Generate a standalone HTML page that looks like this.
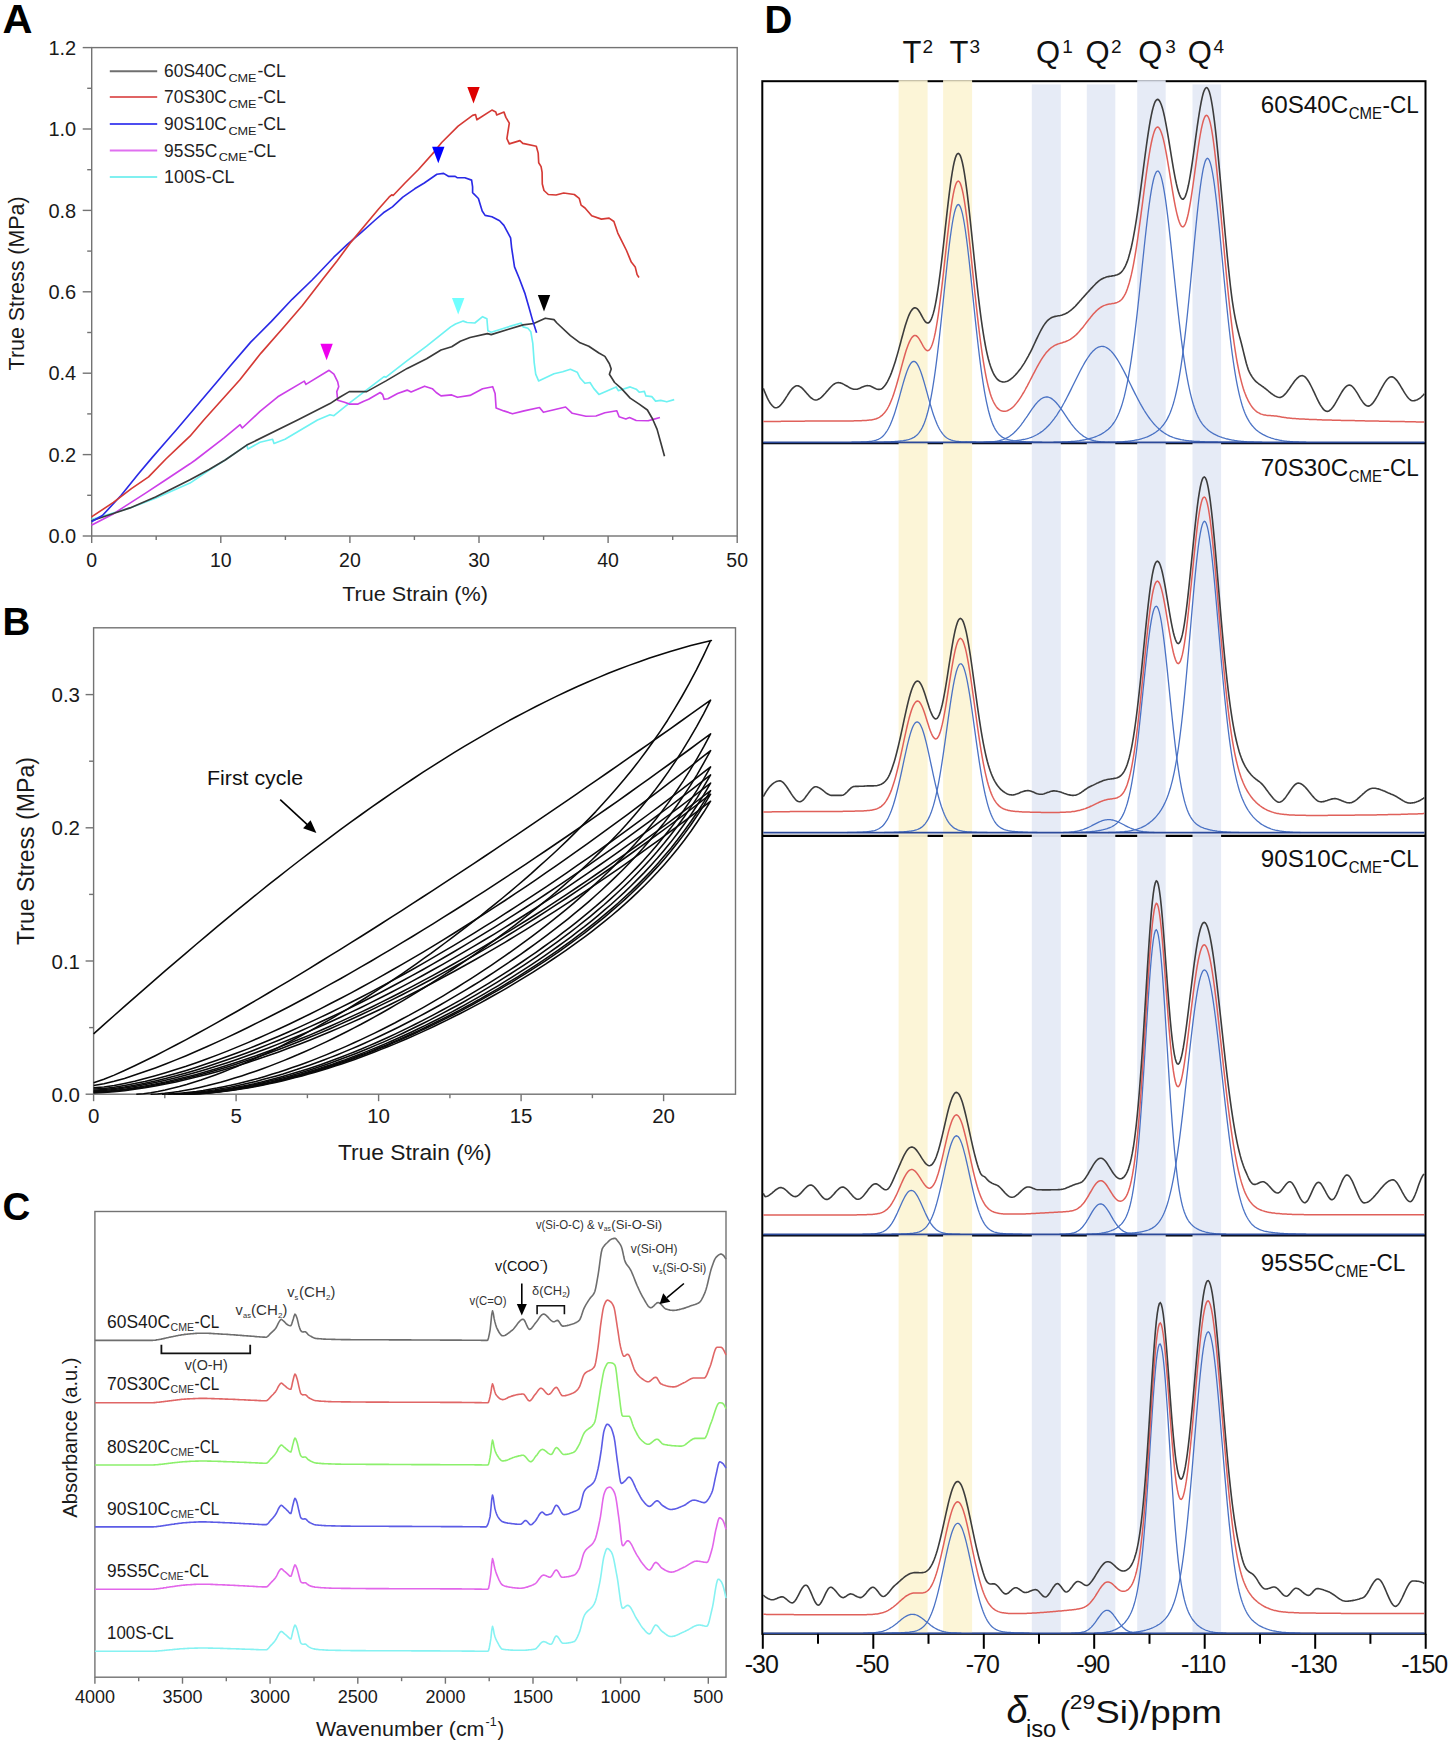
<!DOCTYPE html>
<html><head><meta charset="utf-8"><style>
html,body{margin:0;padding:0;background:#fff;}
svg{display:block;}
text{font-family:"Liberation Sans",sans-serif;}
</style></head><body>
<svg width="1450" height="1745" viewBox="0 0 1450 1745">
<rect width="1450" height="1745" fill="#fff"/>
<text x="2.5" y="33" font-size="41.5" text-anchor="start" fill="#000" font-weight="bold" >A</text>
<rect x="91.7" y="47.6" width="645.5" height="488.4" fill="none" stroke="#737373" stroke-width="1.4"/>
<line x1="82.7" y1="536" x2="91.7" y2="536" stroke="#737373" stroke-width="1.4"/>
<text x="76.2" y="543.2" font-size="20" text-anchor="end" fill="#1a1a1a" font-weight="normal" >0.0</text>
<line x1="87.2" y1="495.3" x2="91.7" y2="495.3" stroke="#737373" stroke-width="1.4"/>
<line x1="82.7" y1="454.6" x2="91.7" y2="454.6" stroke="#737373" stroke-width="1.4"/>
<text x="76.2" y="461.8" font-size="20" text-anchor="end" fill="#1a1a1a" font-weight="normal" >0.2</text>
<line x1="87.2" y1="413.9" x2="91.7" y2="413.9" stroke="#737373" stroke-width="1.4"/>
<line x1="82.7" y1="373.2" x2="91.7" y2="373.2" stroke="#737373" stroke-width="1.4"/>
<text x="76.2" y="380.4" font-size="20" text-anchor="end" fill="#1a1a1a" font-weight="normal" >0.4</text>
<line x1="87.2" y1="332.5" x2="91.7" y2="332.5" stroke="#737373" stroke-width="1.4"/>
<line x1="82.7" y1="291.8" x2="91.7" y2="291.8" stroke="#737373" stroke-width="1.4"/>
<text x="76.2" y="299" font-size="20" text-anchor="end" fill="#1a1a1a" font-weight="normal" >0.6</text>
<line x1="87.2" y1="251.1" x2="91.7" y2="251.1" stroke="#737373" stroke-width="1.4"/>
<line x1="82.7" y1="210.4" x2="91.7" y2="210.4" stroke="#737373" stroke-width="1.4"/>
<text x="76.2" y="217.6" font-size="20" text-anchor="end" fill="#1a1a1a" font-weight="normal" >0.8</text>
<line x1="87.2" y1="169.7" x2="91.7" y2="169.7" stroke="#737373" stroke-width="1.4"/>
<line x1="82.7" y1="129" x2="91.7" y2="129" stroke="#737373" stroke-width="1.4"/>
<text x="76.2" y="136.2" font-size="20" text-anchor="end" fill="#1a1a1a" font-weight="normal" >1.0</text>
<line x1="87.2" y1="88.3" x2="91.7" y2="88.3" stroke="#737373" stroke-width="1.4"/>
<line x1="82.7" y1="47.6" x2="91.7" y2="47.6" stroke="#737373" stroke-width="1.4"/>
<text x="76.2" y="54.8" font-size="20" text-anchor="end" fill="#1a1a1a" font-weight="normal" >1.2</text>
<line x1="91.7" y1="536" x2="91.7" y2="543" stroke="#737373" stroke-width="1.4"/>
<text x="91.7" y="566.6" font-size="19.5" text-anchor="middle" fill="#1a1a1a" font-weight="normal" >0</text>
<line x1="156.2" y1="536" x2="156.2" y2="540" stroke="#737373" stroke-width="1.4"/>
<line x1="220.8" y1="536" x2="220.8" y2="543" stroke="#737373" stroke-width="1.4"/>
<text x="220.8" y="566.6" font-size="19.5" text-anchor="middle" fill="#1a1a1a" font-weight="normal" >10</text>
<line x1="285.4" y1="536" x2="285.4" y2="540" stroke="#737373" stroke-width="1.4"/>
<line x1="349.9" y1="536" x2="349.9" y2="543" stroke="#737373" stroke-width="1.4"/>
<text x="349.9" y="566.6" font-size="19.5" text-anchor="middle" fill="#1a1a1a" font-weight="normal" >20</text>
<line x1="414.4" y1="536" x2="414.4" y2="540" stroke="#737373" stroke-width="1.4"/>
<line x1="479" y1="536" x2="479" y2="543" stroke="#737373" stroke-width="1.4"/>
<text x="479" y="566.6" font-size="19.5" text-anchor="middle" fill="#1a1a1a" font-weight="normal" >30</text>
<line x1="543.6" y1="536" x2="543.6" y2="540" stroke="#737373" stroke-width="1.4"/>
<line x1="608.1" y1="536" x2="608.1" y2="543" stroke="#737373" stroke-width="1.4"/>
<text x="608.1" y="566.6" font-size="19.5" text-anchor="middle" fill="#1a1a1a" font-weight="normal" >40</text>
<line x1="672.7" y1="536" x2="672.7" y2="540" stroke="#737373" stroke-width="1.4"/>
<line x1="737.2" y1="536" x2="737.2" y2="543" stroke="#737373" stroke-width="1.4"/>
<text x="737.2" y="566.6" font-size="19.5" text-anchor="middle" fill="#1a1a1a" font-weight="normal" >50</text>
<text x="342.2" y="600.9" font-size="21" text-anchor="start" fill="#1a1a1a" font-weight="normal" textLength="145.7" lengthAdjust="spacingAndGlyphs" >True Strain (%)</text>
<g transform="translate(24.2,370.4) rotate(-90)"><text x="0" y="0" font-size="21.5" text-anchor="start" fill="#1a1a1a" font-weight="normal" textLength="174" lengthAdjust="spacingAndGlyphs" >True Stress (MPa)</text></g>
<line x1="109.8" y1="71.2" x2="157.2" y2="71.2" stroke="#6f6f6f" stroke-width="2"/>
<text x="164.1" y="77.4" font-size="18" text-anchor="start" fill="#222" font-weight="normal" textLength="62.8" lengthAdjust="spacingAndGlyphs" >60S40C</text>
<text x="228.4" y="82" font-size="11.5" text-anchor="start" fill="#222" font-weight="normal" textLength="28.2" lengthAdjust="spacingAndGlyphs" >CME</text>
<text x="257.4" y="77.4" font-size="18" text-anchor="start" fill="#222" font-weight="normal" textLength="28.5" lengthAdjust="spacingAndGlyphs" >-CL</text>
<line x1="109.8" y1="97.1" x2="157.2" y2="97.1" stroke="#e06464" stroke-width="2"/>
<text x="164.1" y="103.3" font-size="18" text-anchor="start" fill="#222" font-weight="normal" textLength="62.8" lengthAdjust="spacingAndGlyphs" >70S30C</text>
<text x="228.4" y="107.9" font-size="11.5" text-anchor="start" fill="#222" font-weight="normal" textLength="28.2" lengthAdjust="spacingAndGlyphs" >CME</text>
<text x="257.4" y="103.3" font-size="18" text-anchor="start" fill="#222" font-weight="normal" textLength="28.5" lengthAdjust="spacingAndGlyphs" >-CL</text>
<line x1="109.8" y1="124.1" x2="157.2" y2="124.1" stroke="#4d4df0" stroke-width="2"/>
<text x="164.1" y="130.3" font-size="18" text-anchor="start" fill="#222" font-weight="normal" textLength="62.8" lengthAdjust="spacingAndGlyphs" >90S10C</text>
<text x="228.4" y="134.9" font-size="11.5" text-anchor="start" fill="#222" font-weight="normal" textLength="28.2" lengthAdjust="spacingAndGlyphs" >CME</text>
<text x="257.4" y="130.3" font-size="18" text-anchor="start" fill="#222" font-weight="normal" textLength="28.5" lengthAdjust="spacingAndGlyphs" >-CL</text>
<line x1="109.8" y1="150.6" x2="157.2" y2="150.6" stroke="#e070f0" stroke-width="2"/>
<text x="164.1" y="156.8" font-size="18" text-anchor="start" fill="#222" font-weight="normal" textLength="53.1" lengthAdjust="spacingAndGlyphs" >95S5C</text>
<text x="218.7" y="161.4" font-size="11.5" text-anchor="start" fill="#222" font-weight="normal" textLength="28.2" lengthAdjust="spacingAndGlyphs" >CME</text>
<text x="247.7" y="156.8" font-size="18" text-anchor="start" fill="#222" font-weight="normal" textLength="28.5" lengthAdjust="spacingAndGlyphs" >-CL</text>
<line x1="109.8" y1="177.1" x2="157.2" y2="177.1" stroke="#80f0f0" stroke-width="2"/>
<text x="164.1" y="183.3" font-size="18" text-anchor="start" fill="#222" font-weight="normal" textLength="70.4" lengthAdjust="spacingAndGlyphs" >100S-CL</text>
<path d="M91.5,519.5 L130,507.9 L155.5,498.3 L190,483.1 L209.7,469.7 L225.2,460 L246.8,445.1 L247.9,449 L260,442.3 L272.6,439.3 L274,443.4 L285,439.3 L317.5,420 L330,414.7 L333.9,415.7 L349.3,403.1 L365.7,390.6 L384.1,376.6 L386,377.1 L407.2,360.7 L426.6,346.2 L450.7,326.9 L455.5,324 L463.2,321.1 L467.1,322.5 L474.8,323 L482.6,316.7 L486.9,318.7 L487.9,330.7 L491.2,332.2 L511.5,325.9 L521.2,323 L523.1,326.9 L527.9,328.3 L530.8,331.7 L532.8,343.3 L534.2,362.6 L535.7,374.2 L538.6,380.9 L554,373.7 L562.7,371.8 L570.4,369.3 L577.2,372.2 L580.1,378 L584.9,383.3 L590,382.5 L593.7,388.4 L598.9,394.4 L616.1,386.9 L618.3,390.7 L630.2,386.9 L636.2,389.2 L639.2,392.2 L644.4,391.4 L645.9,395.9 L651.8,396.6 L655.6,401.1 L660.8,400.4 L666.8,401.8 L674.2,399.6" fill="none" stroke="#6ef2f2" stroke-width="1.65" stroke-linejoin="round"/>
<path d="M91.4,525.2 L114.1,513.4 L124.5,506.6 L145.2,493.4 L165.9,479.7 L190,463.8 L195.4,460 L224.1,437.9 L240.1,424.7 L242.3,428 L260,411.4 L277.8,396.8 L304.3,381.1 L305.9,384.4 L329.1,370.3 L333.9,374.2 L337.7,381.9 L338.7,386.7 L336.8,391.6 L337.7,400.2 L344.5,402.2 L349.3,404.1 L358,404.1 L363.8,401.2 L368.6,399.3 L380.2,392.5 L382.6,394.5 L384.1,399.3 L387.9,398.8 L397.6,393.5 L407.2,390.1 L411.1,392 L424.6,386.2 L432.3,388.7 L436.2,392.5 L441,395.9 L451.7,394.9 L457.5,397.3 L470,395.4 L482.6,388.7 L492.7,386.7 L495.1,393.5 L496.1,408 L503.8,410.9 L512.5,413.8 L524.1,410.9 L539.5,407.5 L543.4,412.3 L565.6,407 L572.3,413.3 L585.9,416.2 L596,416 L604.9,412.7 L616.8,410.8 L619.1,416.8 L625.8,419 L629.5,417.5 L636.2,420.5 L648.1,420.8 L653.3,419.4 L660,417.5" fill="none" stroke="#cc3fe8" stroke-width="1.65" stroke-linejoin="round"/>
<path d="M91.5,520.7 L112.6,513.8 L130,507.9 L155.5,496.9 L190,479.7 L209.1,469.5 L225.2,460 L246.8,445.1 L297.6,420 L330,403.6 L339.7,397.3 L349.3,391.6 L359,391.6 L366.7,391.6 L386,380.9 L407.2,368.4 L426.6,358.7 L441,350 L451.7,346.7 L460.3,341.3 L470,337.5 L487.4,333.6 L491.2,334.6 L508.6,329.3 L523.1,324.9 L533.7,323.5 L545.3,318.2 L554,319.6 L556.9,323 L570.4,335.6 L580.1,342.8 L588.8,346.2 L598.9,353 L604.9,356.4 L609.4,363.8 L611.2,369.1 L609.4,374.3 L614.6,382.5 L621.3,388.4 L630.2,398.1 L639.2,404.1 L647.4,410 L652.6,419 L657.1,429.4 L660.8,442.8 L664.5,456.2" fill="none" stroke="#3a3a3a" stroke-width="1.65" stroke-linejoin="round"/>
<path d="M91.5,521.7 L102.4,515.5 L121,495.5 L138.3,474.1 L152.1,457.6 L165.9,441.7 L176.2,430 L218.6,380 L230,366.2 L250.7,342.1 L271.4,321.4 L292.1,299.3 L312.1,280 L320,271.7 L333.8,257.2 L347.6,244.1 L361.4,232.4 L375.2,220 L383.4,212.8 L392.4,206.9 L402.8,197.2 L414.7,188.8 L424.3,183 L436.9,174.3 L443.6,173.4 L448.4,176.3 L455.2,176.3 L457.1,177.7 L464.9,177.7 L471.6,180.1 L472.6,186.9 L472.6,192.7 L478.4,198.5 L482.2,211 L485.1,215.4 L491.9,216.8 L499.6,220.7 L503.9,225.4 L510.6,237.9 L511.6,247.6 L514.5,266.9 L519.3,278.5 L525.1,293.9 L529,307.4 L532.8,321.1 L536.6,332.7" fill="none" stroke="#2a2ae6" stroke-width="1.65" stroke-linejoin="round"/>
<path d="M91.5,516.9 L113.4,502.4 L131.4,488.6 L148.6,476.9 L165.9,459 L179.7,445.9 L190,436.2 L203.8,420 L239.7,380 L261,353.1 L285.2,325.5 L302.4,305.5 L322.1,280 L337.2,260.7 L351,242.1 L364.8,225.5 L378.6,209 L389,197.2 L391.7,194.8 L393.1,195.5 L399.3,189 L405,183 L418.5,169.5 L434,152.1 L441.7,142.5 L458.1,126.1 L472.6,115.4 L475.5,114.5 L476.9,119.8 L491.9,110.1 L495.8,112.1 L496.7,115 L504,112.1 L505.9,117.4 L509.3,123.2 L506.9,138.6 L509.3,143.9 L519.9,140.6 L522.8,143.4 L536.3,146.3 L538.2,153.1 L538.7,162.8 L541.1,166.6 L542.1,172.4 L542.3,184 L544,190.5 L548.3,194.5 L556,195 L563.7,193 L574.3,194.5 L579.2,198.3 L581.1,205.1 L585,208 L591.7,215.7 L601.4,219.1 L609.1,218.1 L613.9,221.5 L617.8,233.1 L621.7,240.8 L626.5,250.5 L631.3,262.1 L635.2,266.9 L637.1,274.6 L639,277.5" fill="none" stroke="#d53a35" stroke-width="1.65" stroke-linejoin="round"/>
<path d="M467.3,86.9 L479.7,86.9 L473.5,103.4 Z" fill="#dd0000"/>
<path d="M432.1,146.7 L444.5,146.7 L438.3,163.2 Z" fill="#0000ff"/>
<path d="M320.4,343.8 L332.8,343.8 L326.6,360.3 Z" fill="#ee00ee"/>
<path d="M452,297.9 L464.4,297.9 L458.2,314.4 Z" fill="#70ffff"/>
<path d="M537.8,294.9 L550.2,294.9 L544,311.4 Z" fill="#000"/>
<text x="2.5" y="635.3" font-size="38.5" text-anchor="start" fill="#000" font-weight="bold" >B</text>
<rect x="93.6" y="627.8" width="641.9" height="466.4" fill="none" stroke="#737373" stroke-width="1.4"/>
<line x1="85.6" y1="1094.2" x2="93.6" y2="1094.2" stroke="#737373" stroke-width="1.4"/>
<text x="80" y="1101.7" font-size="20.5" text-anchor="end" fill="#1a1a1a" font-weight="normal" >0.0</text>
<line x1="89.1" y1="1027.6" x2="93.6" y2="1027.6" stroke="#737373" stroke-width="1.4"/>
<line x1="85.6" y1="961" x2="93.6" y2="961" stroke="#737373" stroke-width="1.4"/>
<text x="80" y="968.5" font-size="20.5" text-anchor="end" fill="#1a1a1a" font-weight="normal" >0.1</text>
<line x1="89.1" y1="894.4" x2="93.6" y2="894.4" stroke="#737373" stroke-width="1.4"/>
<line x1="85.6" y1="827.8" x2="93.6" y2="827.8" stroke="#737373" stroke-width="1.4"/>
<text x="80" y="835.3" font-size="20.5" text-anchor="end" fill="#1a1a1a" font-weight="normal" >0.2</text>
<line x1="89.1" y1="761.2" x2="93.6" y2="761.2" stroke="#737373" stroke-width="1.4"/>
<line x1="85.6" y1="694.6" x2="93.6" y2="694.6" stroke="#737373" stroke-width="1.4"/>
<text x="80" y="702.1" font-size="20.5" text-anchor="end" fill="#1a1a1a" font-weight="normal" >0.3</text>
<line x1="93.6" y1="1094.2" x2="93.6" y2="1101.2" stroke="#737373" stroke-width="1.4"/>
<text x="93.6" y="1123" font-size="20.5" text-anchor="middle" fill="#1a1a1a" font-weight="normal" >0</text>
<line x1="164.8" y1="1094.2" x2="164.8" y2="1098.2" stroke="#737373" stroke-width="1.4"/>
<line x1="236.1" y1="1094.2" x2="236.1" y2="1101.2" stroke="#737373" stroke-width="1.4"/>
<text x="236.1" y="1123" font-size="20.5" text-anchor="middle" fill="#1a1a1a" font-weight="normal" >5</text>
<line x1="307.4" y1="1094.2" x2="307.4" y2="1098.2" stroke="#737373" stroke-width="1.4"/>
<line x1="378.6" y1="1094.2" x2="378.6" y2="1101.2" stroke="#737373" stroke-width="1.4"/>
<text x="378.6" y="1123" font-size="20.5" text-anchor="middle" fill="#1a1a1a" font-weight="normal" >10</text>
<line x1="449.9" y1="1094.2" x2="449.9" y2="1098.2" stroke="#737373" stroke-width="1.4"/>
<line x1="521.1" y1="1094.2" x2="521.1" y2="1101.2" stroke="#737373" stroke-width="1.4"/>
<text x="521.1" y="1123" font-size="20.5" text-anchor="middle" fill="#1a1a1a" font-weight="normal" >15</text>
<line x1="592.4" y1="1094.2" x2="592.4" y2="1098.2" stroke="#737373" stroke-width="1.4"/>
<line x1="663.6" y1="1094.2" x2="663.6" y2="1101.2" stroke="#737373" stroke-width="1.4"/>
<text x="663.6" y="1123" font-size="20.5" text-anchor="middle" fill="#1a1a1a" font-weight="normal" >20</text>
<text x="337.9" y="1160" font-size="22.5" text-anchor="start" fill="#1a1a1a" font-weight="normal" textLength="153.8" lengthAdjust="spacingAndGlyphs" >True Strain (%)</text>
<g transform="translate(34,945) rotate(-90)"><text x="0" y="0" font-size="23" text-anchor="start" fill="#1a1a1a" font-weight="normal" textLength="188" lengthAdjust="spacingAndGlyphs" >True Stress (MPa)</text></g>
<text x="207" y="785.4" font-size="20" text-anchor="start" fill="#111" font-weight="normal" textLength="96" lengthAdjust="spacingAndGlyphs" >First cycle</text>
<line x1="280.2" y1="799.7" x2="310" y2="827.2" stroke="#000" stroke-width="1.6"/>
<path d="M316.4,833 L303.1,828.2 L310.6,820.2 Z" fill="#000"/>
<path d="M93.6,1033.9 L103.9,1024.7 L114.2,1015.5 L124.5,1006.4 L134.8,997.3 L145.1,988.3 L155.4,979.3 L165.7,970.4 L176,961.6 L186.3,952.8 L196.6,944 L206.9,935.3 L217.2,926.7 L227.5,918.2 L237.8,909.7 L248,901.3 L258.3,893 L268.6,884.7 L278.9,876.6 L289.2,868.5 L299.5,860.5 L309.8,852.6 L320.1,844.8 L330.4,837.1 L340.7,829.4 L351,821.9 L361.3,814.5 L371.6,807.2 L381.9,800 L392.2,792.9 L402.5,785.9 L412.8,779 L423.1,772.2 L433.4,765.6 L443.7,759.1 L454,752.7 L464.3,746.4 L474.6,740.3 L484.9,734.3 L495.2,728.4 L505.5,722.6 L515.8,717 L526.1,711.6 L536.4,706.3 L546.7,701.1 L556.9,696.1 L567.2,691.2 L577.5,686.5 L587.8,682 L598.1,677.6 L608.4,673.3 L618.7,669.3 L629,665.4 L639.3,661.7 L649.6,658.1 L659.9,654.7 L670.2,651.5 L680.5,648.5 L690.8,645.6 L701.1,643 L711.4,640.5 L710.6,640.5 L703.4,655.8 L696.3,670.2 L689.1,683.7 L681.9,696.5 L674.7,708.7 L667.6,720.2 L660.4,731.1 L653.2,741.5 L646,751.5 L638.8,761.1 L631.7,770.2 L624.5,779.1 L617.3,787.6 L610.1,795.8 L602.9,803.8 L595.8,811.6 L588.6,819.1 L581.4,826.4 L574.2,833.6 L567.1,840.6 L559.9,847.5 L552.7,854.2 L545.5,860.8 L538.3,867.2 L531.2,873.6 L524,879.8 L516.8,886 L509.6,892.1 L502.5,898 L495.3,903.9 L488.1,909.7 L480.9,915.5 L473.7,921.1 L466.6,926.7 L459.4,932.2 L452.2,937.7 L445,943 L437.8,948.3 L430.7,953.6 L423.5,958.7 L416.3,963.8 L409.1,968.8 L402,973.8 L394.8,978.7 L387.6,983.5 L380.4,988.2 L373.2,992.9 L366.1,997.5 L358.9,1002 L351.7,1006.5 L344.5,1010.9 L337.3,1015.2 L330.2,1019.4 L323,1023.5 L315.8,1027.6 L308.6,1031.6 L301.5,1035.5 L294.3,1039.3 L287.1,1043 L279.9,1046.7 L272.7,1050.2 L265.6,1053.7 L258.4,1057 L251.2,1060.3 L244,1063.4 L236.8,1066.5 L229.7,1069.4 L222.5,1072.2 L215.3,1074.9 L208.1,1077.5 L201,1080 L193.8,1082.3 L186.6,1084.5 L179.4,1086.5 L172.2,1088.3 L165.1,1090 L157.9,1091.5 L150.7,1092.7 L143.5,1093.7 L136.3,1094.2" fill="none" stroke="#0a0a0a" stroke-width="1.55" stroke-linejoin="round"/>
<path d="M93.6,1082.7 L103.9,1079.3 L114.2,1075.1 L124.5,1070.5 L134.7,1065.8 L145,1060.8 L155.3,1055.7 L165.6,1050.4 L175.9,1045 L186.2,1039.6 L196.4,1034 L206.7,1028.4 L217,1022.6 L227.3,1016.8 L237.6,1011 L247.9,1005 L258.1,999.1 L268.4,993 L278.7,986.9 L289,980.8 L299.3,974.6 L309.6,968.3 L319.8,962 L330.1,955.7 L340.4,949.3 L350.7,942.9 L361,936.5 L371.3,930 L381.5,923.5 L391.8,916.9 L402.1,910.3 L412.4,903.7 L422.7,897 L433,890.3 L443.2,883.6 L453.5,876.9 L463.8,870.1 L474.1,863.3 L484.4,856.5 L494.7,849.6 L505,842.7 L515.2,835.8 L525.5,828.8 L535.8,821.9 L546.1,814.9 L556.4,807.9 L566.7,800.8 L576.9,793.8 L587.2,786.7 L597.5,779.6 L607.8,772.5 L618.1,765.3 L628.4,758.2 L638.6,751 L648.9,743.8 L659.2,736.5 L669.5,729.3 L679.8,722 L690.1,714.7 L700.3,707.4 L710.6,700.1 L710.6,700.1 L703.6,713.8 L696.6,726.6 L689.6,738.7 L682.6,750.2 L675.6,761.1 L668.6,771.4 L661.6,781.2 L654.6,790.6 L647.6,799.5 L640.6,808.1 L633.6,816.3 L626.6,824.3 L619.6,831.9 L612.6,839.3 L605.6,846.5 L598.6,853.4 L591.6,860.2 L584.6,866.8 L577.6,873.2 L570.6,879.5 L563.6,885.6 L556.6,891.6 L549.6,897.5 L542.6,903.2 L535.6,908.9 L528.6,914.4 L521.6,919.9 L514.6,925.3 L507.6,930.5 L500.6,935.7 L493.6,940.9 L486.6,945.9 L479.6,950.9 L472.6,955.8 L465.6,960.6 L458.6,965.3 L451.6,970 L444.6,974.6 L437.6,979.2 L430.6,983.6 L423.6,988 L416.6,992.4 L409.6,996.6 L402.6,1000.8 L395.6,1004.9 L388.6,1009 L381.6,1013 L374.6,1016.9 L367.6,1020.7 L360.6,1024.5 L353.6,1028.1 L346.6,1031.7 L339.6,1035.3 L332.6,1038.7 L325.6,1042.1 L318.6,1045.4 L311.6,1048.6 L304.6,1051.7 L297.6,1054.8 L290.6,1057.7 L283.6,1060.6 L276.6,1063.4 L269.6,1066.1 L262.6,1068.7 L255.6,1071.2 L248.6,1073.6 L241.6,1075.9 L234.6,1078.1 L227.6,1080.2 L220.6,1082.2 L213.6,1084 L206.6,1085.8 L199.6,1087.4 L192.6,1088.9 L185.6,1090.2 L178.6,1091.4 L171.6,1092.4 L164.6,1093.3 L157.6,1093.9 L150.6,1094.2" fill="none" stroke="#0a0a0a" stroke-width="1.55" stroke-linejoin="round"/>
<path d="M93.6,1085.5 L103.9,1083.8 L114.2,1081.3 L124.5,1078.4 L134.7,1075.1 L145,1071.6 L155.3,1067.9 L165.6,1064 L175.9,1059.9 L186.2,1055.7 L196.4,1051.3 L206.7,1046.8 L217,1042.1 L227.3,1037.4 L237.6,1032.5 L247.9,1027.5 L258.1,1022.4 L268.4,1017.3 L278.7,1012 L289,1006.7 L299.3,1001.2 L309.6,995.7 L319.8,990.1 L330.1,984.4 L340.4,978.7 L350.7,972.8 L361,966.9 L371.3,961 L381.5,954.9 L391.8,948.8 L402.1,942.7 L412.4,936.5 L422.7,930.2 L433,923.8 L443.2,917.4 L453.5,911 L463.8,904.5 L474.1,897.9 L484.4,891.3 L494.7,884.6 L505,877.9 L515.2,871.1 L525.5,864.3 L535.8,857.4 L546.1,850.5 L556.4,843.5 L566.7,836.5 L576.9,829.5 L587.2,822.4 L597.5,815.2 L607.8,808 L618.1,800.8 L628.4,793.5 L638.6,786.2 L648.9,778.8 L659.2,771.4 L669.5,764 L679.8,756.5 L690.1,749 L700.3,741.4 L710.6,733.8 L710.6,733.8 L703.8,746.7 L696.9,758.8 L690.1,770.2 L683.2,781.1 L676.3,791.3 L669.5,801.1 L662.6,810.4 L655.8,819.2 L648.9,827.7 L642,835.9 L635.2,843.7 L628.3,851.2 L621.5,858.4 L614.6,865.4 L607.8,872.2 L600.9,878.8 L594,885.1 L587.2,891.4 L580.3,897.4 L573.5,903.3 L566.6,909.1 L559.8,914.7 L552.9,920.2 L546,925.6 L539.2,930.9 L532.3,936.1 L525.5,941.2 L518.6,946.2 L511.7,951.1 L504.9,955.9 L498,960.7 L491.2,965.3 L484.3,969.9 L477.5,974.4 L470.6,978.8 L463.7,983.2 L456.9,987.5 L450,991.7 L443.2,995.8 L436.3,999.9 L429.5,1003.8 L422.6,1007.8 L415.7,1011.6 L408.9,1015.4 L402,1019 L395.2,1022.7 L388.3,1026.2 L381.4,1029.7 L374.6,1033.1 L367.7,1036.4 L360.9,1039.6 L354,1042.8 L347.2,1045.9 L340.3,1048.9 L333.4,1051.8 L326.6,1054.6 L319.7,1057.4 L312.9,1060.1 L306,1062.7 L299.2,1065.2 L292.3,1067.6 L285.4,1069.9 L278.6,1072.2 L271.7,1074.3 L264.9,1076.4 L258,1078.4 L251.2,1080.2 L244.3,1082 L237.4,1083.7 L230.6,1085.3 L223.7,1086.7 L216.9,1088.1 L210,1089.3 L203.1,1090.5 L196.3,1091.5 L189.4,1092.3 L182.6,1093 L175.7,1093.6 L168.9,1094 L162,1094.2" fill="none" stroke="#0a0a0a" stroke-width="1.55" stroke-linejoin="round"/>
<path d="M93.6,1087.8 L103.9,1086.9 L114.2,1085.4 L124.5,1083.4 L134.7,1081.2 L145,1078.6 L155.3,1075.8 L165.6,1072.8 L175.9,1069.6 L186.2,1066.3 L196.4,1062.7 L206.7,1059 L217,1055.1 L227.3,1051.1 L237.6,1046.9 L247.9,1042.6 L258.1,1038.2 L268.4,1033.6 L278.7,1029 L289,1024.2 L299.3,1019.2 L309.6,1014.2 L319.8,1009.1 L330.1,1003.8 L340.4,998.5 L350.7,993.1 L361,987.5 L371.3,981.9 L381.5,976.1 L391.8,970.3 L402.1,964.4 L412.4,958.4 L422.7,952.3 L433,946.1 L443.2,939.8 L453.5,933.5 L463.8,927 L474.1,920.5 L484.4,913.9 L494.7,907.2 L505,900.5 L515.2,893.7 L525.5,886.8 L535.8,879.8 L546.1,872.7 L556.4,865.6 L566.7,858.4 L576.9,851.1 L587.2,843.8 L597.5,836.4 L607.8,828.9 L618.1,821.4 L628.4,813.8 L638.6,806.1 L648.9,798.4 L659.2,790.6 L669.5,782.7 L679.8,774.8 L690.1,766.8 L700.3,758.7 L710.6,750.6 L710.6,750.6 L703.8,762.9 L697.1,774.6 L690.3,785.6 L683.5,795.9 L676.7,805.8 L669.9,815.2 L663.1,824.1 L656.3,832.6 L649.5,840.7 L642.8,848.5 L636,856 L629.2,863.2 L622.4,870.2 L615.6,876.9 L608.8,883.4 L602,889.7 L595.3,895.8 L588.5,901.8 L581.7,907.6 L574.9,913.2 L568.1,918.8 L561.3,924.2 L554.5,929.4 L547.7,934.6 L541,939.7 L534.2,944.6 L527.4,949.5 L520.6,954.3 L513.8,959 L507,963.6 L500.2,968.1 L493.5,972.6 L486.7,977 L479.9,981.3 L473.1,985.5 L466.3,989.6 L459.5,993.7 L452.7,997.7 L445.9,1001.6 L439.2,1005.5 L432.4,1009.3 L425.6,1013 L418.8,1016.6 L412,1020.2 L405.2,1023.7 L398.4,1027.2 L391.7,1030.5 L384.9,1033.8 L378.1,1037 L371.3,1040.1 L364.5,1043.2 L357.7,1046.2 L350.9,1049.1 L344.2,1051.9 L337.4,1054.7 L330.6,1057.4 L323.8,1060 L317,1062.5 L310.2,1064.9 L303.4,1067.3 L296.6,1069.6 L289.9,1071.7 L283.1,1073.9 L276.3,1075.9 L269.5,1077.8 L262.7,1079.6 L255.9,1081.4 L249.1,1083 L242.4,1084.6 L235.6,1086 L228.8,1087.4 L222,1088.6 L215.2,1089.8 L208.4,1090.8 L201.6,1091.7 L194.8,1092.5 L188.1,1093.2 L181.3,1093.7 L174.5,1094 L167.7,1094.2" fill="none" stroke="#0a0a0a" stroke-width="1.55" stroke-linejoin="round"/>
<path d="M93.6,1089.1 L103.9,1088.4 L114.2,1087.2 L124.5,1085.5 L134.7,1083.6 L145,1081.4 L155.3,1078.9 L165.6,1076.3 L175.9,1073.4 L186.2,1070.4 L196.4,1067.2 L206.7,1063.8 L217,1060.3 L227.3,1056.6 L237.6,1052.8 L247.9,1048.9 L258.1,1044.8 L268.4,1040.5 L278.7,1036.2 L289,1031.7 L299.3,1027.1 L309.6,1022.4 L319.8,1017.6 L330.1,1012.7 L340.4,1007.6 L350.7,1002.5 L361,997.2 L371.3,991.9 L381.5,986.4 L391.8,980.9 L402.1,975.2 L412.4,969.5 L422.7,963.6 L433,957.7 L443.2,951.7 L453.5,945.6 L463.8,939.4 L474.1,933.1 L484.4,926.7 L494.7,920.3 L505,913.7 L515.2,907.1 L525.5,900.4 L535.8,893.6 L546.1,886.8 L556.4,879.8 L566.7,872.8 L576.9,865.7 L587.2,858.6 L597.5,851.3 L607.8,844 L618.1,836.6 L628.4,829.1 L638.6,821.6 L648.9,814 L659.2,806.3 L669.5,798.6 L679.8,790.8 L690.1,782.9 L700.3,774.9 L710.6,766.9 L710.6,766.9 L703.9,778.7 L697.2,789.8 L690.5,800.3 L683.8,810.2 L677,819.6 L670.3,828.6 L663.6,837.1 L656.9,845.2 L650.2,853 L643.5,860.5 L636.8,867.6 L630,874.5 L623.3,881.2 L616.6,887.6 L609.9,893.8 L603.2,899.8 L596.5,905.7 L589.7,911.4 L583,916.9 L576.3,922.3 L569.6,927.6 L562.9,932.7 L556.2,937.8 L549.5,942.7 L542.7,947.5 L536,952.3 L529.3,956.9 L522.6,961.5 L515.9,966 L509.2,970.4 L502.5,974.7 L495.7,978.9 L489,983.1 L482.3,987.2 L475.6,991.2 L468.9,995.2 L462.2,999.1 L455.4,1002.9 L448.7,1006.6 L442,1010.3 L435.3,1013.9 L428.6,1017.4 L421.9,1020.9 L415.2,1024.3 L408.4,1027.6 L401.7,1030.9 L395,1034.1 L388.3,1037.2 L381.6,1040.2 L374.9,1043.2 L368.1,1046.1 L361.4,1049 L354.7,1051.7 L348,1054.4 L341.3,1057 L334.6,1059.5 L327.9,1062 L321.1,1064.4 L314.4,1066.7 L307.7,1068.9 L301,1071.1 L294.3,1073.1 L287.6,1075.1 L280.8,1077 L274.1,1078.8 L267.4,1080.6 L260.7,1082.2 L254,1083.8 L247.3,1085.2 L240.6,1086.6 L233.8,1087.8 L227.1,1089 L220.4,1090.1 L213.7,1091.1 L207,1091.9 L200.3,1092.6 L193.5,1093.3 L186.8,1093.7 L180.1,1094.1 L173.4,1094.2" fill="none" stroke="#0a0a0a" stroke-width="1.55" stroke-linejoin="round"/>
<path d="M93.6,1090.2 L103.9,1089.6 L114.2,1088.5 L124.5,1087 L134.7,1085.2 L145,1083.2 L155.3,1080.9 L165.6,1078.4 L175.9,1075.8 L186.2,1072.9 L196.4,1069.9 L206.7,1066.7 L217,1063.3 L227.3,1059.8 L237.6,1056.2 L247.9,1052.4 L258.1,1048.5 L268.4,1044.4 L278.7,1040.2 L289,1035.9 L299.3,1031.5 L309.6,1026.9 L319.8,1022.3 L330.1,1017.5 L340.4,1012.6 L350.7,1007.6 L361,1002.5 L371.3,997.3 L381.5,992 L391.8,986.5 L402.1,981 L412.4,975.4 L422.7,969.7 L433,963.9 L443.2,958 L453.5,952 L463.8,945.9 L474.1,939.7 L484.4,933.4 L494.7,927.1 L505,920.6 L515.2,914.1 L525.5,907.5 L535.8,900.8 L546.1,894 L556.4,887.2 L566.7,880.2 L576.9,873.2 L587.2,866.1 L597.5,858.9 L607.8,851.7 L618.1,844.3 L628.4,836.9 L638.6,829.4 L648.9,821.8 L659.2,814.2 L669.5,806.5 L679.8,798.7 L690.1,790.8 L700.3,782.9 L710.6,774.9 L710.6,774.9 L703.9,786.4 L697.3,797.3 L690.6,807.6 L683.9,817.3 L677.2,826.5 L670.5,835.3 L663.9,843.6 L657.2,851.6 L650.5,859.2 L643.8,866.5 L637.1,873.5 L630.5,880.2 L623.8,886.7 L617.1,893 L610.4,899.1 L603.8,905 L597.1,910.7 L590.4,916.3 L583.7,921.7 L577,927 L570.4,932.1 L563.7,937.2 L557,942.1 L550.3,946.9 L543.6,951.7 L537,956.3 L530.3,960.8 L523.6,965.3 L516.9,969.7 L510.2,974 L503.6,978.2 L496.9,982.3 L490.2,986.4 L483.5,990.4 L476.8,994.3 L470.2,998.2 L463.5,1002 L456.8,1005.7 L450.1,1009.3 L443.4,1012.9 L436.8,1016.4 L430.1,1019.9 L423.4,1023.2 L416.7,1026.5 L410,1029.8 L403.4,1033 L396.7,1036.1 L390,1039.1 L383.3,1042.1 L376.6,1044.9 L370,1047.8 L363.3,1050.5 L356.6,1053.2 L349.9,1055.8 L343.2,1058.3 L336.6,1060.8 L329.9,1063.2 L323.2,1065.5 L316.5,1067.7 L309.8,1069.9 L303.2,1072 L296.5,1074 L289.8,1075.9 L283.1,1077.7 L276.4,1079.5 L269.8,1081.1 L263.1,1082.7 L256.4,1084.2 L249.7,1085.6 L243,1086.9 L236.4,1088.1 L229.7,1089.3 L223,1090.3 L216.3,1091.2 L209.6,1092 L203,1092.7 L196.3,1093.3 L189.6,1093.8 L182.9,1094.1 L176.2,1094.2" fill="none" stroke="#0a0a0a" stroke-width="1.55" stroke-linejoin="round"/>
<path d="M93.6,1091 L103.9,1090.5 L114.2,1089.5 L124.5,1088.1 L134.7,1086.5 L145,1084.6 L155.3,1082.5 L165.6,1080.2 L175.9,1077.7 L186.2,1075 L196.4,1072.2 L206.7,1069.2 L217,1066 L227.3,1062.7 L237.6,1059.2 L247.9,1055.6 L258.1,1051.8 L268.4,1048 L278.7,1043.9 L289,1039.8 L299.3,1035.5 L309.6,1031.1 L319.8,1026.6 L330.1,1022 L340.4,1017.3 L350.7,1012.4 L361,1007.5 L371.3,1002.4 L381.5,997.2 L391.8,992 L402.1,986.6 L412.4,981.1 L422.7,975.5 L433,969.8 L443.2,964.1 L453.5,958.2 L463.8,952.2 L474.1,946.2 L484.4,940 L494.7,933.8 L505,927.4 L515.2,921 L525.5,914.5 L535.8,907.9 L546.1,901.2 L556.4,894.4 L566.7,887.6 L576.9,880.6 L587.2,873.6 L597.5,866.5 L607.8,859.3 L618.1,852.1 L628.4,844.7 L638.6,837.3 L648.9,829.8 L659.2,822.2 L669.5,814.5 L679.8,806.8 L690.1,799 L700.3,791.1 L710.6,783.1 L710.6,783.1 L704,794.4 L697.3,805 L690.7,815 L684,824.5 L677.4,833.5 L670.8,842.1 L664.1,850.2 L657.5,858 L650.8,865.5 L644.2,872.6 L637.5,879.4 L630.9,886 L624.3,892.4 L617.6,898.5 L611,904.5 L604.3,910.2 L597.7,915.8 L591,921.3 L584.4,926.6 L577.7,931.7 L571.1,936.8 L564.5,941.7 L557.8,946.5 L551.2,951.2 L544.5,955.8 L537.9,960.4 L531.2,964.8 L524.6,969.1 L517.9,973.4 L511.3,977.6 L504.7,981.7 L498,985.8 L491.4,989.7 L484.7,993.6 L478.1,997.4 L471.4,1001.2 L464.8,1004.9 L458.2,1008.5 L451.5,1012.1 L444.9,1015.5 L438.2,1019 L431.6,1022.3 L424.9,1025.6 L418.3,1028.8 L411.6,1032 L405,1035 L398.4,1038 L391.7,1041 L385.1,1043.9 L378.4,1046.7 L371.8,1049.4 L365.1,1052.1 L358.5,1054.7 L351.8,1057.2 L345.2,1059.7 L338.6,1062 L331.9,1064.4 L325.3,1066.6 L318.6,1068.7 L312,1070.8 L305.3,1072.8 L298.7,1074.8 L292,1076.6 L285.4,1078.4 L278.8,1080.1 L272.1,1081.7 L265.5,1083.2 L258.8,1084.6 L252.2,1086 L245.5,1087.3 L238.9,1088.4 L232.3,1089.5 L225.6,1090.5 L219,1091.4 L212.3,1092.1 L205.7,1092.8 L199,1093.4 L192.4,1093.8 L185.7,1094.1 L179.1,1094.2" fill="none" stroke="#0a0a0a" stroke-width="1.55" stroke-linejoin="round"/>
<path d="M93.6,1091.8 L103.9,1091.4 L114.2,1090.5 L124.5,1089.2 L134.7,1087.7 L145,1086 L155.3,1084.1 L165.6,1081.9 L175.9,1079.6 L186.2,1077.1 L196.4,1074.4 L206.7,1071.5 L217,1068.5 L227.3,1065.3 L237.6,1062 L247.9,1058.6 L258.1,1055 L268.4,1051.3 L278.7,1047.4 L289,1043.4 L299.3,1039.3 L309.6,1035.1 L319.8,1030.7 L330.1,1026.2 L340.4,1021.6 L350.7,1016.9 L361,1012.1 L371.3,1007.2 L381.5,1002.1 L391.8,997 L402.1,991.8 L412.4,986.4 L422.7,980.9 L433,975.4 L443.2,969.7 L453.5,964 L463.8,958.1 L474.1,952.2 L484.4,946.1 L494.7,940 L505,933.7 L515.2,927.4 L525.5,921 L535.8,914.5 L546.1,907.9 L556.4,901.2 L566.7,894.4 L576.9,887.5 L587.2,880.6 L597.5,873.5 L607.8,866.4 L618.1,859.2 L628.4,851.9 L638.6,844.5 L648.9,837.1 L659.2,829.5 L669.5,821.9 L679.8,814.2 L690.1,806.4 L700.3,798.5 L710.6,790.6 L710.6,790.6 L704,801.6 L697.4,812 L690.7,821.8 L684.1,831 L677.5,839.8 L670.9,848.2 L664.2,856.1 L657.6,863.7 L651,871 L644.4,877.9 L637.7,884.6 L631.1,891.1 L624.5,897.3 L617.9,903.3 L611.2,909.1 L604.6,914.7 L598,920.1 L591.4,925.4 L584.7,930.6 L578.1,935.7 L571.5,940.6 L564.8,945.4 L558.2,950.1 L551.6,954.7 L545,959.2 L538.3,963.6 L531.7,967.9 L525.1,972.2 L518.5,976.3 L511.8,980.4 L505.2,984.4 L498.6,988.4 L492,992.2 L485.3,996 L478.7,999.8 L472.1,1003.4 L465.5,1007 L458.8,1010.6 L452.2,1014 L445.6,1017.4 L438.9,1020.8 L432.3,1024 L425.7,1027.2 L419.1,1030.4 L412.4,1033.5 L405.8,1036.5 L399.2,1039.4 L392.6,1042.3 L385.9,1045.1 L379.3,1047.8 L372.7,1050.5 L366.1,1053.1 L359.4,1055.6 L352.8,1058.1 L346.2,1060.5 L339.6,1062.8 L332.9,1065.1 L326.3,1067.3 L319.7,1069.4 L313,1071.4 L306.4,1073.3 L299.8,1075.2 L293.2,1077 L286.5,1078.8 L279.9,1080.4 L273.3,1082 L266.7,1083.5 L260,1084.9 L253.4,1086.2 L246.8,1087.4 L240.2,1088.6 L233.5,1089.6 L226.9,1090.6 L220.3,1091.4 L213.7,1092.2 L207,1092.8 L200.4,1093.4 L193.8,1093.8 L187.2,1094.1 L180.5,1094.2" fill="none" stroke="#0a0a0a" stroke-width="1.55" stroke-linejoin="round"/>
<path d="M93.6,1092.3 L103.9,1091.9 L114.2,1091.1 L124.5,1089.9 L134.7,1088.5 L145,1086.9 L155.3,1085 L165.6,1083 L175.9,1080.7 L186.2,1078.3 L196.4,1075.7 L206.7,1072.9 L217,1070 L227.3,1066.9 L237.6,1063.7 L247.9,1060.3 L258.1,1056.8 L268.4,1053.2 L278.7,1049.4 L289,1045.5 L299.3,1041.5 L309.6,1037.3 L319.8,1033.1 L330.1,1028.7 L340.4,1024.1 L350.7,1019.5 L361,1014.8 L371.3,1009.9 L381.5,1004.9 L391.8,999.9 L402.1,994.7 L412.4,989.4 L422.7,984 L433,978.5 L443.2,972.9 L453.5,967.2 L463.8,961.3 L474.1,955.4 L484.4,949.4 L494.7,943.3 L505,937.1 L515.2,930.8 L525.5,924.4 L535.8,918 L546.1,911.4 L556.4,904.7 L566.7,898 L576.9,891.1 L587.2,884.2 L597.5,877.2 L607.8,870 L618.1,862.8 L628.4,855.5 L638.6,848.2 L648.9,840.7 L659.2,833.2 L669.5,825.5 L679.8,817.8 L690.1,810 L700.3,802.2 L710.6,794.2 L710.6,794.2 L704,805.1 L697.4,815.3 L690.8,825 L684.2,834.1 L677.6,842.8 L671,851.1 L664.4,858.9 L657.8,866.4 L651.1,873.6 L644.5,880.5 L637.9,887.1 L631.3,893.5 L624.7,899.6 L618.1,905.5 L611.5,911.2 L604.9,916.8 L598.3,922.2 L591.7,927.4 L585.1,932.6 L578.5,937.5 L571.8,942.4 L565.2,947.1 L558.6,951.8 L552,956.3 L545.4,960.8 L538.8,965.1 L532.2,969.4 L525.6,973.6 L519,977.7 L512.4,981.8 L505.8,985.7 L499.2,989.6 L492.5,993.4 L485.9,997.2 L479.3,1000.9 L472.7,1004.5 L466.1,1008.1 L459.5,1011.6 L452.9,1015 L446.3,1018.3 L439.7,1021.6 L433.1,1024.9 L426.5,1028 L419.9,1031.1 L413.2,1034.2 L406.6,1037.1 L400,1040.1 L393.4,1042.9 L386.8,1045.7 L380.2,1048.4 L373.6,1051 L367,1053.6 L360.4,1056.1 L353.8,1058.5 L347.2,1060.9 L340.6,1063.2 L333.9,1065.4 L327.3,1067.6 L320.7,1069.7 L314.1,1071.7 L307.5,1073.6 L300.9,1075.5 L294.3,1077.2 L287.7,1078.9 L281.1,1080.6 L274.5,1082.1 L267.9,1083.6 L261.3,1085 L254.6,1086.3 L248,1087.5 L241.4,1088.6 L234.8,1089.7 L228.2,1090.6 L221.6,1091.5 L215,1092.2 L208.4,1092.9 L201.8,1093.4 L195.2,1093.8 L188.6,1094.1 L181.9,1094.2" fill="none" stroke="#0a0a0a" stroke-width="1.55" stroke-linejoin="round"/>
<path d="M93.6,1092.9 L103.9,1092.5 L114.2,1091.7 L124.5,1090.7 L134.7,1089.3 L145,1087.8 L155.3,1086 L165.6,1084.1 L175.9,1081.9 L186.2,1079.6 L196.4,1077.1 L206.7,1074.5 L217,1071.7 L227.3,1068.8 L237.6,1065.7 L247.9,1062.4 L258.1,1059 L268.4,1055.5 L278.7,1051.9 L289,1048.1 L299.3,1044.2 L309.6,1040.2 L319.8,1036 L330.1,1031.8 L340.4,1027.4 L350.7,1022.9 L361,1018.2 L371.3,1013.5 L381.5,1008.7 L391.8,1003.7 L402.1,998.6 L412.4,993.5 L422.7,988.2 L433,982.8 L443.2,977.3 L453.5,971.7 L463.8,966 L474.1,960.2 L484.4,954.3 L494.7,948.3 L505,942.3 L515.2,936.1 L525.5,929.8 L535.8,923.4 L546.1,916.9 L556.4,910.4 L566.7,903.7 L576.9,897 L587.2,890.1 L597.5,883.2 L607.8,876.2 L618.1,869.1 L628.4,861.9 L638.6,854.6 L648.9,847.2 L659.2,839.8 L669.5,832.2 L679.8,824.6 L690.1,816.9 L700.3,809.1 L710.6,801.2 L710.6,801.2 L704,811.8 L697.4,821.8 L690.9,831.3 L684.3,840.2 L677.7,848.7 L671.1,856.8 L664.5,864.4 L657.9,871.8 L651.3,878.8 L644.7,885.5 L638.1,891.9 L631.5,898.1 L624.9,904.1 L618.4,909.9 L611.8,915.5 L605.2,920.9 L598.6,926.2 L592,931.3 L585.4,936.3 L578.8,941.2 L572.2,945.9 L565.6,950.6 L559,955.1 L552.4,959.5 L545.9,963.9 L539.3,968.1 L532.7,972.3 L526.1,976.4 L519.5,980.4 L512.9,984.4 L506.3,988.3 L499.7,992.1 L493.1,995.8 L486.5,999.5 L480,1003.1 L473.4,1006.6 L466.8,1010.1 L460.2,1013.5 L453.6,1016.8 L447,1020.1 L440.4,1023.3 L433.8,1026.5 L427.2,1029.6 L420.6,1032.6 L414,1035.6 L407.5,1038.5 L400.9,1041.3 L394.3,1044.1 L387.7,1046.8 L381.1,1049.4 L374.5,1052 L367.9,1054.5 L361.3,1057 L354.7,1059.4 L348.1,1061.7 L341.6,1063.9 L335,1066.1 L328.4,1068.2 L321.8,1070.2 L315.2,1072.2 L308.6,1074.1 L302,1075.9 L295.4,1077.6 L288.8,1079.3 L282.2,1080.9 L275.6,1082.4 L269.1,1083.8 L262.5,1085.2 L255.9,1086.5 L249.3,1087.7 L242.7,1088.8 L236.1,1089.8 L229.5,1090.7 L222.9,1091.5 L216.3,1092.3 L209.7,1092.9 L203.1,1093.4 L196.6,1093.8 L190,1094.1 L183.4,1094.2" fill="none" stroke="#0a0a0a" stroke-width="1.55" stroke-linejoin="round"/>
<text x="2.5" y="1219.8" font-size="38.5" text-anchor="start" fill="#000" font-weight="bold" >C</text>
<rect x="94.9" y="1211.5" width="631.1" height="465.7" fill="none" stroke="#737373" stroke-width="1.4"/>
<line x1="94.9" y1="1677.2" x2="94.9" y2="1683.7" stroke="#737373" stroke-width="1.4"/>
<text x="94.9" y="1703" font-size="18" text-anchor="middle" fill="#1a1a1a" font-weight="normal" >4000</text>
<line x1="138.7" y1="1677.2" x2="138.7" y2="1681.2" stroke="#737373" stroke-width="1.4"/>
<line x1="182.5" y1="1677.2" x2="182.5" y2="1683.7" stroke="#737373" stroke-width="1.4"/>
<text x="182.5" y="1703" font-size="18" text-anchor="middle" fill="#1a1a1a" font-weight="normal" >3500</text>
<line x1="226.3" y1="1677.2" x2="226.3" y2="1681.2" stroke="#737373" stroke-width="1.4"/>
<line x1="270.1" y1="1677.2" x2="270.1" y2="1683.7" stroke="#737373" stroke-width="1.4"/>
<text x="270.1" y="1703" font-size="18" text-anchor="middle" fill="#1a1a1a" font-weight="normal" >3000</text>
<line x1="314" y1="1677.2" x2="314" y2="1681.2" stroke="#737373" stroke-width="1.4"/>
<line x1="357.8" y1="1677.2" x2="357.8" y2="1683.7" stroke="#737373" stroke-width="1.4"/>
<text x="357.8" y="1703" font-size="18" text-anchor="middle" fill="#1a1a1a" font-weight="normal" >2500</text>
<line x1="401.6" y1="1677.2" x2="401.6" y2="1681.2" stroke="#737373" stroke-width="1.4"/>
<line x1="445.4" y1="1677.2" x2="445.4" y2="1683.7" stroke="#737373" stroke-width="1.4"/>
<text x="445.4" y="1703" font-size="18" text-anchor="middle" fill="#1a1a1a" font-weight="normal" >2000</text>
<line x1="489.2" y1="1677.2" x2="489.2" y2="1681.2" stroke="#737373" stroke-width="1.4"/>
<line x1="533" y1="1677.2" x2="533" y2="1683.7" stroke="#737373" stroke-width="1.4"/>
<text x="533" y="1703" font-size="18" text-anchor="middle" fill="#1a1a1a" font-weight="normal" >1500</text>
<line x1="576.8" y1="1677.2" x2="576.8" y2="1681.2" stroke="#737373" stroke-width="1.4"/>
<line x1="620.6" y1="1677.2" x2="620.6" y2="1683.7" stroke="#737373" stroke-width="1.4"/>
<text x="620.6" y="1703" font-size="18" text-anchor="middle" fill="#1a1a1a" font-weight="normal" >1000</text>
<line x1="664.5" y1="1677.2" x2="664.5" y2="1681.2" stroke="#737373" stroke-width="1.4"/>
<line x1="708.3" y1="1677.2" x2="708.3" y2="1683.7" stroke="#737373" stroke-width="1.4"/>
<text x="708.3" y="1703" font-size="18" text-anchor="middle" fill="#1a1a1a" font-weight="normal" >500</text>
<text x="316" y="1735.9" font-size="20" text-anchor="start" fill="#1a1a1a" font-weight="normal" textLength="168.5" lengthAdjust="spacingAndGlyphs" >Wavenumber (cm</text>
<text x="485.5" y="1726" font-size="12.5" text-anchor="start" fill="#1a1a1a" font-weight="normal" >-1</text>
<text x="497.5" y="1735.9" font-size="20" text-anchor="start" fill="#1a1a1a" font-weight="normal" >)</text>
<g transform="translate(76.5,1517.7) rotate(-90)"><text x="0" y="0" font-size="20.5" text-anchor="start" fill="#1a1a1a" font-weight="normal" textLength="160.2" lengthAdjust="spacingAndGlyphs" >Absorbance (a.u.)</text></g>
<path d="M94.9,1340.4 L95.7,1340.4 L96.5,1340.4 L97.3,1340.4 L98.1,1340.4 L98.9,1340.4 L99.7,1340.4 L100.5,1340.4 L101.3,1340.4 L102.1,1340.4 L102.9,1340.4 L103.7,1340.4 L104.5,1340.4 L105.3,1340.4 L106.1,1340.4 L106.9,1340.4 L107.7,1340.4 L108.5,1340.4 L109.3,1340.4 L110.1,1340.4 L110.9,1340.4 L111.7,1340.4 L112.5,1340.4 L113.3,1340.4 L114.1,1340.4 L114.9,1340.4 L115.7,1340.4 L116.5,1340.4 L117.3,1340.4 L118.1,1340.4 L118.9,1340.4 L119.7,1340.4 L120.5,1340.4 L121.3,1340.4 L122.1,1340.4 L122.9,1340.4 L123.7,1340.4 L124.5,1340.4 L125.3,1340.4 L126.1,1340.4 L126.9,1340.4 L127.7,1340.4 L128.5,1340.4 L129.3,1340.4 L130.1,1340.4 L130.9,1340.4 L131.7,1340.4 L132.5,1340.4 L133.3,1340.4 L134.1,1340.4 L134.9,1340.4 L135.7,1340.4 L136.5,1340.4 L137.3,1340.4 L138.1,1340.4 L138.9,1340.4 L139.7,1340.4 L140.5,1340.4 L141.3,1340.4 L142.1,1340.4 L142.9,1340.4 L143.7,1340.4 L144.5,1340.4 L145.3,1340.4 L146.1,1340.4 L146.9,1340.4 L147.7,1340.4 L148.5,1340.4 L149.3,1340.4 L150.1,1340.4 L150.9,1340.4 L151.7,1340.4 L152.5,1340.4 L153.3,1340.3 L154.1,1340.3 L154.9,1340.2 L155.7,1340.1 L156.5,1339.9 L157.3,1339.8 L158.1,1339.7 L158.9,1339.5 L159.7,1339.4 L160.5,1339.2 L161.3,1339.1 L162.1,1338.9 L162.9,1338.8 L163.7,1338.6 L164.5,1338.4 L165.3,1338.2 L166.1,1338 L166.9,1337.8 L167.7,1337.7 L168.5,1337.5 L169.3,1337.3 L170.1,1337.1 L170.9,1337 L171.7,1336.8 L172.5,1336.7 L173.3,1336.5 L174.1,1336.3 L174.9,1336.2 L175.7,1336 L176.5,1335.8 L177.3,1335.7 L178.1,1335.5 L178.9,1335.3 L179.7,1335.2 L180.5,1335.1 L181.3,1334.9 L182.1,1334.8 L182.9,1334.7 L183.7,1334.6 L184.5,1334.4 L185.3,1334.4 L186.1,1334.3 L186.9,1334.2 L187.7,1334.1 L188.5,1334 L189.3,1334 L190.1,1333.9 L190.9,1333.8 L191.7,1333.7 L192.5,1333.7 L193.3,1333.6 L194.1,1333.5 L194.9,1333.5 L195.7,1333.4 L196.5,1333.4 L197.3,1333.3 L198.1,1333.3 L198.9,1333.3 L199.7,1333.2 L200.5,1333.2 L201.3,1333.2 L202.1,1333.2 L202.9,1333.2 L203.7,1333.2 L204.5,1333.2 L205.3,1333.2 L206.1,1333.3 L206.9,1333.3 L207.7,1333.3 L208.5,1333.3 L209.3,1333.4 L210.1,1333.4 L210.9,1333.4 L211.7,1333.5 L212.5,1333.5 L213.3,1333.6 L214.1,1333.6 L214.9,1333.7 L215.7,1333.7 L216.5,1333.8 L217.3,1333.8 L218.1,1333.9 L218.9,1333.9 L219.7,1334 L220.5,1334 L221.3,1334.1 L222.1,1334.1 L222.9,1334.2 L223.7,1334.2 L224.5,1334.3 L225.3,1334.3 L226.1,1334.3 L226.9,1334.4 L227.7,1334.4 L228.5,1334.5 L229.3,1334.5 L230.1,1334.6 L230.9,1334.7 L231.7,1334.7 L232.5,1334.8 L233.3,1334.8 L234.1,1334.9 L234.9,1334.9 L235.7,1335 L236.5,1335.1 L237.3,1335.1 L238.1,1335.2 L238.9,1335.2 L239.7,1335.3 L240.5,1335.4 L241.3,1335.4 L242.1,1335.5 L242.9,1335.6 L243.7,1335.6 L244.5,1335.7 L245.3,1335.7 L246.1,1335.8 L246.9,1335.9 L247.7,1335.9 L248.5,1336 L249.3,1336 L250.1,1336.1 L250.9,1336.1 L251.7,1336.2 L252.5,1336.3 L253.3,1336.3 L254.1,1336.4 L254.9,1336.5 L255.7,1336.6 L256.5,1336.6 L257.3,1336.7 L258.1,1336.8 L258.9,1336.8 L259.7,1336.9 L260.5,1337 L261.3,1337 L262.1,1337 L262.9,1337.1 L263.7,1337.1 L264.5,1337.1 L265.3,1337.2 L266.1,1337.2 L266.9,1336.9 L267.7,1336.4 L268.5,1335.7 L269.3,1334.8 L270.1,1333.9 L270.9,1333.1 L271.7,1332.4 L272.5,1331.6 L273.3,1330.9 L274.1,1330.1 L274.9,1329.2 L275.7,1328.2 L276.5,1327 L277.3,1325.3 L278.1,1323.6 L278.9,1322.1 L279.7,1320.9 L280.5,1319.8 L281.3,1319.4 L282.1,1319.8 L282.9,1320.5 L283.7,1321.2 L284.5,1321.9 L285.3,1322.7 L286.1,1323.6 L286.9,1324.3 L287.7,1324.8 L288.5,1325.2 L289.3,1325.5 L290.1,1325.7 L290.9,1325.7 L291.7,1324.1 L292.5,1321.5 L293.3,1319 L294.1,1316 L294.9,1314.2 L295.7,1314.9 L296.5,1316.8 L297.3,1319.1 L298.1,1322.4 L298.9,1325.7 L299.7,1328.1 L300.5,1330.2 L301.3,1331.2 L302.1,1331.7 L302.9,1332 L303.7,1331.9 L304.5,1331.8 L305.3,1331.8 L306.1,1332.2 L306.9,1333.1 L307.7,1334.1 L308.5,1334.8 L309.3,1335.4 L310.1,1335.9 L310.9,1336.3 L311.7,1336.7 L312.5,1337.2 L313.3,1337.6 L314.1,1337.9 L314.9,1338.2 L315.7,1338.4 L316.5,1338.5 L317.3,1338.6 L318.1,1338.6 L318.9,1338.7 L319.7,1338.8 L320.5,1338.8 L321.3,1338.9 L322.1,1339 L322.9,1339 L323.7,1339.1 L324.5,1339.1 L325.3,1339.1 L326.1,1339.2 L326.9,1339.2 L327.7,1339.2 L328.5,1339.3 L329.3,1339.3 L330.1,1339.3 L330.9,1339.3 L331.7,1339.4 L332.5,1339.4 L333.3,1339.4 L334.1,1339.4 L334.9,1339.4 L335.7,1339.5 L336.5,1339.5 L337.3,1339.5 L338.1,1339.5 L338.9,1339.5 L339.7,1339.5 L340.5,1339.5 L341.3,1339.6 L342.1,1339.6 L342.9,1339.6 L343.7,1339.6 L344.5,1339.6 L345.3,1339.6 L346.1,1339.6 L346.9,1339.6 L347.7,1339.6 L348.5,1339.6 L349.3,1339.6 L350.1,1339.6 L350.9,1339.7 L351.7,1339.7 L352.5,1339.7 L353.3,1339.7 L354.1,1339.7 L354.9,1339.7 L355.7,1339.7 L356.5,1339.7 L357.3,1339.7 L358.1,1339.7 L358.9,1339.7 L359.7,1339.7 L360.5,1339.7 L361.3,1339.7 L362.1,1339.7 L362.9,1339.7 L363.7,1339.7 L364.5,1339.7 L365.3,1339.7 L366.1,1339.8 L366.9,1339.8 L367.7,1339.8 L368.5,1339.8 L369.3,1339.8 L370.1,1339.8 L370.9,1339.8 L371.7,1339.8 L372.5,1339.8 L373.3,1339.8 L374.1,1339.8 L374.9,1339.8 L375.7,1339.8 L376.5,1339.8 L377.3,1339.8 L378.1,1339.8 L378.9,1339.8 L379.7,1339.8 L380.5,1339.8 L381.3,1339.8 L382.1,1339.8 L382.9,1339.8 L383.7,1339.8 L384.5,1339.8 L385.3,1339.8 L386.1,1339.8 L386.9,1339.8 L387.7,1339.8 L388.5,1339.8 L389.3,1339.9 L390.1,1339.9 L390.9,1339.9 L391.7,1339.9 L392.5,1339.9 L393.3,1339.9 L394.1,1339.9 L394.9,1339.9 L395.7,1339.9 L396.5,1339.9 L397.3,1339.9 L398.1,1339.9 L398.9,1339.9 L399.7,1339.9 L400.5,1339.9 L401.3,1339.9 L402.1,1339.9 L402.9,1339.9 L403.7,1339.9 L404.5,1339.9 L405.3,1339.9 L406.1,1339.9 L406.9,1339.9 L407.7,1339.9 L408.5,1339.9 L409.3,1339.9 L410.1,1339.9 L410.9,1339.9 L411.7,1340 L412.5,1340 L413.3,1340 L414.1,1340 L414.9,1340 L415.7,1340 L416.5,1340 L417.3,1340 L418.1,1340 L418.9,1340 L419.7,1340 L420.5,1340 L421.3,1340 L422.1,1340 L422.9,1340 L423.7,1340 L424.5,1340 L425.3,1340 L426.1,1340 L426.9,1340 L427.7,1340 L428.5,1340 L429.3,1340 L430.1,1340 L430.9,1340 L431.7,1340 L432.5,1340 L433.3,1340 L434.1,1340 L434.9,1340 L435.7,1340 L436.5,1340 L437.3,1340 L438.1,1340 L438.9,1340 L439.7,1340 L440.5,1340.1 L441.3,1340.1 L442.1,1340.1 L442.9,1340.1 L443.7,1340.1 L444.5,1340.1 L445.3,1340.1 L446.1,1340.1 L446.9,1340.1 L447.7,1340.1 L448.5,1340.1 L449.3,1340.1 L450.1,1340.1 L450.9,1340.1 L451.7,1340.1 L452.5,1340.1 L453.3,1340.1 L454.1,1340.1 L454.9,1340.1 L455.7,1340.1 L456.5,1340.1 L457.3,1340.1 L458.1,1340.1 L458.9,1340.1 L459.7,1340.1 L460.5,1340.1 L461.3,1340.1 L462.1,1340.2 L462.9,1340.2 L463.7,1340.2 L464.5,1340.2 L465.3,1340.2 L466.1,1340.2 L466.9,1340.2 L467.7,1340.2 L468.5,1340.2 L469.3,1340.2 L470.1,1340.2 L470.9,1340.2 L471.7,1340.2 L472.5,1340.2 L473.3,1340.2 L474.1,1340.2 L474.9,1340.3 L475.7,1340.3 L476.5,1340.3 L477.3,1340.3 L478.1,1340.3 L478.9,1340.3 L479.7,1340.3 L480.5,1340.3 L481.3,1340.4 L482.1,1340.4 L482.9,1340.4 L483.7,1340.4 L484.5,1340.4 L485.3,1340.4 L486.1,1340.4 L486.9,1340.4 L487.7,1340.2 L488.5,1337.9 L489.3,1334.1 L490.1,1329.8 L490.9,1322.7 L491.7,1314.6 L492.5,1310.8 L493.3,1313.4 L494.1,1318.4 L494.9,1321.9 L495.7,1324.8 L496.5,1327.3 L497.3,1329 L498.1,1330.5 L498.9,1332 L499.7,1333.3 L500.5,1334.4 L501.3,1335.2 L502.1,1335.7 L502.9,1335.8 L503.7,1335.7 L504.5,1335.5 L505.3,1335.2 L506.1,1334.7 L506.9,1334.3 L507.7,1333.7 L508.5,1333.1 L509.3,1332.5 L510.1,1331.9 L510.9,1331.2 L511.7,1330.6 L512.5,1330 L513.3,1329.2 L514.1,1328.3 L514.9,1327.3 L515.7,1326.3 L516.5,1325.2 L517.3,1324.1 L518.1,1323.1 L518.9,1322.1 L519.7,1321.2 L520.5,1320.4 L521.3,1319.8 L522.1,1319.4 L522.9,1319.2 L523.7,1319.5 L524.5,1320.5 L525.3,1322 L526.1,1323.8 L526.9,1325.7 L527.7,1327.4 L528.5,1328.7 L529.3,1329.4 L530.1,1329.3 L530.9,1328.8 L531.7,1328.1 L532.5,1327.1 L533.3,1326 L534.1,1324.9 L534.9,1323.8 L535.7,1322.7 L536.5,1321.8 L537.3,1320.8 L538.1,1319.6 L538.9,1318.4 L539.7,1317.3 L540.5,1316.2 L541.3,1315.3 L542.1,1314.6 L542.9,1314.2 L543.7,1314.1 L544.5,1314.3 L545.3,1314.7 L546.1,1315.3 L546.9,1316.1 L547.7,1316.9 L548.5,1317.8 L549.3,1318.7 L550.1,1319.5 L550.9,1320.3 L551.7,1320.9 L552.5,1321.4 L553.3,1321.7 L554.1,1321.7 L554.9,1321.4 L555.7,1321 L556.5,1320.6 L557.3,1320.4 L558.1,1320.6 L558.9,1321.5 L559.7,1322.7 L560.5,1324 L561.3,1325.2 L562.1,1325.9 L562.9,1326.1 L563.7,1326.1 L564.5,1326 L565.3,1325.9 L566.1,1325.7 L566.9,1325.6 L567.7,1325.4 L568.5,1325.2 L569.3,1325 L570.1,1324.7 L570.9,1324.5 L571.7,1324.3 L572.5,1324 L573.3,1323.8 L574.1,1323.5 L574.9,1323.1 L575.7,1322.8 L576.5,1322.3 L577.3,1321.9 L578.1,1321.3 L578.9,1320.7 L579.7,1319.8 L580.5,1318.2 L581.3,1316.1 L582.1,1313.7 L582.9,1311.3 L583.7,1309.1 L584.5,1307.3 L585.3,1305.8 L586.1,1304.4 L586.9,1303.1 L587.7,1301.8 L588.5,1300.6 L589.3,1299.4 L590.1,1298.3 L590.9,1297.2 L591.7,1296.4 L592.5,1295.5 L593.3,1294.5 L594.1,1293.2 L594.9,1291.3 L595.7,1288.1 L596.5,1284 L597.3,1279.4 L598.1,1274.8 L598.9,1269.6 L599.7,1263.5 L600.5,1257.5 L601.3,1252.5 L602.1,1249.2 L602.9,1247.6 L603.7,1246.4 L604.5,1245.4 L605.3,1244.5 L606.1,1243.7 L606.9,1243 L607.7,1242.2 L608.5,1241.4 L609.3,1240.6 L610.1,1239.9 L610.9,1239.4 L611.7,1239.1 L612.5,1238.8 L613.3,1238.6 L614.1,1238.4 L614.9,1238.3 L615.7,1238.6 L616.5,1239.4 L617.3,1240.5 L618.1,1241.5 L618.9,1242.5 L619.7,1243.6 L620.5,1244.9 L621.3,1246.5 L622.1,1249 L622.9,1252.5 L623.7,1256.3 L624.5,1259.7 L625.3,1262 L626.1,1263.5 L626.9,1264.8 L627.7,1265.8 L628.5,1266.8 L629.3,1267.8 L630.1,1269.1 L630.9,1270.5 L631.7,1272.2 L632.5,1274.1 L633.3,1276 L634.1,1278 L634.9,1280.1 L635.7,1282.1 L636.5,1284.1 L637.3,1286 L638.1,1287.7 L638.9,1289.5 L639.7,1291.2 L640.5,1292.8 L641.3,1294.4 L642.1,1296 L642.9,1297.3 L643.7,1298.7 L644.5,1300.1 L645.3,1301.5 L646.1,1302.9 L646.9,1304.2 L647.7,1305.4 L648.5,1306.4 L649.3,1307.1 L650.1,1307.6 L650.9,1307.7 L651.7,1307.5 L652.5,1307 L653.3,1306.3 L654.1,1305.6 L654.9,1304.7 L655.7,1304 L656.5,1303.3 L657.3,1302.8 L658.1,1302.6 L658.9,1302.7 L659.7,1303.1 L660.5,1303.8 L661.3,1304.6 L662.1,1305.5 L662.9,1306.4 L663.7,1307.3 L664.5,1308.1 L665.3,1308.7 L666.1,1309.1 L666.9,1309.3 L667.7,1309.5 L668.5,1309.8 L669.3,1309.9 L670.1,1310.1 L670.9,1310.2 L671.7,1310.3 L672.5,1310.4 L673.3,1310.4 L674.1,1310.4 L674.9,1310.3 L675.7,1310.2 L676.5,1310.1 L677.3,1309.9 L678.1,1309.7 L678.9,1309.6 L679.7,1309.4 L680.5,1309.2 L681.3,1309 L682.1,1308.8 L682.9,1308.6 L683.7,1308.4 L684.5,1308.1 L685.3,1307.9 L686.1,1307.6 L686.9,1307.3 L687.7,1307 L688.5,1306.7 L689.3,1306.4 L690.1,1306.1 L690.9,1305.8 L691.7,1305.5 L692.5,1305.2 L693.3,1305 L694.1,1304.7 L694.9,1304.5 L695.7,1304.2 L696.5,1303.9 L697.3,1303.6 L698.1,1303.2 L698.9,1302.8 L699.7,1302.2 L700.5,1301.3 L701.3,1300.1 L702.1,1298.7 L702.9,1297.1 L703.7,1295.4 L704.5,1293.6 L705.3,1291.6 L706.1,1289.2 L706.9,1286.4 L707.7,1283.2 L708.5,1279.8 L709.3,1276.4 L710.1,1273.1 L710.9,1270.1 L711.7,1267.5 L712.5,1265.2 L713.3,1263 L714.1,1260.9 L714.9,1259.1 L715.7,1257.8 L716.5,1256.9 L717.3,1256.1 L718.1,1255.4 L718.9,1254.8 L719.7,1254.4 L720.5,1254.1 L721.3,1254.1 L722.1,1254.4 L722.9,1255 L723.7,1255.7 L724.5,1256.8 L726,1259.2" fill="none" stroke="#6e6e6e" stroke-width="1.6" stroke-linejoin="round"/>
<path d="M94.9,1402.7 L95.7,1402.7 L96.5,1402.7 L97.3,1402.7 L98.1,1402.7 L98.9,1402.7 L99.7,1402.7 L100.5,1402.7 L101.3,1402.7 L102.1,1402.7 L102.9,1402.7 L103.7,1402.7 L104.5,1402.7 L105.3,1402.7 L106.1,1402.7 L106.9,1402.7 L107.7,1402.7 L108.5,1402.7 L109.3,1402.7 L110.1,1402.7 L110.9,1402.7 L111.7,1402.7 L112.5,1402.7 L113.3,1402.7 L114.1,1402.7 L114.9,1402.7 L115.7,1402.7 L116.5,1402.7 L117.3,1402.7 L118.1,1402.7 L118.9,1402.7 L119.7,1402.7 L120.5,1402.7 L121.3,1402.7 L122.1,1402.7 L122.9,1402.7 L123.7,1402.7 L124.5,1402.7 L125.3,1402.7 L126.1,1402.7 L126.9,1402.7 L127.7,1402.7 L128.5,1402.7 L129.3,1402.7 L130.1,1402.7 L130.9,1402.7 L131.7,1402.7 L132.5,1402.7 L133.3,1402.7 L134.1,1402.7 L134.9,1402.7 L135.7,1402.7 L136.5,1402.7 L137.3,1402.7 L138.1,1402.7 L138.9,1402.7 L139.7,1402.7 L140.5,1402.7 L141.3,1402.7 L142.1,1402.7 L142.9,1402.7 L143.7,1402.7 L144.5,1402.7 L145.3,1402.7 L146.1,1402.7 L146.9,1402.7 L147.7,1402.7 L148.5,1402.7 L149.3,1402.7 L150.1,1402.7 L150.9,1402.7 L151.7,1402.7 L152.5,1402.7 L153.3,1402.7 L154.1,1402.6 L154.9,1402.6 L155.7,1402.5 L156.5,1402.4 L157.3,1402.3 L158.1,1402.3 L158.9,1402.2 L159.7,1402.1 L160.5,1402 L161.3,1401.9 L162.1,1401.8 L162.9,1401.7 L163.7,1401.6 L164.5,1401.5 L165.3,1401.4 L166.1,1401.3 L166.9,1401.2 L167.7,1401.1 L168.5,1401 L169.3,1400.9 L170.1,1400.8 L170.9,1400.7 L171.7,1400.6 L172.5,1400.5 L173.3,1400.4 L174.1,1400.3 L174.9,1400.2 L175.7,1400.1 L176.5,1400 L177.3,1399.9 L178.1,1399.8 L178.9,1399.7 L179.7,1399.6 L180.5,1399.5 L181.3,1399.4 L182.1,1399.3 L182.9,1399.3 L183.7,1399.2 L184.5,1399.1 L185.3,1399.1 L186.1,1399 L186.9,1399 L187.7,1398.9 L188.5,1398.9 L189.3,1398.9 L190.1,1398.8 L190.9,1398.8 L191.7,1398.7 L192.5,1398.7 L193.3,1398.6 L194.1,1398.6 L194.9,1398.6 L195.7,1398.5 L196.5,1398.5 L197.3,1398.5 L198.1,1398.5 L198.9,1398.4 L199.7,1398.4 L200.5,1398.4 L201.3,1398.4 L202.1,1398.4 L202.9,1398.4 L203.7,1398.4 L204.5,1398.4 L205.3,1398.4 L206.1,1398.4 L206.9,1398.4 L207.7,1398.5 L208.5,1398.5 L209.3,1398.5 L210.1,1398.5 L210.9,1398.5 L211.7,1398.6 L212.5,1398.6 L213.3,1398.6 L214.1,1398.6 L214.9,1398.7 L215.7,1398.7 L216.5,1398.7 L217.3,1398.8 L218.1,1398.8 L218.9,1398.8 L219.7,1398.9 L220.5,1398.9 L221.3,1398.9 L222.1,1398.9 L222.9,1399 L223.7,1399 L224.5,1399 L225.3,1399.1 L226.1,1399.1 L226.9,1399.1 L227.7,1399.1 L228.5,1399.2 L229.3,1399.2 L230.1,1399.2 L230.9,1399.3 L231.7,1399.3 L232.5,1399.3 L233.3,1399.4 L234.1,1399.4 L234.9,1399.4 L235.7,1399.5 L236.5,1399.5 L237.3,1399.5 L238.1,1399.6 L238.9,1399.6 L239.7,1399.7 L240.5,1399.7 L241.3,1399.7 L242.1,1399.8 L242.9,1399.8 L243.7,1399.8 L244.5,1399.9 L245.3,1399.9 L246.1,1400 L246.9,1400 L247.7,1400 L248.5,1400.1 L249.3,1400.1 L250.1,1400.1 L250.9,1400.2 L251.7,1400.2 L252.5,1400.2 L253.3,1400.3 L254.1,1400.3 L254.9,1400.4 L255.7,1400.4 L256.5,1400.4 L257.3,1400.5 L258.1,1400.5 L258.9,1400.6 L259.7,1400.6 L260.5,1400.6 L261.3,1400.7 L262.1,1400.7 L262.9,1400.7 L263.7,1400.7 L264.5,1400.8 L265.3,1400.8 L266.1,1400.8 L266.9,1400.5 L267.7,1400 L268.5,1399.2 L269.3,1398.4 L270.1,1397.5 L270.9,1396.6 L271.7,1395.8 L272.5,1395 L273.3,1394.2 L274.1,1393.3 L274.9,1392.4 L275.7,1391.4 L276.5,1390.1 L277.3,1388.6 L278.1,1387 L278.9,1385.6 L279.7,1384.5 L280.5,1383.5 L281.3,1383.1 L282.1,1383.4 L282.9,1384.1 L283.7,1384.8 L284.5,1385.5 L285.3,1386.2 L286.1,1386.9 L286.9,1387.6 L287.7,1388.1 L288.5,1388.6 L289.3,1389 L290.1,1389.3 L290.9,1389.3 L291.7,1386.6 L292.5,1382.5 L293.3,1379.3 L294.1,1376 L294.9,1374.1 L295.7,1374.9 L296.5,1376.9 L297.3,1379.4 L298.1,1382.9 L298.9,1386.6 L299.7,1389.9 L300.5,1392.9 L301.3,1394.1 L302.1,1394.6 L302.9,1394.9 L303.7,1394.8 L304.5,1394.7 L305.3,1394.7 L306.1,1395.1 L306.9,1395.9 L307.7,1396.8 L308.5,1397.5 L309.3,1398 L310.1,1398.5 L310.9,1398.9 L311.7,1399.3 L312.5,1399.6 L313.3,1400 L314.1,1400.3 L314.9,1400.5 L315.7,1400.7 L316.5,1400.8 L317.3,1400.8 L318.1,1400.9 L318.9,1401 L319.7,1401.1 L320.5,1401.1 L321.3,1401.2 L322.1,1401.3 L322.9,1401.3 L323.7,1401.3 L324.5,1401.4 L325.3,1401.4 L326.1,1401.5 L326.9,1401.5 L327.7,1401.5 L328.5,1401.6 L329.3,1401.6 L330.1,1401.6 L330.9,1401.6 L331.7,1401.7 L332.5,1401.7 L333.3,1401.7 L334.1,1401.7 L334.9,1401.7 L335.7,1401.8 L336.5,1401.8 L337.3,1401.8 L338.1,1401.8 L338.9,1401.8 L339.7,1401.8 L340.5,1401.8 L341.3,1401.9 L342.1,1401.9 L342.9,1401.9 L343.7,1401.9 L344.5,1401.9 L345.3,1401.9 L346.1,1401.9 L346.9,1401.9 L347.7,1401.9 L348.5,1401.9 L349.3,1401.9 L350.1,1401.9 L350.9,1402 L351.7,1402 L352.5,1402 L353.3,1402 L354.1,1402 L354.9,1402 L355.7,1402 L356.5,1402 L357.3,1402 L358.1,1402 L358.9,1402 L359.7,1402 L360.5,1402 L361.3,1402 L362.1,1402 L362.9,1402 L363.7,1402 L364.5,1402 L365.3,1402 L366.1,1402.1 L366.9,1402.1 L367.7,1402.1 L368.5,1402.1 L369.3,1402.1 L370.1,1402.1 L370.9,1402.1 L371.7,1402.1 L372.5,1402.1 L373.3,1402.1 L374.1,1402.1 L374.9,1402.1 L375.7,1402.1 L376.5,1402.1 L377.3,1402.1 L378.1,1402.1 L378.9,1402.1 L379.7,1402.1 L380.5,1402.1 L381.3,1402.1 L382.1,1402.1 L382.9,1402.1 L383.7,1402.1 L384.5,1402.1 L385.3,1402.1 L386.1,1402.1 L386.9,1402.1 L387.7,1402.1 L388.5,1402.1 L389.3,1402.2 L390.1,1402.2 L390.9,1402.2 L391.7,1402.2 L392.5,1402.2 L393.3,1402.2 L394.1,1402.2 L394.9,1402.2 L395.7,1402.2 L396.5,1402.2 L397.3,1402.2 L398.1,1402.2 L398.9,1402.2 L399.7,1402.2 L400.5,1402.2 L401.3,1402.2 L402.1,1402.2 L402.9,1402.2 L403.7,1402.2 L404.5,1402.2 L405.3,1402.2 L406.1,1402.2 L406.9,1402.2 L407.7,1402.2 L408.5,1402.2 L409.3,1402.2 L410.1,1402.2 L410.9,1402.2 L411.7,1402.3 L412.5,1402.3 L413.3,1402.3 L414.1,1402.3 L414.9,1402.3 L415.7,1402.3 L416.5,1402.3 L417.3,1402.3 L418.1,1402.3 L418.9,1402.3 L419.7,1402.3 L420.5,1402.3 L421.3,1402.3 L422.1,1402.3 L422.9,1402.3 L423.7,1402.3 L424.5,1402.3 L425.3,1402.3 L426.1,1402.3 L426.9,1402.3 L427.7,1402.3 L428.5,1402.3 L429.3,1402.3 L430.1,1402.3 L430.9,1402.3 L431.7,1402.3 L432.5,1402.3 L433.3,1402.3 L434.1,1402.3 L434.9,1402.3 L435.7,1402.3 L436.5,1402.3 L437.3,1402.3 L438.1,1402.3 L438.9,1402.3 L439.7,1402.3 L440.5,1402.4 L441.3,1402.4 L442.1,1402.4 L442.9,1402.4 L443.7,1402.4 L444.5,1402.4 L445.3,1402.4 L446.1,1402.4 L446.9,1402.4 L447.7,1402.4 L448.5,1402.4 L449.3,1402.4 L450.1,1402.4 L450.9,1402.4 L451.7,1402.4 L452.5,1402.4 L453.3,1402.4 L454.1,1402.4 L454.9,1402.4 L455.7,1402.4 L456.5,1402.4 L457.3,1402.4 L458.1,1402.4 L458.9,1402.4 L459.7,1402.4 L460.5,1402.4 L461.3,1402.4 L462.1,1402.5 L462.9,1402.5 L463.7,1402.5 L464.5,1402.5 L465.3,1402.5 L466.1,1402.5 L466.9,1402.5 L467.7,1402.5 L468.5,1402.5 L469.3,1402.5 L470.1,1402.5 L470.9,1402.5 L471.7,1402.5 L472.5,1402.5 L473.3,1402.5 L474.1,1402.5 L474.9,1402.6 L475.7,1402.6 L476.5,1402.6 L477.3,1402.6 L478.1,1402.6 L478.9,1402.6 L479.7,1402.6 L480.5,1402.6 L481.3,1402.6 L482.1,1402.7 L482.9,1402.7 L483.7,1402.7 L484.5,1402.7 L485.3,1402.7 L486.1,1402.7 L486.9,1402.7 L487.7,1402.7 L488.5,1402.2 L489.3,1399.8 L490.1,1396.4 L490.9,1392.5 L491.7,1386.9 L492.5,1383.8 L493.3,1385.7 L494.1,1389.2 L494.9,1391.9 L495.7,1394.2 L496.5,1395.3 L497.3,1396.3 L498.1,1397.1 L498.9,1397.9 L499.7,1398.5 L500.5,1399 L501.3,1399.3 L502.1,1399.6 L502.9,1399.6 L503.7,1399.5 L504.5,1399.3 L505.3,1399 L506.1,1398.6 L506.9,1398.2 L507.7,1397.7 L508.5,1397.3 L509.3,1397 L510.1,1396.7 L510.9,1396.4 L511.7,1396.1 L512.5,1395.9 L513.3,1395.6 L514.1,1395.4 L514.9,1395.2 L515.7,1395 L516.5,1394.8 L517.3,1394.6 L518.1,1394.5 L518.9,1394.4 L519.7,1394.3 L520.5,1394.2 L521.3,1394.1 L522.1,1394 L522.9,1394 L523.7,1394.2 L524.5,1394.9 L525.3,1396 L526.1,1397.2 L526.9,1398.5 L527.7,1399.6 L528.5,1400.5 L529.3,1400.9 L530.1,1400.8 L530.9,1400.2 L531.7,1399.3 L532.5,1398.2 L533.3,1397 L534.1,1395.8 L534.9,1394.8 L535.7,1393.9 L536.5,1392.8 L537.3,1391.6 L538.1,1390.5 L538.9,1389.5 L539.7,1388.7 L540.5,1388.3 L541.3,1388.2 L542.1,1388.6 L542.9,1389.2 L543.7,1390 L544.5,1391 L545.3,1392 L546.1,1392.9 L546.9,1393.7 L547.7,1394.3 L548.5,1394.5 L549.3,1394.3 L550.1,1393.8 L550.9,1393 L551.7,1392 L552.5,1390.9 L553.3,1389.8 L554.1,1388.8 L554.9,1388 L555.7,1387.5 L556.5,1387.4 L557.3,1388 L558.1,1389.1 L558.9,1390.5 L559.7,1392.1 L560.5,1393.6 L561.3,1394.9 L562.1,1395.6 L562.9,1395.8 L563.7,1395.8 L564.5,1395.7 L565.3,1395.6 L566.1,1395.4 L566.9,1395.2 L567.7,1395 L568.5,1394.8 L569.3,1394.5 L570.1,1394.2 L570.9,1393.9 L571.7,1393.6 L572.5,1393.2 L573.3,1392.9 L574.1,1392.5 L574.9,1392 L575.7,1391.4 L576.5,1390.7 L577.3,1389.9 L578.1,1388.9 L578.9,1387.8 L579.7,1386.4 L580.5,1384.3 L581.3,1381.9 L582.1,1379.4 L582.9,1377 L583.7,1375.1 L584.5,1373.9 L585.3,1373 L586.1,1372.4 L586.9,1371.8 L587.7,1371.4 L588.5,1371 L589.3,1370.7 L590.1,1370.3 L590.9,1369.9 L591.7,1369.4 L592.5,1368.8 L593.3,1368 L594.1,1367.1 L594.9,1365.6 L595.7,1362.4 L596.5,1357.8 L597.3,1352.5 L598.1,1347 L598.9,1340.5 L599.7,1333.1 L600.5,1326.1 L601.3,1320.4 L602.1,1315 L602.9,1310.2 L603.7,1306.6 L604.5,1304.4 L605.3,1302.5 L606.1,1301.1 L606.9,1300.2 L607.7,1300.1 L608.5,1300.4 L609.3,1300.8 L610.1,1301.4 L610.9,1302 L611.7,1302.9 L612.5,1304.1 L613.3,1305.6 L614.1,1307.7 L614.9,1311.4 L615.7,1316.3 L616.5,1321.7 L617.3,1327 L618.1,1332 L618.9,1337.5 L619.7,1342.7 L620.5,1346.7 L621.3,1349.9 L622.1,1352.8 L622.9,1355.1 L623.7,1356.2 L624.5,1356.2 L625.3,1355.7 L626.1,1355 L626.9,1354.4 L627.7,1354.2 L628.5,1354.6 L629.3,1355.8 L630.1,1357.5 L630.9,1359.6 L631.7,1362 L632.5,1364.4 L633.3,1366.8 L634.1,1369 L634.9,1370.8 L635.7,1372 L636.5,1373.1 L637.3,1374.2 L638.1,1375.1 L638.9,1376 L639.7,1376.8 L640.5,1377.5 L641.3,1378.2 L642.1,1378.8 L642.9,1379.3 L643.7,1379.9 L644.5,1380.4 L645.3,1380.9 L646.1,1381.3 L646.9,1381.6 L647.7,1381.8 L648.5,1381.8 L649.3,1381.5 L650.1,1381 L650.9,1380.4 L651.7,1379.7 L652.5,1379 L653.3,1378.3 L654.1,1377.8 L654.9,1377.4 L655.7,1377.2 L656.5,1377.5 L657.3,1378.4 L658.1,1379.8 L658.9,1381.2 L659.7,1382.6 L660.5,1383.5 L661.3,1384 L662.1,1384.3 L662.9,1384.7 L663.7,1385 L664.5,1385.2 L665.3,1385.5 L666.1,1385.8 L666.9,1386 L667.7,1386.2 L668.5,1386.4 L669.3,1386.5 L670.1,1386.6 L670.9,1386.7 L671.7,1386.8 L672.5,1386.9 L673.3,1386.9 L674.1,1386.9 L674.9,1386.8 L675.7,1386.6 L676.5,1386.4 L677.3,1386.1 L678.1,1385.7 L678.9,1385.3 L679.7,1384.9 L680.5,1384.5 L681.3,1384 L682.1,1383.6 L682.9,1383.2 L683.7,1382.8 L684.5,1382.5 L685.3,1382.1 L686.1,1381.6 L686.9,1381.1 L687.7,1380.6 L688.5,1380.1 L689.3,1379.6 L690.1,1379.2 L690.9,1378.8 L691.7,1378.5 L692.5,1378.2 L693.3,1378 L694.1,1378 L694.9,1378 L695.7,1378 L696.5,1378 L697.3,1378 L698.1,1378 L698.9,1378 L699.7,1378 L700.5,1378 L701.3,1378 L702.1,1378 L702.9,1378 L703.7,1378 L704.5,1378 L705.3,1377.4 L706.1,1376.2 L706.9,1374.6 L707.7,1372.6 L708.5,1370.5 L709.3,1368.4 L710.1,1366.5 L710.9,1364.2 L711.7,1361.6 L712.5,1358.7 L713.3,1355.7 L714.1,1352.9 L714.9,1350.5 L715.7,1348.6 L716.5,1347.5 L717.3,1347.3 L718.1,1347.3 L718.9,1347.3 L719.7,1347.3 L720.5,1347.3 L721.3,1347.4 L722.1,1347.9 L722.9,1348.8 L723.7,1350.1 L724.5,1351.6 L726,1355" fill="none" stroke="#e06666" stroke-width="1.6" stroke-linejoin="round"/>
<path d="M94.9,1465 L95.7,1465 L96.5,1465 L97.3,1465 L98.1,1465 L98.9,1465 L99.7,1465 L100.5,1465 L101.3,1465 L102.1,1465 L102.9,1465 L103.7,1465 L104.5,1465 L105.3,1465 L106.1,1465 L106.9,1465 L107.7,1465 L108.5,1465 L109.3,1465 L110.1,1465 L110.9,1465 L111.7,1465 L112.5,1465 L113.3,1465 L114.1,1465 L114.9,1465 L115.7,1465 L116.5,1465 L117.3,1465 L118.1,1465 L118.9,1465 L119.7,1465 L120.5,1465 L121.3,1465 L122.1,1465 L122.9,1465 L123.7,1465 L124.5,1465 L125.3,1465 L126.1,1465 L126.9,1465 L127.7,1465 L128.5,1465 L129.3,1465 L130.1,1465 L130.9,1465 L131.7,1465 L132.5,1465 L133.3,1465 L134.1,1465 L134.9,1465 L135.7,1465 L136.5,1465 L137.3,1465 L138.1,1465 L138.9,1465 L139.7,1465 L140.5,1465 L141.3,1465 L142.1,1465 L142.9,1465 L143.7,1465 L144.5,1465 L145.3,1465 L146.1,1465 L146.9,1465 L147.7,1465 L148.5,1465 L149.3,1465 L150.1,1465 L150.9,1465 L151.7,1465 L152.5,1465 L153.3,1465 L154.1,1464.9 L154.9,1464.9 L155.7,1464.8 L156.5,1464.7 L157.3,1464.7 L158.1,1464.6 L158.9,1464.5 L159.7,1464.4 L160.5,1464.4 L161.3,1464.3 L162.1,1464.2 L162.9,1464.1 L163.7,1464 L164.5,1463.9 L165.3,1463.8 L166.1,1463.7 L166.9,1463.6 L167.7,1463.5 L168.5,1463.4 L169.3,1463.3 L170.1,1463.2 L170.9,1463.1 L171.7,1463 L172.5,1462.9 L173.3,1462.8 L174.1,1462.7 L174.9,1462.6 L175.7,1462.5 L176.5,1462.5 L177.3,1462.4 L178.1,1462.3 L178.9,1462.2 L179.7,1462.1 L180.5,1462 L181.3,1462 L182.1,1461.9 L182.9,1461.8 L183.7,1461.8 L184.5,1461.7 L185.3,1461.6 L186.1,1461.6 L186.9,1461.6 L187.7,1461.5 L188.5,1461.5 L189.3,1461.4 L190.1,1461.4 L190.9,1461.3 L191.7,1461.3 L192.5,1461.3 L193.3,1461.2 L194.1,1461.2 L194.9,1461.2 L195.7,1461.1 L196.5,1461.1 L197.3,1461.1 L198.1,1461.1 L198.9,1461 L199.7,1461 L200.5,1461 L201.3,1461 L202.1,1461 L202.9,1461 L203.7,1461 L204.5,1461 L205.3,1461 L206.1,1461 L206.9,1461 L207.7,1461.1 L208.5,1461.1 L209.3,1461.1 L210.1,1461.1 L210.9,1461.1 L211.7,1461.2 L212.5,1461.2 L213.3,1461.2 L214.1,1461.2 L214.9,1461.3 L215.7,1461.3 L216.5,1461.3 L217.3,1461.3 L218.1,1461.4 L218.9,1461.4 L219.7,1461.4 L220.5,1461.4 L221.3,1461.5 L222.1,1461.5 L222.9,1461.5 L223.7,1461.6 L224.5,1461.6 L225.3,1461.6 L226.1,1461.6 L226.9,1461.7 L227.7,1461.7 L228.5,1461.7 L229.3,1461.7 L230.1,1461.8 L230.9,1461.8 L231.7,1461.8 L232.5,1461.9 L233.3,1461.9 L234.1,1461.9 L234.9,1462 L235.7,1462 L236.5,1462 L237.3,1462.1 L238.1,1462.1 L238.9,1462.1 L239.7,1462.2 L240.5,1462.2 L241.3,1462.2 L242.1,1462.3 L242.9,1462.3 L243.7,1462.3 L244.5,1462.4 L245.3,1462.4 L246.1,1462.4 L246.9,1462.5 L247.7,1462.5 L248.5,1462.5 L249.3,1462.6 L250.1,1462.6 L250.9,1462.6 L251.7,1462.7 L252.5,1462.7 L253.3,1462.7 L254.1,1462.8 L254.9,1462.8 L255.7,1462.9 L256.5,1462.9 L257.3,1462.9 L258.1,1463 L258.9,1463 L259.7,1463.1 L260.5,1463.1 L261.3,1463.1 L262.1,1463.1 L262.9,1463.2 L263.7,1463.2 L264.5,1463.2 L265.3,1463.2 L266.1,1463.2 L266.9,1463 L267.7,1462.4 L268.5,1461.6 L269.3,1460.7 L270.1,1459.8 L270.9,1458.9 L271.7,1458.1 L272.5,1457.3 L273.3,1456.4 L274.1,1455.5 L274.9,1454.5 L275.7,1453.4 L276.5,1452.2 L277.3,1450.6 L278.1,1448.9 L278.9,1447.5 L279.7,1446.4 L280.5,1445.4 L281.3,1445 L282.1,1445.3 L282.9,1446 L283.7,1446.8 L284.5,1447.4 L285.3,1448.1 L286.1,1448.8 L286.9,1449.5 L287.7,1450.1 L288.5,1450.8 L289.3,1451.4 L290.1,1451.9 L290.9,1451.9 L291.7,1449.5 L292.5,1445.9 L293.3,1442.9 L294.1,1439.8 L294.9,1438 L295.7,1438.7 L296.5,1440.7 L297.3,1443 L298.1,1446.4 L298.9,1449.8 L299.7,1452.7 L300.5,1455.3 L301.3,1456.4 L302.1,1456.9 L302.9,1457.2 L303.7,1457.1 L304.5,1457 L305.3,1457 L306.1,1457.4 L306.9,1458.2 L307.7,1459.1 L308.5,1459.8 L309.3,1460.3 L310.1,1460.8 L310.9,1461.2 L311.7,1461.6 L312.5,1461.9 L313.3,1462.3 L314.1,1462.6 L314.9,1462.8 L315.7,1463 L316.5,1463.1 L317.3,1463.1 L318.1,1463.2 L318.9,1463.3 L319.7,1463.4 L320.5,1463.4 L321.3,1463.5 L322.1,1463.6 L322.9,1463.6 L323.7,1463.6 L324.5,1463.7 L325.3,1463.7 L326.1,1463.8 L326.9,1463.8 L327.7,1463.8 L328.5,1463.9 L329.3,1463.9 L330.1,1463.9 L330.9,1463.9 L331.7,1464 L332.5,1464 L333.3,1464 L334.1,1464 L334.9,1464 L335.7,1464.1 L336.5,1464.1 L337.3,1464.1 L338.1,1464.1 L338.9,1464.1 L339.7,1464.1 L340.5,1464.1 L341.3,1464.2 L342.1,1464.2 L342.9,1464.2 L343.7,1464.2 L344.5,1464.2 L345.3,1464.2 L346.1,1464.2 L346.9,1464.2 L347.7,1464.2 L348.5,1464.2 L349.3,1464.2 L350.1,1464.2 L350.9,1464.3 L351.7,1464.3 L352.5,1464.3 L353.3,1464.3 L354.1,1464.3 L354.9,1464.3 L355.7,1464.3 L356.5,1464.3 L357.3,1464.3 L358.1,1464.3 L358.9,1464.3 L359.7,1464.3 L360.5,1464.3 L361.3,1464.3 L362.1,1464.3 L362.9,1464.3 L363.7,1464.3 L364.5,1464.3 L365.3,1464.3 L366.1,1464.4 L366.9,1464.4 L367.7,1464.4 L368.5,1464.4 L369.3,1464.4 L370.1,1464.4 L370.9,1464.4 L371.7,1464.4 L372.5,1464.4 L373.3,1464.4 L374.1,1464.4 L374.9,1464.4 L375.7,1464.4 L376.5,1464.4 L377.3,1464.4 L378.1,1464.4 L378.9,1464.4 L379.7,1464.4 L380.5,1464.4 L381.3,1464.4 L382.1,1464.4 L382.9,1464.4 L383.7,1464.4 L384.5,1464.4 L385.3,1464.4 L386.1,1464.4 L386.9,1464.4 L387.7,1464.4 L388.5,1464.4 L389.3,1464.5 L390.1,1464.5 L390.9,1464.5 L391.7,1464.5 L392.5,1464.5 L393.3,1464.5 L394.1,1464.5 L394.9,1464.5 L395.7,1464.5 L396.5,1464.5 L397.3,1464.5 L398.1,1464.5 L398.9,1464.5 L399.7,1464.5 L400.5,1464.5 L401.3,1464.5 L402.1,1464.5 L402.9,1464.5 L403.7,1464.5 L404.5,1464.5 L405.3,1464.5 L406.1,1464.5 L406.9,1464.5 L407.7,1464.5 L408.5,1464.5 L409.3,1464.5 L410.1,1464.5 L410.9,1464.5 L411.7,1464.6 L412.5,1464.6 L413.3,1464.6 L414.1,1464.6 L414.9,1464.6 L415.7,1464.6 L416.5,1464.6 L417.3,1464.6 L418.1,1464.6 L418.9,1464.6 L419.7,1464.6 L420.5,1464.6 L421.3,1464.6 L422.1,1464.6 L422.9,1464.6 L423.7,1464.6 L424.5,1464.6 L425.3,1464.6 L426.1,1464.6 L426.9,1464.6 L427.7,1464.6 L428.5,1464.6 L429.3,1464.6 L430.1,1464.6 L430.9,1464.6 L431.7,1464.6 L432.5,1464.6 L433.3,1464.6 L434.1,1464.6 L434.9,1464.6 L435.7,1464.6 L436.5,1464.6 L437.3,1464.6 L438.1,1464.6 L438.9,1464.6 L439.7,1464.6 L440.5,1464.7 L441.3,1464.7 L442.1,1464.7 L442.9,1464.7 L443.7,1464.7 L444.5,1464.7 L445.3,1464.7 L446.1,1464.7 L446.9,1464.7 L447.7,1464.7 L448.5,1464.7 L449.3,1464.7 L450.1,1464.7 L450.9,1464.7 L451.7,1464.7 L452.5,1464.7 L453.3,1464.7 L454.1,1464.7 L454.9,1464.7 L455.7,1464.7 L456.5,1464.7 L457.3,1464.7 L458.1,1464.7 L458.9,1464.7 L459.7,1464.7 L460.5,1464.7 L461.3,1464.7 L462.1,1464.8 L462.9,1464.8 L463.7,1464.8 L464.5,1464.8 L465.3,1464.8 L466.1,1464.8 L466.9,1464.8 L467.7,1464.8 L468.5,1464.8 L469.3,1464.8 L470.1,1464.8 L470.9,1464.8 L471.7,1464.8 L472.5,1464.8 L473.3,1464.8 L474.1,1464.8 L474.9,1464.9 L475.7,1464.9 L476.5,1464.9 L477.3,1464.9 L478.1,1464.9 L478.9,1464.9 L479.7,1464.9 L480.5,1464.9 L481.3,1464.9 L482.1,1465 L482.9,1465 L483.7,1465 L484.5,1465 L485.3,1465 L486.1,1465 L486.9,1465 L487.7,1465 L488.5,1464.4 L489.3,1461.4 L490.1,1457.2 L490.9,1452.1 L491.7,1444.3 L492.5,1440 L493.3,1442.6 L494.1,1447.3 L494.9,1450.2 L495.7,1452.4 L496.5,1454.1 L497.3,1455.5 L498.1,1456.7 L498.9,1457.9 L499.7,1458.9 L500.5,1459.8 L501.3,1460.5 L502.1,1460.9 L502.9,1461 L503.7,1460.9 L504.5,1460.8 L505.3,1460.6 L506.1,1460.4 L506.9,1460.2 L507.7,1459.9 L508.5,1459.5 L509.3,1459.2 L510.1,1458.8 L510.9,1458.5 L511.7,1458.2 L512.5,1457.8 L513.3,1457.5 L514.1,1457.3 L514.9,1457 L515.7,1456.8 L516.5,1456.6 L517.3,1456.4 L518.1,1456.1 L518.9,1455.9 L519.7,1455.7 L520.5,1455.6 L521.3,1455.4 L522.1,1455.3 L522.9,1455.3 L523.7,1455.4 L524.5,1455.9 L525.3,1456.6 L526.1,1457.5 L526.9,1458.5 L527.7,1459.5 L528.5,1460.4 L529.3,1461.1 L530.1,1461.6 L530.9,1461.7 L531.7,1461.4 L532.5,1460.7 L533.3,1459.7 L534.1,1458.6 L534.9,1457.4 L535.7,1456.3 L536.5,1455.4 L537.3,1454.4 L538.1,1453.2 L538.9,1452.1 L539.7,1451.1 L540.5,1450.3 L541.3,1449.7 L542.1,1449.4 L542.9,1449.5 L543.7,1449.8 L544.5,1450.2 L545.3,1450.8 L546.1,1451.4 L546.9,1452.1 L547.7,1452.8 L548.5,1453.4 L549.3,1453.9 L550.1,1454.3 L550.9,1454.5 L551.7,1454.3 L552.5,1453.4 L553.3,1452 L554.1,1450.3 L554.9,1448.9 L555.7,1447.9 L556.5,1447.6 L557.3,1447.9 L558.1,1448.6 L558.9,1449.5 L559.7,1450.5 L560.5,1451.6 L561.3,1452.6 L562.1,1453.5 L562.9,1454.2 L563.7,1454.5 L564.5,1454.5 L565.3,1454.4 L566.1,1454.4 L566.9,1454.3 L567.7,1454.1 L568.5,1454 L569.3,1453.8 L570.1,1453.5 L570.9,1453.3 L571.7,1453 L572.5,1452.7 L573.3,1452.4 L574.1,1452 L574.9,1451.4 L575.7,1450.5 L576.5,1449.4 L577.3,1448 L578.1,1446.6 L578.9,1445.2 L579.7,1443.6 L580.5,1441.7 L581.3,1439.6 L582.1,1437.5 L582.9,1435.5 L583.7,1433.8 L584.5,1432.5 L585.3,1431.5 L586.1,1430.7 L586.9,1430 L587.7,1429.4 L588.5,1428.8 L589.3,1428.3 L590.1,1427.8 L590.9,1427.1 L591.7,1426.4 L592.5,1425.6 L593.3,1424.6 L594.1,1423.3 L594.9,1421.6 L595.7,1418.4 L596.5,1414 L597.3,1409.1 L598.1,1404.4 L598.9,1399.5 L599.7,1394.3 L600.5,1389.2 L601.3,1384.6 L602.1,1379.9 L602.9,1375.4 L603.7,1371.6 L604.5,1369 L605.3,1367.1 L606.1,1365.5 L606.9,1364.1 L607.7,1363.1 L608.5,1362.7 L609.3,1362.7 L610.1,1362.8 L610.9,1362.8 L611.7,1363 L612.5,1363.1 L613.3,1363.5 L614.1,1364.2 L614.9,1365.1 L615.7,1367.6 L616.5,1373.1 L617.3,1380.1 L618.1,1387 L618.9,1392.9 L619.7,1399.5 L620.5,1406.2 L621.3,1411.9 L622.1,1415.5 L622.9,1416.2 L623.7,1416.2 L624.5,1416.2 L625.3,1416.2 L626.1,1416.2 L626.9,1416.2 L627.7,1416.2 L628.5,1416.2 L629.3,1416.3 L630.1,1417.3 L630.9,1419.1 L631.7,1421.5 L632.5,1424 L633.3,1426.3 L634.1,1428.2 L634.9,1429.8 L635.7,1431.4 L636.5,1433 L637.3,1434.5 L638.1,1435.9 L638.9,1437.2 L639.7,1438.3 L640.5,1439.2 L641.3,1440 L642.1,1440.8 L642.9,1441.5 L643.7,1442.2 L644.5,1442.8 L645.3,1443.4 L646.1,1443.8 L646.9,1444.1 L647.7,1444.3 L648.5,1444.3 L649.3,1444.1 L650.1,1443.7 L650.9,1443.1 L651.7,1442.5 L652.5,1441.8 L653.3,1441.2 L654.1,1440.5 L654.9,1440 L655.7,1439.5 L656.5,1439.3 L657.3,1439.2 L658.1,1439.5 L658.9,1440.1 L659.7,1441 L660.5,1441.9 L661.3,1442.8 L662.1,1443.6 L662.9,1444.1 L663.7,1444.4 L664.5,1444.5 L665.3,1444.7 L666.1,1444.8 L666.9,1444.9 L667.7,1445.1 L668.5,1445.2 L669.3,1445.3 L670.1,1445.4 L670.9,1445.5 L671.7,1445.6 L672.5,1445.7 L673.3,1445.7 L674.1,1445.8 L674.9,1445.9 L675.7,1445.9 L676.5,1446 L677.3,1446 L678.1,1446 L678.9,1446.1 L679.7,1446.1 L680.5,1446.1 L681.3,1446.1 L682.1,1446 L682.9,1445.8 L683.7,1445.5 L684.5,1445.1 L685.3,1444.6 L686.1,1444 L686.9,1443.4 L687.7,1442.7 L688.5,1442.1 L689.3,1441.4 L690.1,1440.8 L690.9,1440.2 L691.7,1439.7 L692.5,1439.2 L693.3,1438.8 L694.1,1438.6 L694.9,1438.4 L695.7,1438.4 L696.5,1438.4 L697.3,1438.4 L698.1,1438.4 L698.9,1438.4 L699.7,1438.4 L700.5,1438.4 L701.3,1438.4 L702.1,1438.4 L702.9,1438.4 L703.7,1438.4 L704.5,1438.4 L705.3,1437.8 L706.1,1436.5 L706.9,1434.7 L707.7,1432.5 L708.5,1430.1 L709.3,1427.7 L710.1,1425.3 L710.9,1423.2 L711.7,1421.2 L712.5,1419 L713.3,1416.5 L714.1,1414 L714.9,1411.6 L715.7,1409.2 L716.5,1407 L717.3,1405.2 L718.1,1403.8 L718.9,1403 L719.7,1402.7 L720.5,1402.7 L721.3,1402.9 L722.1,1403 L722.9,1403.5 L723.7,1404.4 L724.5,1405.6 L726,1408.6" fill="none" stroke="#8cf06c" stroke-width="1.6" stroke-linejoin="round"/>
<path d="M94.9,1526.9 L95.7,1526.9 L96.5,1526.9 L97.3,1526.9 L98.1,1526.9 L98.9,1526.9 L99.7,1526.9 L100.5,1526.9 L101.3,1526.9 L102.1,1526.9 L102.9,1526.9 L103.7,1526.9 L104.5,1526.9 L105.3,1526.9 L106.1,1526.9 L106.9,1526.9 L107.7,1526.9 L108.5,1526.9 L109.3,1526.9 L110.1,1526.9 L110.9,1526.9 L111.7,1526.9 L112.5,1526.9 L113.3,1526.9 L114.1,1526.9 L114.9,1526.9 L115.7,1526.9 L116.5,1526.9 L117.3,1526.9 L118.1,1526.9 L118.9,1526.9 L119.7,1526.9 L120.5,1526.9 L121.3,1526.9 L122.1,1526.9 L122.9,1526.9 L123.7,1526.9 L124.5,1526.9 L125.3,1526.9 L126.1,1526.9 L126.9,1526.9 L127.7,1526.9 L128.5,1526.9 L129.3,1526.9 L130.1,1526.9 L130.9,1526.9 L131.7,1526.9 L132.5,1526.9 L133.3,1526.9 L134.1,1526.9 L134.9,1526.9 L135.7,1526.9 L136.5,1526.9 L137.3,1526.9 L138.1,1526.9 L138.9,1526.9 L139.7,1526.9 L140.5,1526.9 L141.3,1526.9 L142.1,1526.9 L142.9,1526.9 L143.7,1526.9 L144.5,1526.9 L145.3,1526.9 L146.1,1526.9 L146.9,1526.9 L147.7,1526.9 L148.5,1526.9 L149.3,1526.9 L150.1,1526.9 L150.9,1526.9 L151.7,1526.9 L152.5,1526.9 L153.3,1526.9 L154.1,1526.8 L154.9,1526.7 L155.7,1526.7 L156.5,1526.6 L157.3,1526.5 L158.1,1526.4 L158.9,1526.3 L159.7,1526.2 L160.5,1526.1 L161.3,1526 L162.1,1525.9 L162.9,1525.8 L163.7,1525.6 L164.5,1525.5 L165.3,1525.4 L166.1,1525.3 L166.9,1525.1 L167.7,1525 L168.5,1524.9 L169.3,1524.7 L170.1,1524.6 L170.9,1524.5 L171.7,1524.4 L172.5,1524.3 L173.3,1524.2 L174.1,1524.1 L174.9,1523.9 L175.7,1523.8 L176.5,1523.7 L177.3,1523.6 L178.1,1523.5 L178.9,1523.4 L179.7,1523.3 L180.5,1523.2 L181.3,1523.1 L182.1,1523 L182.9,1522.9 L183.7,1522.8 L184.5,1522.8 L185.3,1522.7 L186.1,1522.6 L186.9,1522.6 L187.7,1522.5 L188.5,1522.5 L189.3,1522.4 L190.1,1522.4 L190.9,1522.3 L191.7,1522.3 L192.5,1522.2 L193.3,1522.2 L194.1,1522.1 L194.9,1522.1 L195.7,1522.1 L196.5,1522 L197.3,1522 L198.1,1522 L198.9,1521.9 L199.7,1521.9 L200.5,1521.9 L201.3,1521.9 L202.1,1521.9 L202.9,1521.9 L203.7,1521.9 L204.5,1521.9 L205.3,1521.9 L206.1,1521.9 L206.9,1522 L207.7,1522 L208.5,1522 L209.3,1522 L210.1,1522 L210.9,1522.1 L211.7,1522.1 L212.5,1522.1 L213.3,1522.2 L214.1,1522.2 L214.9,1522.2 L215.7,1522.3 L216.5,1522.3 L217.3,1522.3 L218.1,1522.4 L218.9,1522.4 L219.7,1522.4 L220.5,1522.5 L221.3,1522.5 L222.1,1522.5 L222.9,1522.6 L223.7,1522.6 L224.5,1522.6 L225.3,1522.7 L226.1,1522.7 L226.9,1522.7 L227.7,1522.8 L228.5,1522.8 L229.3,1522.8 L230.1,1522.9 L230.9,1522.9 L231.7,1522.9 L232.5,1523 L233.3,1523 L234.1,1523.1 L234.9,1523.1 L235.7,1523.2 L236.5,1523.2 L237.3,1523.2 L238.1,1523.3 L238.9,1523.3 L239.7,1523.4 L240.5,1523.4 L241.3,1523.5 L242.1,1523.5 L242.9,1523.5 L243.7,1523.6 L244.5,1523.6 L245.3,1523.7 L246.1,1523.7 L246.9,1523.7 L247.7,1523.8 L248.5,1523.8 L249.3,1523.9 L250.1,1523.9 L250.9,1523.9 L251.7,1524 L252.5,1524 L253.3,1524.1 L254.1,1524.1 L254.9,1524.2 L255.7,1524.2 L256.5,1524.3 L257.3,1524.3 L258.1,1524.4 L258.9,1524.4 L259.7,1524.5 L260.5,1524.5 L261.3,1524.5 L262.1,1524.6 L262.9,1524.6 L263.7,1524.6 L264.5,1524.6 L265.3,1524.6 L266.1,1524.6 L266.9,1524.4 L267.7,1523.8 L268.5,1523 L269.3,1522 L270.1,1521 L270.9,1520.1 L271.7,1519.2 L272.5,1518.4 L273.3,1517.5 L274.1,1516.5 L274.9,1515.5 L275.7,1514.3 L276.5,1513 L277.3,1511.3 L278.1,1509.5 L278.9,1508 L279.7,1506.7 L280.5,1505.6 L281.3,1505.2 L282.1,1505.6 L282.9,1506.3 L283.7,1507.1 L284.5,1507.8 L285.3,1508.5 L286.1,1509.3 L286.9,1510.1 L287.7,1510.8 L288.5,1511.8 L289.3,1512.7 L290.1,1513.4 L290.9,1513.5 L291.7,1510.8 L292.5,1506.7 L293.3,1503.5 L294.1,1500.2 L294.9,1498.3 L295.7,1499.1 L296.5,1501.1 L297.3,1503.6 L298.1,1507.1 L298.9,1510.8 L299.7,1514.1 L300.5,1517.1 L301.3,1518.3 L302.1,1518.8 L302.9,1519.1 L303.7,1519 L304.5,1518.9 L305.3,1518.9 L306.1,1519.3 L306.9,1520.1 L307.7,1521 L308.5,1521.7 L309.3,1522.2 L310.1,1522.7 L310.9,1523.1 L311.7,1523.5 L312.5,1523.8 L313.3,1524.2 L314.1,1524.5 L314.9,1524.7 L315.7,1524.9 L316.5,1525 L317.3,1525 L318.1,1525.1 L318.9,1525.2 L319.7,1525.3 L320.5,1525.3 L321.3,1525.4 L322.1,1525.5 L322.9,1525.5 L323.7,1525.5 L324.5,1525.6 L325.3,1525.6 L326.1,1525.7 L326.9,1525.7 L327.7,1525.7 L328.5,1525.8 L329.3,1525.8 L330.1,1525.8 L330.9,1525.8 L331.7,1525.9 L332.5,1525.9 L333.3,1525.9 L334.1,1525.9 L334.9,1525.9 L335.7,1526 L336.5,1526 L337.3,1526 L338.1,1526 L338.9,1526 L339.7,1526 L340.5,1526 L341.3,1526.1 L342.1,1526.1 L342.9,1526.1 L343.7,1526.1 L344.5,1526.1 L345.3,1526.1 L346.1,1526.1 L346.9,1526.1 L347.7,1526.1 L348.5,1526.1 L349.3,1526.1 L350.1,1526.1 L350.9,1526.2 L351.7,1526.2 L352.5,1526.2 L353.3,1526.2 L354.1,1526.2 L354.9,1526.2 L355.7,1526.2 L356.5,1526.2 L357.3,1526.2 L358.1,1526.2 L358.9,1526.2 L359.7,1526.2 L360.5,1526.2 L361.3,1526.2 L362.1,1526.2 L362.9,1526.2 L363.7,1526.2 L364.5,1526.2 L365.3,1526.2 L366.1,1526.3 L366.9,1526.3 L367.7,1526.3 L368.5,1526.3 L369.3,1526.3 L370.1,1526.3 L370.9,1526.3 L371.7,1526.3 L372.5,1526.3 L373.3,1526.3 L374.1,1526.3 L374.9,1526.3 L375.7,1526.3 L376.5,1526.3 L377.3,1526.3 L378.1,1526.3 L378.9,1526.3 L379.7,1526.3 L380.5,1526.3 L381.3,1526.3 L382.1,1526.3 L382.9,1526.3 L383.7,1526.3 L384.5,1526.3 L385.3,1526.3 L386.1,1526.3 L386.9,1526.3 L387.7,1526.3 L388.5,1526.3 L389.3,1526.4 L390.1,1526.4 L390.9,1526.4 L391.7,1526.4 L392.5,1526.4 L393.3,1526.4 L394.1,1526.4 L394.9,1526.4 L395.7,1526.4 L396.5,1526.4 L397.3,1526.4 L398.1,1526.4 L398.9,1526.4 L399.7,1526.4 L400.5,1526.4 L401.3,1526.4 L402.1,1526.4 L402.9,1526.4 L403.7,1526.4 L404.5,1526.4 L405.3,1526.4 L406.1,1526.4 L406.9,1526.4 L407.7,1526.4 L408.5,1526.4 L409.3,1526.4 L410.1,1526.4 L410.9,1526.4 L411.7,1526.4 L412.5,1526.5 L413.3,1526.5 L414.1,1526.5 L414.9,1526.5 L415.7,1526.5 L416.5,1526.5 L417.3,1526.5 L418.1,1526.5 L418.9,1526.5 L419.7,1526.5 L420.5,1526.5 L421.3,1526.5 L422.1,1526.5 L422.9,1526.5 L423.7,1526.5 L424.5,1526.5 L425.3,1526.5 L426.1,1526.5 L426.9,1526.5 L427.7,1526.5 L428.5,1526.5 L429.3,1526.5 L430.1,1526.5 L430.9,1526.5 L431.7,1526.5 L432.5,1526.5 L433.3,1526.5 L434.1,1526.5 L434.9,1526.5 L435.7,1526.5 L436.5,1526.5 L437.3,1526.5 L438.1,1526.5 L438.9,1526.5 L439.7,1526.5 L440.5,1526.5 L441.3,1526.6 L442.1,1526.6 L442.9,1526.6 L443.7,1526.6 L444.5,1526.6 L445.3,1526.6 L446.1,1526.6 L446.9,1526.6 L447.7,1526.6 L448.5,1526.6 L449.3,1526.6 L450.1,1526.6 L450.9,1526.6 L451.7,1526.6 L452.5,1526.6 L453.3,1526.6 L454.1,1526.6 L454.9,1526.6 L455.7,1526.6 L456.5,1526.6 L457.3,1526.6 L458.1,1526.6 L458.9,1526.6 L459.7,1526.6 L460.5,1526.6 L461.3,1526.6 L462.1,1526.6 L462.9,1526.7 L463.7,1526.7 L464.5,1526.7 L465.3,1526.7 L466.1,1526.7 L466.9,1526.7 L467.7,1526.7 L468.5,1526.7 L469.3,1526.7 L470.1,1526.7 L470.9,1526.7 L471.7,1526.7 L472.5,1526.7 L473.3,1526.7 L474.1,1526.7 L474.9,1526.8 L475.7,1526.8 L476.5,1526.8 L477.3,1526.8 L478.1,1526.8 L478.9,1526.8 L479.7,1526.8 L480.5,1526.9 L481.3,1526.9 L482.1,1526.9 L482.9,1526.9 L483.7,1526.9 L484.5,1526.9 L485.3,1526.9 L486.1,1526.9 L486.9,1526.2 L487.7,1524.7 L488.5,1522.4 L489.3,1519.6 L490.1,1516.4 L490.9,1508.9 L491.7,1499.6 L492.5,1495 L493.3,1497.8 L494.1,1503.5 L494.9,1508.6 L495.7,1511.4 L496.5,1513.7 L497.3,1515.6 L498.1,1517.1 L498.9,1518.2 L499.7,1519.3 L500.5,1520.2 L501.3,1520.9 L502.1,1521.5 L502.9,1521.9 L503.7,1522.1 L504.5,1522.4 L505.3,1522.6 L506.1,1522.8 L506.9,1522.9 L507.7,1523.1 L508.5,1523.2 L509.3,1523.3 L510.1,1523.4 L510.9,1523.5 L511.7,1523.6 L512.5,1523.7 L513.3,1523.8 L514.1,1523.9 L514.9,1524 L515.7,1524.1 L516.5,1524.1 L517.3,1524.2 L518.1,1524.2 L518.9,1524.3 L519.7,1524.3 L520.5,1524.3 L521.3,1524 L522.1,1523.4 L522.9,1522.6 L523.7,1521.7 L524.5,1521 L525.3,1520.5 L526.1,1520.6 L526.9,1521.2 L527.7,1522 L528.5,1523 L529.3,1523.9 L530.1,1524.6 L530.9,1524.8 L531.7,1524.5 L532.5,1523.9 L533.3,1523.1 L534.1,1522.3 L534.9,1521.5 L535.7,1520.5 L536.5,1519.3 L537.3,1517.9 L538.1,1516.6 L538.9,1515.2 L539.7,1514 L540.5,1513.1 L541.3,1512.4 L542.1,1512.1 L542.9,1512.4 L543.7,1513.1 L544.5,1513.9 L545.3,1514.6 L546.1,1514.9 L546.9,1514.9 L547.7,1514.7 L548.5,1514.6 L549.3,1514.3 L550.1,1514 L550.9,1513.7 L551.7,1513.2 L552.5,1511.9 L553.3,1510.2 L554.1,1508.3 L554.9,1506.6 L555.7,1505.5 L556.5,1505.2 L557.3,1505.6 L558.1,1506.5 L558.9,1507.7 L559.7,1509.2 L560.5,1510.6 L561.3,1512.1 L562.1,1513.3 L562.9,1514.2 L563.7,1514.6 L564.5,1514.6 L565.3,1514.5 L566.1,1514.4 L566.9,1514.2 L567.7,1514 L568.5,1513.7 L569.3,1513.5 L570.1,1513.1 L570.9,1512.8 L571.7,1512.5 L572.5,1512.2 L573.3,1511.8 L574.1,1511.5 L574.9,1511.2 L575.7,1510.9 L576.5,1510.5 L577.3,1510.1 L578.1,1509.6 L578.9,1509 L579.7,1507.7 L580.5,1505.2 L581.3,1502.1 L582.1,1498.6 L582.9,1495.3 L583.7,1492.5 L584.5,1490.9 L585.3,1489.7 L586.1,1488.8 L586.9,1488 L587.7,1487.3 L588.5,1486.8 L589.3,1486.2 L590.1,1485.7 L590.9,1485.1 L591.7,1484.4 L592.5,1483.6 L593.3,1482.7 L594.1,1481.6 L594.9,1480.1 L595.7,1477.9 L596.5,1475.1 L597.3,1471.9 L598.1,1468.5 L598.9,1464.5 L599.7,1460 L600.5,1455 L601.3,1449.9 L602.1,1443.6 L602.9,1437.1 L603.7,1432.1 L604.5,1429.3 L605.3,1427 L606.1,1425.3 L606.9,1424.2 L607.7,1424.2 L608.5,1424.6 L609.3,1425.4 L610.1,1426.4 L610.9,1427.5 L611.7,1429.2 L612.5,1431.5 L613.3,1434.2 L614.1,1437.3 L614.9,1441.9 L615.7,1448 L616.5,1454.5 L617.3,1460.6 L618.1,1466 L618.9,1472.1 L619.7,1477.7 L620.5,1481.9 L621.3,1483.5 L622.1,1483.3 L622.9,1482.8 L623.7,1482.1 L624.5,1481.3 L625.3,1480.6 L626.1,1479.7 L626.9,1478.7 L627.7,1477.8 L628.5,1477.2 L629.3,1477.1 L630.1,1477.5 L630.9,1478.4 L631.7,1479.5 L632.5,1480.9 L633.3,1482.5 L634.1,1484.3 L634.9,1486.1 L635.7,1488 L636.5,1489.7 L637.3,1491.3 L638.1,1492.7 L638.9,1494.2 L639.7,1495.6 L640.5,1497.1 L641.3,1498.5 L642.1,1499.7 L642.9,1500.8 L643.7,1501.7 L644.5,1502.7 L645.3,1503.6 L646.1,1504.5 L646.9,1505.2 L647.7,1505.8 L648.5,1506.2 L649.3,1506.4 L650.1,1506.3 L650.9,1505.8 L651.7,1505.2 L652.5,1504.4 L653.3,1503.5 L654.1,1502.7 L654.9,1501.9 L655.7,1501.3 L656.5,1500.9 L657.3,1500.8 L658.1,1501.1 L658.9,1501.7 L659.7,1502.5 L660.5,1503.4 L661.3,1504.4 L662.1,1505.2 L662.9,1505.8 L663.7,1506.3 L664.5,1506.8 L665.3,1507.3 L666.1,1507.8 L666.9,1508.2 L667.7,1508.6 L668.5,1509 L669.3,1509.2 L670.1,1509.4 L670.9,1509.5 L671.7,1509.5 L672.5,1509.4 L673.3,1509.3 L674.1,1509.1 L674.9,1509 L675.7,1508.7 L676.5,1508.5 L677.3,1508.2 L678.1,1507.9 L678.9,1507.6 L679.7,1507.2 L680.5,1506.9 L681.3,1506.6 L682.1,1506.3 L682.9,1505.9 L683.7,1505.6 L684.5,1505.2 L685.3,1504.7 L686.1,1504.2 L686.9,1503.6 L687.7,1503 L688.5,1502.5 L689.3,1501.9 L690.1,1501.4 L690.9,1501 L691.7,1500.6 L692.5,1500.3 L693.3,1500.2 L694.1,1500.1 L694.9,1500.2 L695.7,1500.3 L696.5,1500.5 L697.3,1500.7 L698.1,1501 L698.9,1501.3 L699.7,1501.5 L700.5,1501.8 L701.3,1502.1 L702.1,1502.3 L702.9,1502.5 L703.7,1502.6 L704.5,1502.6 L705.3,1502.4 L706.1,1501.9 L706.9,1501.1 L707.7,1500.1 L708.5,1498.9 L709.3,1497.6 L710.1,1496.1 L710.9,1494.5 L711.7,1492.8 L712.5,1490.7 L713.3,1487.6 L714.1,1483.8 L714.9,1479.8 L715.7,1476.1 L716.5,1472.8 L717.3,1468.9 L718.1,1465.3 L718.9,1462.7 L719.7,1461.8 L720.5,1462 L721.3,1462.4 L722.1,1463 L722.9,1463.6 L723.7,1464.6 L724.5,1465.7 L726,1468.2" fill="none" stroke="#5c5ce6" stroke-width="1.6" stroke-linejoin="round"/>
<path d="M94.9,1589.2 L95.7,1589.2 L96.5,1589.2 L97.3,1589.2 L98.1,1589.2 L98.9,1589.2 L99.7,1589.2 L100.5,1589.2 L101.3,1589.2 L102.1,1589.2 L102.9,1589.2 L103.7,1589.2 L104.5,1589.2 L105.3,1589.2 L106.1,1589.2 L106.9,1589.2 L107.7,1589.2 L108.5,1589.2 L109.3,1589.2 L110.1,1589.2 L110.9,1589.2 L111.7,1589.2 L112.5,1589.2 L113.3,1589.2 L114.1,1589.2 L114.9,1589.2 L115.7,1589.2 L116.5,1589.2 L117.3,1589.2 L118.1,1589.2 L118.9,1589.2 L119.7,1589.2 L120.5,1589.2 L121.3,1589.2 L122.1,1589.2 L122.9,1589.2 L123.7,1589.2 L124.5,1589.2 L125.3,1589.2 L126.1,1589.2 L126.9,1589.2 L127.7,1589.2 L128.5,1589.2 L129.3,1589.2 L130.1,1589.2 L130.9,1589.2 L131.7,1589.2 L132.5,1589.2 L133.3,1589.2 L134.1,1589.2 L134.9,1589.2 L135.7,1589.2 L136.5,1589.2 L137.3,1589.2 L138.1,1589.2 L138.9,1589.2 L139.7,1589.2 L140.5,1589.2 L141.3,1589.2 L142.1,1589.2 L142.9,1589.2 L143.7,1589.2 L144.5,1589.2 L145.3,1589.2 L146.1,1589.2 L146.9,1589.2 L147.7,1589.2 L148.5,1589.2 L149.3,1589.2 L150.1,1589.2 L150.9,1589.2 L151.7,1589.2 L152.5,1589.2 L153.3,1589.2 L154.1,1589.1 L154.9,1589 L155.7,1589 L156.5,1588.9 L157.3,1588.8 L158.1,1588.7 L158.9,1588.6 L159.7,1588.5 L160.5,1588.4 L161.3,1588.3 L162.1,1588.2 L162.9,1588.1 L163.7,1587.9 L164.5,1587.8 L165.3,1587.7 L166.1,1587.6 L166.9,1587.4 L167.7,1587.3 L168.5,1587.2 L169.3,1587 L170.1,1586.9 L170.9,1586.8 L171.7,1586.7 L172.5,1586.6 L173.3,1586.5 L174.1,1586.4 L174.9,1586.2 L175.7,1586.1 L176.5,1586 L177.3,1585.9 L178.1,1585.8 L178.9,1585.7 L179.7,1585.6 L180.5,1585.5 L181.3,1585.4 L182.1,1585.3 L182.9,1585.2 L183.7,1585.1 L184.5,1585.1 L185.3,1585 L186.1,1584.9 L186.9,1584.9 L187.7,1584.8 L188.5,1584.8 L189.3,1584.7 L190.1,1584.7 L190.9,1584.6 L191.7,1584.6 L192.5,1584.5 L193.3,1584.5 L194.1,1584.4 L194.9,1584.4 L195.7,1584.4 L196.5,1584.3 L197.3,1584.3 L198.1,1584.3 L198.9,1584.2 L199.7,1584.2 L200.5,1584.2 L201.3,1584.2 L202.1,1584.2 L202.9,1584.2 L203.7,1584.2 L204.5,1584.2 L205.3,1584.2 L206.1,1584.2 L206.9,1584.3 L207.7,1584.3 L208.5,1584.3 L209.3,1584.3 L210.1,1584.3 L210.9,1584.4 L211.7,1584.4 L212.5,1584.4 L213.3,1584.5 L214.1,1584.5 L214.9,1584.5 L215.7,1584.6 L216.5,1584.6 L217.3,1584.6 L218.1,1584.7 L218.9,1584.7 L219.7,1584.7 L220.5,1584.8 L221.3,1584.8 L222.1,1584.8 L222.9,1584.9 L223.7,1584.9 L224.5,1584.9 L225.3,1585 L226.1,1585 L226.9,1585 L227.7,1585.1 L228.5,1585.1 L229.3,1585.1 L230.1,1585.2 L230.9,1585.2 L231.7,1585.2 L232.5,1585.3 L233.3,1585.3 L234.1,1585.4 L234.9,1585.4 L235.7,1585.5 L236.5,1585.5 L237.3,1585.5 L238.1,1585.6 L238.9,1585.6 L239.7,1585.7 L240.5,1585.7 L241.3,1585.8 L242.1,1585.8 L242.9,1585.8 L243.7,1585.9 L244.5,1585.9 L245.3,1586 L246.1,1586 L246.9,1586 L247.7,1586.1 L248.5,1586.1 L249.3,1586.2 L250.1,1586.2 L250.9,1586.2 L251.7,1586.3 L252.5,1586.3 L253.3,1586.4 L254.1,1586.4 L254.9,1586.5 L255.7,1586.5 L256.5,1586.6 L257.3,1586.6 L258.1,1586.7 L258.9,1586.7 L259.7,1586.8 L260.5,1586.8 L261.3,1586.8 L262.1,1586.9 L262.9,1586.9 L263.7,1586.9 L264.5,1586.9 L265.3,1586.9 L266.1,1586.9 L266.9,1586.7 L267.7,1586.2 L268.5,1585.4 L269.3,1584.5 L270.1,1583.6 L270.9,1582.7 L271.7,1581.9 L272.5,1581.1 L273.3,1580.3 L274.1,1579.4 L274.9,1578.4 L275.7,1577.4 L276.5,1576.1 L277.3,1574.5 L278.1,1572.8 L278.9,1571.4 L279.7,1570.2 L280.5,1569.2 L281.3,1568.8 L282.1,1569.1 L282.9,1569.8 L283.7,1570.6 L284.5,1571.3 L285.3,1571.9 L286.1,1572.7 L286.9,1573.4 L287.7,1574.1 L288.5,1574.9 L289.3,1575.7 L290.1,1576.2 L290.9,1576.3 L291.7,1574.6 L292.5,1571.8 L293.3,1569.3 L294.1,1566.6 L294.9,1564.9 L295.7,1565.5 L296.5,1567.3 L297.3,1569.4 L298.1,1572.4 L298.9,1575.5 L299.7,1578.5 L300.5,1581.3 L301.3,1582.4 L302.1,1582.8 L302.9,1582.9 L303.7,1582.9 L304.5,1582.8 L305.3,1582.8 L306.1,1583.1 L306.9,1583.8 L307.7,1584.5 L308.5,1585 L309.3,1585.5 L310.1,1585.9 L310.9,1586.1 L311.7,1586.4 L312.5,1586.6 L313.3,1586.8 L314.1,1586.9 L314.9,1587.1 L315.7,1587.2 L316.5,1587.3 L317.3,1587.3 L318.1,1587.4 L318.9,1587.5 L319.7,1587.5 L320.5,1587.6 L321.3,1587.7 L322.1,1587.7 L322.9,1587.8 L323.7,1587.8 L324.5,1587.9 L325.3,1587.9 L326.1,1588 L326.9,1588 L327.7,1588 L328.5,1588 L329.3,1588.1 L330.1,1588.1 L330.9,1588.1 L331.7,1588.2 L332.5,1588.2 L333.3,1588.2 L334.1,1588.2 L334.9,1588.2 L335.7,1588.3 L336.5,1588.3 L337.3,1588.3 L338.1,1588.3 L338.9,1588.3 L339.7,1588.3 L340.5,1588.3 L341.3,1588.4 L342.1,1588.4 L342.9,1588.4 L343.7,1588.4 L344.5,1588.4 L345.3,1588.4 L346.1,1588.4 L346.9,1588.4 L347.7,1588.4 L348.5,1588.4 L349.3,1588.4 L350.1,1588.4 L350.9,1588.5 L351.7,1588.5 L352.5,1588.5 L353.3,1588.5 L354.1,1588.5 L354.9,1588.5 L355.7,1588.5 L356.5,1588.5 L357.3,1588.5 L358.1,1588.5 L358.9,1588.5 L359.7,1588.5 L360.5,1588.5 L361.3,1588.5 L362.1,1588.5 L362.9,1588.5 L363.7,1588.5 L364.5,1588.5 L365.3,1588.5 L366.1,1588.6 L366.9,1588.6 L367.7,1588.6 L368.5,1588.6 L369.3,1588.6 L370.1,1588.6 L370.9,1588.6 L371.7,1588.6 L372.5,1588.6 L373.3,1588.6 L374.1,1588.6 L374.9,1588.6 L375.7,1588.6 L376.5,1588.6 L377.3,1588.6 L378.1,1588.6 L378.9,1588.6 L379.7,1588.6 L380.5,1588.6 L381.3,1588.6 L382.1,1588.6 L382.9,1588.6 L383.7,1588.6 L384.5,1588.6 L385.3,1588.6 L386.1,1588.6 L386.9,1588.6 L387.7,1588.6 L388.5,1588.6 L389.3,1588.7 L390.1,1588.7 L390.9,1588.7 L391.7,1588.7 L392.5,1588.7 L393.3,1588.7 L394.1,1588.7 L394.9,1588.7 L395.7,1588.7 L396.5,1588.7 L397.3,1588.7 L398.1,1588.7 L398.9,1588.7 L399.7,1588.7 L400.5,1588.7 L401.3,1588.7 L402.1,1588.7 L402.9,1588.7 L403.7,1588.7 L404.5,1588.7 L405.3,1588.7 L406.1,1588.7 L406.9,1588.7 L407.7,1588.7 L408.5,1588.7 L409.3,1588.7 L410.1,1588.7 L410.9,1588.7 L411.7,1588.8 L412.5,1588.8 L413.3,1588.8 L414.1,1588.8 L414.9,1588.8 L415.7,1588.8 L416.5,1588.8 L417.3,1588.8 L418.1,1588.8 L418.9,1588.8 L419.7,1588.8 L420.5,1588.8 L421.3,1588.8 L422.1,1588.8 L422.9,1588.8 L423.7,1588.8 L424.5,1588.8 L425.3,1588.8 L426.1,1588.8 L426.9,1588.8 L427.7,1588.8 L428.5,1588.8 L429.3,1588.8 L430.1,1588.8 L430.9,1588.8 L431.7,1588.8 L432.5,1588.8 L433.3,1588.8 L434.1,1588.8 L434.9,1588.8 L435.7,1588.8 L436.5,1588.8 L437.3,1588.8 L438.1,1588.8 L438.9,1588.8 L439.7,1588.8 L440.5,1588.9 L441.3,1588.9 L442.1,1588.9 L442.9,1588.9 L443.7,1588.9 L444.5,1588.9 L445.3,1588.9 L446.1,1588.9 L446.9,1588.9 L447.7,1588.9 L448.5,1588.9 L449.3,1588.9 L450.1,1588.9 L450.9,1588.9 L451.7,1588.9 L452.5,1588.9 L453.3,1588.9 L454.1,1588.9 L454.9,1588.9 L455.7,1588.9 L456.5,1588.9 L457.3,1588.9 L458.1,1588.9 L458.9,1588.9 L459.7,1588.9 L460.5,1588.9 L461.3,1588.9 L462.1,1589 L462.9,1589 L463.7,1589 L464.5,1589 L465.3,1589 L466.1,1589 L466.9,1589 L467.7,1589 L468.5,1589 L469.3,1589 L470.1,1589 L470.9,1589 L471.7,1589 L472.5,1589 L473.3,1589 L474.1,1589 L474.9,1589.1 L475.7,1589.1 L476.5,1589.1 L477.3,1589.1 L478.1,1589.1 L478.9,1589.1 L479.7,1589.1 L480.5,1589.1 L481.3,1589.1 L482.1,1589.2 L482.9,1589.2 L483.7,1589.2 L484.5,1589.2 L485.3,1589.2 L486.1,1589.2 L486.9,1589.2 L487.7,1589.2 L488.5,1588.5 L489.3,1584.9 L490.1,1579.8 L490.9,1573.6 L491.7,1563.8 L492.5,1558.5 L493.3,1560.9 L494.1,1565.3 L494.9,1568.7 L495.7,1571.5 L496.5,1573.9 L497.3,1575.9 L498.1,1577.8 L498.9,1579.6 L499.7,1581.2 L500.5,1582.7 L501.3,1583.9 L502.1,1584.8 L502.9,1585.3 L503.7,1585.6 L504.5,1586 L505.3,1586.2 L506.1,1586.4 L506.9,1586.6 L507.7,1586.8 L508.5,1587 L509.3,1587.1 L510.1,1587.2 L510.9,1587.3 L511.7,1587.5 L512.5,1587.6 L513.3,1587.7 L514.1,1587.8 L514.9,1587.9 L515.7,1588 L516.5,1588 L517.3,1588.1 L518.1,1588.1 L518.9,1588.2 L519.7,1588.2 L520.5,1588.2 L521.3,1588.2 L522.1,1588.1 L522.9,1588 L523.7,1587.9 L524.5,1587.7 L525.3,1587.5 L526.1,1587.3 L526.9,1587.1 L527.7,1586.9 L528.5,1586.6 L529.3,1586.3 L530.1,1586 L530.9,1585.7 L531.7,1585.4 L532.5,1585 L533.3,1584.7 L534.1,1584.3 L534.9,1583.9 L535.7,1583.3 L536.5,1582.5 L537.3,1581.5 L538.1,1580.4 L538.9,1579.3 L539.7,1578.2 L540.5,1577.2 L541.3,1576.3 L542.1,1575.6 L542.9,1575.2 L543.7,1575.1 L544.5,1575.2 L545.3,1575.5 L546.1,1575.8 L546.9,1576.2 L547.7,1576.6 L548.5,1576.9 L549.3,1577.1 L550.1,1577.2 L550.9,1576.8 L551.7,1575.9 L552.5,1574.7 L553.3,1573.3 L554.1,1572 L554.9,1570.9 L555.7,1570.2 L556.5,1570 L557.3,1570.6 L558.1,1571.7 L558.9,1573.1 L559.7,1574.6 L560.5,1576 L561.3,1576.9 L562.1,1577.2 L562.9,1577.2 L563.7,1577.2 L564.5,1577.1 L565.3,1577 L566.1,1577 L566.9,1576.8 L567.7,1576.7 L568.5,1576.6 L569.3,1576.4 L570.1,1576.2 L570.9,1576.1 L571.7,1575.8 L572.5,1575.6 L573.3,1575.4 L574.1,1575.1 L574.9,1574.7 L575.7,1574 L576.5,1573.1 L577.3,1572 L578.1,1570.7 L578.9,1569.4 L579.7,1567.6 L580.5,1565.1 L581.3,1562.1 L582.1,1558.9 L582.9,1556 L583.7,1553.5 L584.5,1551.9 L585.3,1550.6 L586.1,1549.6 L586.9,1548.7 L587.7,1548 L588.5,1547.3 L589.3,1546.6 L590.1,1546 L590.9,1545.3 L591.7,1544.6 L592.5,1543.7 L593.3,1542.7 L594.1,1541.4 L594.9,1539.9 L595.7,1537.7 L596.5,1535 L597.3,1531.8 L598.1,1528.3 L598.9,1524.5 L599.7,1520.7 L600.5,1516.4 L601.3,1511 L602.1,1505 L602.9,1499.5 L603.7,1495.3 L604.5,1492.8 L605.3,1490.8 L606.1,1489.2 L606.9,1488.3 L607.7,1487.8 L608.5,1487.4 L609.3,1487.2 L610.1,1487.1 L610.9,1487.5 L611.7,1488.3 L612.5,1489.2 L613.3,1490.3 L614.1,1491.9 L614.9,1493.9 L615.7,1496.9 L616.5,1501.4 L617.3,1506.9 L618.1,1512.8 L618.9,1518.5 L619.7,1524.9 L620.5,1532.7 L621.3,1539.9 L622.1,1544.8 L622.9,1545.7 L623.7,1545.2 L624.5,1544.2 L625.3,1543 L626.1,1541.9 L626.9,1541 L627.7,1540.7 L628.5,1540.9 L629.3,1541.5 L630.1,1542.4 L630.9,1543.6 L631.7,1544.9 L632.5,1546.5 L633.3,1548.1 L634.1,1549.8 L634.9,1551.4 L635.7,1553 L636.5,1554.4 L637.3,1555.7 L638.1,1556.9 L638.9,1558.2 L639.7,1559.5 L640.5,1560.8 L641.3,1562 L642.1,1563.1 L642.9,1564.1 L643.7,1565 L644.5,1566 L645.3,1567 L646.1,1567.9 L646.9,1568.7 L647.7,1569.4 L648.5,1569.8 L649.3,1570 L650.1,1569.7 L650.9,1568.9 L651.7,1567.8 L652.5,1566.4 L653.3,1565 L654.1,1563.7 L654.9,1562.8 L655.7,1562.4 L656.5,1562.6 L657.3,1563.1 L658.1,1563.9 L658.9,1564.8 L659.7,1565.8 L660.5,1566.8 L661.3,1567.7 L662.1,1568.3 L662.9,1568.7 L663.7,1569.2 L664.5,1569.7 L665.3,1570.2 L666.1,1570.6 L666.9,1571 L667.7,1571.4 L668.5,1571.6 L669.3,1571.9 L670.1,1572 L670.9,1572.1 L671.7,1572.1 L672.5,1572 L673.3,1571.9 L674.1,1571.7 L674.9,1571.4 L675.7,1571.1 L676.5,1570.8 L677.3,1570.5 L678.1,1570.1 L678.9,1569.7 L679.7,1569.3 L680.5,1568.9 L681.3,1568.5 L682.1,1568.1 L682.9,1567.7 L683.7,1567.3 L684.5,1567 L685.3,1566.6 L686.1,1566.1 L686.9,1565.6 L687.7,1565.1 L688.5,1564.6 L689.3,1564.1 L690.1,1563.6 L690.9,1563.1 L691.7,1562.7 L692.5,1562.2 L693.3,1561.9 L694.1,1561.6 L694.9,1561.3 L695.7,1561.2 L696.5,1561.1 L697.3,1561.1 L698.1,1561.2 L698.9,1561.3 L699.7,1561.4 L700.5,1561.5 L701.3,1561.7 L702.1,1561.8 L702.9,1562 L703.7,1562.1 L704.5,1562.2 L705.3,1562.3 L706.1,1562.4 L706.9,1562.4 L707.7,1561.8 L708.5,1560.4 L709.3,1558.3 L710.1,1555.8 L710.9,1553.1 L711.7,1550.2 L712.5,1547.2 L713.3,1543.3 L714.1,1538.9 L714.9,1534.4 L715.7,1530.4 L716.5,1527.2 L717.3,1523.7 L718.1,1520.6 L718.9,1518.4 L719.7,1517.7 L720.5,1518 L721.3,1518.6 L722.1,1519.3 L722.9,1520.4 L723.7,1522.1 L724.5,1524.2 L726,1529.2" fill="none" stroke="#e266ea" stroke-width="1.6" stroke-linejoin="round"/>
<path d="M94.9,1651.3 L95.7,1651.3 L96.5,1651.3 L97.3,1651.3 L98.1,1651.3 L98.9,1651.3 L99.7,1651.3 L100.5,1651.3 L101.3,1651.3 L102.1,1651.3 L102.9,1651.3 L103.7,1651.3 L104.5,1651.3 L105.3,1651.3 L106.1,1651.3 L106.9,1651.3 L107.7,1651.3 L108.5,1651.3 L109.3,1651.3 L110.1,1651.3 L110.9,1651.3 L111.7,1651.3 L112.5,1651.3 L113.3,1651.3 L114.1,1651.3 L114.9,1651.3 L115.7,1651.3 L116.5,1651.3 L117.3,1651.3 L118.1,1651.3 L118.9,1651.3 L119.7,1651.3 L120.5,1651.3 L121.3,1651.3 L122.1,1651.3 L122.9,1651.3 L123.7,1651.3 L124.5,1651.3 L125.3,1651.3 L126.1,1651.3 L126.9,1651.3 L127.7,1651.3 L128.5,1651.3 L129.3,1651.3 L130.1,1651.3 L130.9,1651.3 L131.7,1651.3 L132.5,1651.3 L133.3,1651.3 L134.1,1651.3 L134.9,1651.3 L135.7,1651.3 L136.5,1651.3 L137.3,1651.3 L138.1,1651.3 L138.9,1651.3 L139.7,1651.3 L140.5,1651.3 L141.3,1651.3 L142.1,1651.3 L142.9,1651.3 L143.7,1651.3 L144.5,1651.3 L145.3,1651.3 L146.1,1651.3 L146.9,1651.3 L147.7,1651.3 L148.5,1651.3 L149.3,1651.3 L150.1,1651.3 L150.9,1651.3 L151.7,1651.3 L152.5,1651.3 L153.3,1651.3 L154.1,1651.2 L154.9,1651.2 L155.7,1651.1 L156.5,1651.1 L157.3,1651 L158.1,1651 L158.9,1650.9 L159.7,1650.8 L160.5,1650.8 L161.3,1650.7 L162.1,1650.6 L162.9,1650.5 L163.7,1650.5 L164.5,1650.4 L165.3,1650.3 L166.1,1650.2 L166.9,1650.1 L167.7,1650 L168.5,1650 L169.3,1649.9 L170.1,1649.8 L170.9,1649.7 L171.7,1649.7 L172.5,1649.6 L173.3,1649.5 L174.1,1649.4 L174.9,1649.4 L175.7,1649.3 L176.5,1649.2 L177.3,1649.1 L178.1,1649.1 L178.9,1649 L179.7,1648.9 L180.5,1648.8 L181.3,1648.8 L182.1,1648.7 L182.9,1648.7 L183.7,1648.6 L184.5,1648.6 L185.3,1648.5 L186.1,1648.5 L186.9,1648.5 L187.7,1648.4 L188.5,1648.4 L189.3,1648.3 L190.1,1648.3 L190.9,1648.3 L191.7,1648.2 L192.5,1648.2 L193.3,1648.2 L194.1,1648.2 L194.9,1648.1 L195.7,1648.1 L196.5,1648.1 L197.3,1648.1 L198.1,1648 L198.9,1648 L199.7,1648 L200.5,1648 L201.3,1648 L202.1,1648 L202.9,1648 L203.7,1648 L204.5,1648 L205.3,1648 L206.1,1648 L206.9,1648 L207.7,1648 L208.5,1648.1 L209.3,1648.1 L210.1,1648.1 L210.9,1648.1 L211.7,1648.1 L212.5,1648.1 L213.3,1648.2 L214.1,1648.2 L214.9,1648.2 L215.7,1648.2 L216.5,1648.3 L217.3,1648.3 L218.1,1648.3 L218.9,1648.3 L219.7,1648.3 L220.5,1648.4 L221.3,1648.4 L222.1,1648.4 L222.9,1648.4 L223.7,1648.5 L224.5,1648.5 L225.3,1648.5 L226.1,1648.5 L226.9,1648.5 L227.7,1648.6 L228.5,1648.6 L229.3,1648.6 L230.1,1648.6 L230.9,1648.7 L231.7,1648.7 L232.5,1648.7 L233.3,1648.7 L234.1,1648.8 L234.9,1648.8 L235.7,1648.8 L236.5,1648.9 L237.3,1648.9 L238.1,1648.9 L238.9,1648.9 L239.7,1649 L240.5,1649 L241.3,1649 L242.1,1649.1 L242.9,1649.1 L243.7,1649.1 L244.5,1649.1 L245.3,1649.2 L246.1,1649.2 L246.9,1649.2 L247.7,1649.2 L248.5,1649.3 L249.3,1649.3 L250.1,1649.3 L250.9,1649.4 L251.7,1649.4 L252.5,1649.4 L253.3,1649.4 L254.1,1649.5 L254.9,1649.5 L255.7,1649.5 L256.5,1649.6 L257.3,1649.6 L258.1,1649.6 L258.9,1649.7 L259.7,1649.7 L260.5,1649.7 L261.3,1649.7 L262.1,1649.8 L262.9,1649.8 L263.7,1649.8 L264.5,1649.8 L265.3,1649.8 L266.1,1649.8 L266.9,1649.6 L267.7,1649 L268.5,1648.2 L269.3,1647.3 L270.1,1646.3 L270.9,1645.4 L271.7,1644.6 L272.5,1643.8 L273.3,1642.9 L274.1,1641.9 L274.9,1640.9 L275.7,1639.8 L276.5,1638.5 L277.3,1636.9 L278.1,1635.3 L278.9,1633.9 L279.7,1632.8 L280.5,1631.8 L281.3,1631.4 L282.1,1631.7 L282.9,1632.4 L283.7,1633.1 L284.5,1633.8 L285.3,1634.5 L286.1,1635.2 L286.9,1635.9 L287.7,1636.6 L288.5,1637.4 L289.3,1638.2 L290.1,1638.8 L290.9,1638.9 L291.7,1636.5 L292.5,1632.8 L293.3,1629.7 L294.1,1626.8 L294.9,1625 L295.7,1625.7 L296.5,1627.6 L297.3,1629.9 L298.1,1633.1 L298.9,1636.5 L299.7,1639.6 L300.5,1642.5 L301.3,1643.6 L302.1,1644 L302.9,1644.2 L303.7,1644.2 L304.5,1644.1 L305.3,1644.1 L306.1,1644.4 L306.9,1645.2 L307.7,1646 L308.5,1646.6 L309.3,1647.1 L310.1,1647.5 L310.9,1647.9 L311.7,1648.2 L312.5,1648.5 L313.3,1648.7 L314.1,1648.9 L314.9,1649.1 L315.7,1649.3 L316.5,1649.4 L317.3,1649.4 L318.1,1649.5 L318.9,1649.6 L319.7,1649.7 L320.5,1649.7 L321.3,1649.8 L322.1,1649.8 L322.9,1649.9 L323.7,1649.9 L324.5,1650 L325.3,1650 L326.1,1650.1 L326.9,1650.1 L327.7,1650.1 L328.5,1650.2 L329.3,1650.2 L330.1,1650.2 L330.9,1650.2 L331.7,1650.3 L332.5,1650.3 L333.3,1650.3 L334.1,1650.3 L334.9,1650.3 L335.7,1650.4 L336.5,1650.4 L337.3,1650.4 L338.1,1650.4 L338.9,1650.4 L339.7,1650.4 L340.5,1650.4 L341.3,1650.5 L342.1,1650.5 L342.9,1650.5 L343.7,1650.5 L344.5,1650.5 L345.3,1650.5 L346.1,1650.5 L346.9,1650.5 L347.7,1650.5 L348.5,1650.5 L349.3,1650.5 L350.1,1650.5 L350.9,1650.6 L351.7,1650.6 L352.5,1650.6 L353.3,1650.6 L354.1,1650.6 L354.9,1650.6 L355.7,1650.6 L356.5,1650.6 L357.3,1650.6 L358.1,1650.6 L358.9,1650.6 L359.7,1650.6 L360.5,1650.6 L361.3,1650.6 L362.1,1650.6 L362.9,1650.6 L363.7,1650.6 L364.5,1650.6 L365.3,1650.6 L366.1,1650.7 L366.9,1650.7 L367.7,1650.7 L368.5,1650.7 L369.3,1650.7 L370.1,1650.7 L370.9,1650.7 L371.7,1650.7 L372.5,1650.7 L373.3,1650.7 L374.1,1650.7 L374.9,1650.7 L375.7,1650.7 L376.5,1650.7 L377.3,1650.7 L378.1,1650.7 L378.9,1650.7 L379.7,1650.7 L380.5,1650.7 L381.3,1650.7 L382.1,1650.7 L382.9,1650.7 L383.7,1650.7 L384.5,1650.7 L385.3,1650.7 L386.1,1650.7 L386.9,1650.7 L387.7,1650.7 L388.5,1650.7 L389.3,1650.8 L390.1,1650.8 L390.9,1650.8 L391.7,1650.8 L392.5,1650.8 L393.3,1650.8 L394.1,1650.8 L394.9,1650.8 L395.7,1650.8 L396.5,1650.8 L397.3,1650.8 L398.1,1650.8 L398.9,1650.8 L399.7,1650.8 L400.5,1650.8 L401.3,1650.8 L402.1,1650.8 L402.9,1650.8 L403.7,1650.8 L404.5,1650.8 L405.3,1650.8 L406.1,1650.8 L406.9,1650.8 L407.7,1650.8 L408.5,1650.8 L409.3,1650.8 L410.1,1650.8 L410.9,1650.8 L411.7,1650.9 L412.5,1650.9 L413.3,1650.9 L414.1,1650.9 L414.9,1650.9 L415.7,1650.9 L416.5,1650.9 L417.3,1650.9 L418.1,1650.9 L418.9,1650.9 L419.7,1650.9 L420.5,1650.9 L421.3,1650.9 L422.1,1650.9 L422.9,1650.9 L423.7,1650.9 L424.5,1650.9 L425.3,1650.9 L426.1,1650.9 L426.9,1650.9 L427.7,1650.9 L428.5,1650.9 L429.3,1650.9 L430.1,1650.9 L430.9,1650.9 L431.7,1650.9 L432.5,1650.9 L433.3,1650.9 L434.1,1650.9 L434.9,1650.9 L435.7,1650.9 L436.5,1650.9 L437.3,1650.9 L438.1,1650.9 L438.9,1650.9 L439.7,1650.9 L440.5,1651 L441.3,1651 L442.1,1651 L442.9,1651 L443.7,1651 L444.5,1651 L445.3,1651 L446.1,1651 L446.9,1651 L447.7,1651 L448.5,1651 L449.3,1651 L450.1,1651 L450.9,1651 L451.7,1651 L452.5,1651 L453.3,1651 L454.1,1651 L454.9,1651 L455.7,1651 L456.5,1651 L457.3,1651 L458.1,1651 L458.9,1651 L459.7,1651 L460.5,1651 L461.3,1651 L462.1,1651.1 L462.9,1651.1 L463.7,1651.1 L464.5,1651.1 L465.3,1651.1 L466.1,1651.1 L466.9,1651.1 L467.7,1651.1 L468.5,1651.1 L469.3,1651.1 L470.1,1651.1 L470.9,1651.1 L471.7,1651.1 L472.5,1651.1 L473.3,1651.1 L474.1,1651.1 L474.9,1651.2 L475.7,1651.2 L476.5,1651.2 L477.3,1651.2 L478.1,1651.2 L478.9,1651.2 L479.7,1651.2 L480.5,1651.2 L481.3,1651.2 L482.1,1651.3 L482.9,1651.3 L483.7,1651.3 L484.5,1651.3 L485.3,1651.3 L486.1,1651.3 L486.9,1651.3 L487.7,1651.3 L488.5,1650.7 L489.3,1647.7 L490.1,1643.5 L490.9,1638.4 L491.7,1630.6 L492.5,1626.3 L493.3,1628.9 L494.1,1633.6 L494.9,1636.5 L495.7,1638.6 L496.5,1640.3 L497.3,1641.9 L498.1,1643.4 L498.9,1644.9 L499.7,1646.3 L500.5,1647.5 L501.3,1648.5 L502.1,1649.1 L502.9,1649.3 L503.7,1649.4 L504.5,1649.5 L505.3,1649.6 L506.1,1649.7 L506.9,1649.8 L507.7,1649.8 L508.5,1649.9 L509.3,1650 L510.1,1650 L510.9,1650.1 L511.7,1650.1 L512.5,1650.1 L513.3,1650.2 L514.1,1650.2 L514.9,1650.2 L515.7,1650.3 L516.5,1650.3 L517.3,1650.3 L518.1,1650.3 L518.9,1650.3 L519.7,1650.3 L520.5,1650.3 L521.3,1650.3 L522.1,1650.3 L522.9,1650.3 L523.7,1650.2 L524.5,1650.2 L525.3,1650.2 L526.1,1650.1 L526.9,1650.1 L527.7,1650 L528.5,1649.9 L529.3,1649.8 L530.1,1649.8 L530.9,1649.7 L531.7,1649.6 L532.5,1649.5 L533.3,1649.4 L534.1,1649.3 L534.9,1649.1 L535.7,1648.8 L536.5,1648.1 L537.3,1647.3 L538.1,1646.4 L538.9,1645.4 L539.7,1644.4 L540.5,1643.5 L541.3,1642.7 L542.1,1642.1 L542.9,1641.7 L543.7,1641.6 L544.5,1641.7 L545.3,1642 L546.1,1642.3 L546.9,1642.8 L547.7,1643.2 L548.5,1643.6 L549.3,1643.9 L550.1,1644.2 L550.9,1644.3 L551.7,1643.9 L552.5,1642.7 L553.3,1641 L554.1,1639.1 L554.9,1637.4 L555.7,1636.3 L556.5,1636 L557.3,1636.4 L558.1,1637.3 L558.9,1638.4 L559.7,1639.7 L560.5,1641 L561.3,1642.1 L562.1,1642.9 L562.9,1643.3 L563.7,1643.3 L564.5,1643.3 L565.3,1643.2 L566.1,1643.2 L566.9,1643.1 L567.7,1643 L568.5,1642.9 L569.3,1642.8 L570.1,1642.6 L570.9,1642.5 L571.7,1642.3 L572.5,1642.1 L573.3,1641.8 L574.1,1641.6 L574.9,1641.1 L575.7,1640.1 L576.5,1638.7 L577.3,1637.1 L578.1,1635.3 L578.9,1633.5 L579.7,1631.4 L580.5,1628.7 L581.3,1625.6 L582.1,1622.4 L582.9,1619.5 L583.7,1617 L584.5,1615.2 L585.3,1613.9 L586.1,1612.8 L586.9,1611.9 L587.7,1611.1 L588.5,1610.3 L589.3,1609.7 L590.1,1609 L590.9,1608.2 L591.7,1607.4 L592.5,1606.5 L593.3,1605.4 L594.1,1604.1 L594.9,1602.4 L595.7,1600.2 L596.5,1597.4 L597.3,1594.1 L598.1,1590.5 L598.9,1586.7 L599.7,1582.8 L600.5,1578.5 L601.3,1573.1 L602.1,1567.3 L602.9,1561.8 L603.7,1557.5 L604.5,1554.6 L605.3,1552 L606.1,1549.8 L606.9,1548.6 L607.7,1548.5 L608.5,1548.9 L609.3,1549.6 L610.1,1550.4 L610.9,1551.4 L611.7,1552.7 L612.5,1554.6 L613.3,1557.4 L614.1,1560.9 L614.9,1565 L615.7,1569.3 L616.5,1573.7 L617.3,1577.9 L618.1,1583.1 L618.9,1589.1 L619.7,1595.2 L620.5,1600.8 L621.3,1605.2 L622.1,1607.9 L622.9,1608.4 L623.7,1608 L624.5,1607.4 L625.3,1606.7 L626.1,1606 L626.9,1605.5 L627.7,1605.3 L628.5,1605.5 L629.3,1606.1 L630.1,1606.9 L630.9,1608 L631.7,1609.4 L632.5,1610.8 L633.3,1612.4 L634.1,1614 L634.9,1615.6 L635.7,1617.1 L636.5,1618.5 L637.3,1619.8 L638.1,1621 L638.9,1622.3 L639.7,1623.6 L640.5,1624.9 L641.3,1626.1 L642.1,1627.2 L642.9,1628.2 L643.7,1629.1 L644.5,1630.1 L645.3,1631 L646.1,1631.9 L646.9,1632.7 L647.7,1633.3 L648.5,1633.7 L649.3,1633.9 L650.1,1633.6 L650.9,1632.7 L651.7,1631.3 L652.5,1629.7 L653.3,1628 L654.1,1626.6 L654.9,1625.5 L655.7,1625 L656.5,1625.2 L657.3,1625.7 L658.1,1626.6 L658.9,1627.6 L659.7,1628.7 L660.5,1629.7 L661.3,1630.7 L662.1,1631.4 L662.9,1632 L663.7,1632.6 L664.5,1633.2 L665.3,1633.9 L666.1,1634.4 L666.9,1635 L667.7,1635.5 L668.5,1635.9 L669.3,1636.2 L670.1,1636.4 L670.9,1636.5 L671.7,1636.5 L672.5,1636.4 L673.3,1636.3 L674.1,1636.1 L674.9,1635.9 L675.7,1635.6 L676.5,1635.3 L677.3,1634.9 L678.1,1634.6 L678.9,1634.2 L679.7,1633.8 L680.5,1633.4 L681.3,1633 L682.1,1632.6 L682.9,1632.2 L683.7,1631.9 L684.5,1631.5 L685.3,1631.2 L686.1,1630.8 L686.9,1630.4 L687.7,1630 L688.5,1629.5 L689.3,1629.1 L690.1,1628.6 L690.9,1628.1 L691.7,1627.7 L692.5,1627.2 L693.3,1626.8 L694.1,1626.4 L694.9,1626 L695.7,1625.7 L696.5,1625.4 L697.3,1625.2 L698.1,1625.1 L698.9,1625 L699.7,1625 L700.5,1625.1 L701.3,1625.2 L702.1,1625.4 L702.9,1625.6 L703.7,1625.8 L704.5,1626 L705.3,1626.2 L706.1,1626.3 L706.9,1626.3 L707.7,1625.4 L708.5,1623.5 L709.3,1620.7 L710.1,1617.4 L710.9,1613.9 L711.7,1610.5 L712.5,1607.1 L713.3,1602.8 L714.1,1597.9 L714.9,1592.7 L715.7,1587.9 L716.5,1583.7 L717.3,1580.6 L718.1,1579.2 L718.9,1579.2 L719.7,1579.8 L720.5,1580.7 L721.3,1581.7 L722.1,1583.3 L722.9,1585.4 L723.7,1588.1 L724.5,1591.2 L726,1598.2" fill="none" stroke="#86f2f2" stroke-width="1.6" stroke-linejoin="round"/>
<text x="107.1" y="1328" font-size="17.5" text-anchor="start" fill="#1a1a1a" font-weight="normal" textLength="63" lengthAdjust="spacingAndGlyphs" >60S40C</text>
<text x="170.6" y="1331" font-size="11.5" text-anchor="start" fill="#333" font-weight="normal" textLength="23.6" lengthAdjust="spacingAndGlyphs" >CME</text>
<text x="194.6" y="1328" font-size="17.5" text-anchor="start" fill="#1a1a1a" font-weight="normal" textLength="24.5" lengthAdjust="spacingAndGlyphs" >-CL</text>
<text x="107.1" y="1390.3" font-size="17.5" text-anchor="start" fill="#1a1a1a" font-weight="normal" textLength="63" lengthAdjust="spacingAndGlyphs" >70S30C</text>
<text x="170.6" y="1393.3" font-size="11.5" text-anchor="start" fill="#333" font-weight="normal" textLength="23.6" lengthAdjust="spacingAndGlyphs" >CME</text>
<text x="194.6" y="1390.3" font-size="17.5" text-anchor="start" fill="#1a1a1a" font-weight="normal" textLength="24.5" lengthAdjust="spacingAndGlyphs" >-CL</text>
<text x="107.1" y="1452.6" font-size="17.5" text-anchor="start" fill="#1a1a1a" font-weight="normal" textLength="63" lengthAdjust="spacingAndGlyphs" >80S20C</text>
<text x="170.6" y="1455.6" font-size="11.5" text-anchor="start" fill="#333" font-weight="normal" textLength="23.6" lengthAdjust="spacingAndGlyphs" >CME</text>
<text x="194.6" y="1452.6" font-size="17.5" text-anchor="start" fill="#1a1a1a" font-weight="normal" textLength="24.5" lengthAdjust="spacingAndGlyphs" >-CL</text>
<text x="107.1" y="1514.5" font-size="17.5" text-anchor="start" fill="#1a1a1a" font-weight="normal" textLength="63" lengthAdjust="spacingAndGlyphs" >90S10C</text>
<text x="170.6" y="1517.5" font-size="11.5" text-anchor="start" fill="#333" font-weight="normal" textLength="23.6" lengthAdjust="spacingAndGlyphs" >CME</text>
<text x="194.6" y="1514.5" font-size="17.5" text-anchor="start" fill="#1a1a1a" font-weight="normal" textLength="24.5" lengthAdjust="spacingAndGlyphs" >-CL</text>
<text x="107.1" y="1576.8" font-size="17.5" text-anchor="start" fill="#1a1a1a" font-weight="normal" textLength="52.5" lengthAdjust="spacingAndGlyphs" >95S5C</text>
<text x="160.1" y="1579.8" font-size="11.5" text-anchor="start" fill="#333" font-weight="normal" textLength="23.6" lengthAdjust="spacingAndGlyphs" >CME</text>
<text x="184.1" y="1576.8" font-size="17.5" text-anchor="start" fill="#1a1a1a" font-weight="normal" textLength="24.5" lengthAdjust="spacingAndGlyphs" >-CL</text>
<text x="107.1" y="1638.9" font-size="17.5" text-anchor="start" fill="#1a1a1a" font-weight="normal" textLength="66.5" lengthAdjust="spacingAndGlyphs" >100S-CL</text>
<path d="M161.4,1344.7 V1353.3 H250.2 V1344.7" fill="none" stroke="#111" stroke-width="1.8"/>
<text x="184.7" y="1369.7" font-size="14.5" text-anchor="start" fill="#333" font-weight="normal" textLength="43" lengthAdjust="spacingAndGlyphs" >v(O-H)</text>
<text x="235.5" y="1315.3" font-size="14.5" text-anchor="start" fill="#333" font-weight="normal" >v</text>
<text x="243" y="1317.5" font-size="7.5" text-anchor="start" fill="#333" font-weight="normal" >as</text>
<text x="251" y="1315.3" font-size="14.5" text-anchor="start" fill="#333" font-weight="normal" textLength="26.8" lengthAdjust="spacingAndGlyphs" >(CH</text>
<text x="278" y="1317.5" font-size="8" text-anchor="start" fill="#333" font-weight="normal" >2</text>
<text x="282.5" y="1315.3" font-size="14.5" text-anchor="start" fill="#333" font-weight="normal" >)</text>
<text x="287.2" y="1297.2" font-size="14.5" text-anchor="start" fill="#333" font-weight="normal" >v</text>
<text x="294.5" y="1299.5" font-size="7.5" text-anchor="start" fill="#333" font-weight="normal" >s</text>
<text x="299" y="1297.2" font-size="14.5" text-anchor="start" fill="#333" font-weight="normal" textLength="26.8" lengthAdjust="spacingAndGlyphs" >(CH</text>
<text x="326" y="1299.5" font-size="8" text-anchor="start" fill="#333" font-weight="normal" >2</text>
<text x="330.5" y="1297.2" font-size="14.5" text-anchor="start" fill="#333" font-weight="normal" >)</text>
<text x="469.5" y="1304.7" font-size="12.5" text-anchor="start" fill="#333" font-weight="normal" textLength="37" lengthAdjust="spacingAndGlyphs" >v(C=O)</text>
<text x="495" y="1270.8" font-size="15.5" text-anchor="start" fill="#111" font-weight="normal" textLength="44.5" lengthAdjust="spacingAndGlyphs" >v(COO</text>
<text x="539.8" y="1263" font-size="10" text-anchor="start" fill="#111" font-weight="normal" >-</text>
<text x="542.8" y="1270.8" font-size="15.5" text-anchor="start" fill="#111" font-weight="normal" >)</text>
<line x1="521.8" y1="1283.5" x2="521.8" y2="1306" stroke="#000" stroke-width="1.6"/>
<path d="M516.8,1304 L526.8,1304 L521.8,1315.6 Z" fill="#000"/>
<text x="532" y="1294.5" font-size="12.5" text-anchor="start" fill="#333" font-weight="normal" textLength="30" lengthAdjust="spacingAndGlyphs" >&#948;(CH</text>
<text x="562.3" y="1296.5" font-size="8" text-anchor="start" fill="#333" font-weight="normal" >2</text>
<text x="566" y="1294.5" font-size="12.5" text-anchor="start" fill="#333" font-weight="normal" >)</text>
<path d="M537.1,1314.2 V1305.7 H564.4 V1314.2" fill="none" stroke="#111" stroke-width="1.6"/>
<text x="535.9" y="1229.2" font-size="12.5" text-anchor="start" fill="#333" font-weight="normal" textLength="67.6" lengthAdjust="spacingAndGlyphs" >v(Si-O-C) &amp; v</text>
<text x="603.8" y="1231.2" font-size="7" text-anchor="start" fill="#333" font-weight="normal" textLength="7" lengthAdjust="spacingAndGlyphs" >as</text>
<text x="611.3" y="1229.2" font-size="12.5" text-anchor="start" fill="#333" font-weight="normal" textLength="50.9" lengthAdjust="spacingAndGlyphs" >(Si-O-Si)</text>
<text x="630.8" y="1252.9" font-size="12.5" text-anchor="start" fill="#333" font-weight="normal" textLength="46.7" lengthAdjust="spacingAndGlyphs" >v(Si-OH)</text>
<text x="652.7" y="1271.6" font-size="12.5" text-anchor="start" fill="#333" font-weight="normal" >v</text>
<text x="659" y="1273.5" font-size="7" text-anchor="start" fill="#333" font-weight="normal" >s</text>
<text x="662.5" y="1271.6" font-size="12.5" text-anchor="start" fill="#333" font-weight="normal" textLength="43.8" lengthAdjust="spacingAndGlyphs" >(Si-O-Si)</text>
<line x1="683.9" y1="1283.5" x2="667" y2="1297.7" stroke="#000" stroke-width="1.6"/>
<path d="M659.6,1304 L663.2,1293.3 L670.3,1301.7 Z" fill="#000"/>
<text x="764.5" y="32.8" font-size="38.5" text-anchor="start" fill="#000" font-weight="bold" >D</text>
<rect x="762.3" y="81.2" width="663.2" height="1552.6" fill="none" stroke="#000" stroke-width="2"/>
<line x1="762.3" y1="443.2" x2="1425.5" y2="443.2" stroke="#000" stroke-width="2.2"/>
<line x1="762.3" y1="835.9" x2="1425.5" y2="835.9" stroke="#000" stroke-width="2.2"/>
<line x1="762.3" y1="1235.3" x2="1425.5" y2="1235.3" stroke="#000" stroke-width="2.2"/>
<rect x="898.6" y="80.2" width="29" height="1552.6" fill="#fcf4d4" fill-opacity="0.93"/>
<rect x="943.1" y="80.2" width="29" height="1552.6" fill="#fcf4d4" fill-opacity="0.93"/>
<rect x="1031.8" y="84.4" width="29" height="1548.4" fill="#e4eaf5" fill-opacity="0.93"/>
<rect x="1086.8" y="84.4" width="28.5" height="1548.4" fill="#e4eaf5" fill-opacity="0.93"/>
<rect x="1137.2" y="80.2" width="28.5" height="1552.6" fill="#e4eaf5" fill-opacity="0.93"/>
<rect x="1192.5" y="84.4" width="28.6" height="1548.4" fill="#e4eaf5" fill-opacity="0.93"/>
<path d="M851.3,442.3 L852.3,442.2 L853.3,442.2 L854.3,442.2 L855.3,442.2 L856.3,442.2 L857.3,442.1 L858.3,442.1 L859.3,442.1 L860.3,442.1 L861.3,442 L862.3,442 L863.3,442 L864.3,441.9 L865.3,441.9 L866.3,441.8 L867.3,441.7 L868.3,441.6 L869.3,441.5 L870.3,441.4 L871.3,441.3 L872.3,441.1 L873.3,440.9 L874.3,440.7 L875.3,440.4 L876.3,440.1 L877.3,439.7 L878.3,439.3 L879.3,438.8 L880.3,438.2 L881.3,437.5 L882.3,436.7 L883.3,435.7 L884.3,434.6 L885.3,433.4 L886.3,432 L887.3,430.5 L888.3,428.7 L889.3,426.8 L890.3,424.7 L891.3,422.3 L892.3,419.8 L893.3,417.1 L894.3,414.2 L895.3,411.1 L896.3,407.8 L897.3,404.4 L898.3,400.9 L899.3,397.3 L900.3,393.7 L901.3,390 L902.3,386.4 L903.3,382.9 L904.3,379.5 L905.3,376.2 L906.3,373.2 L907.3,370.4 L908.3,368 L909.3,365.9 L910.3,364.1 L911.3,362.8 L912.3,361.9 L913.3,361.5 L914.3,361.5 L915.3,361.9 L916.3,362.8 L917.3,364.1 L918.3,365.9 L919.3,368 L920.3,370.4 L921.3,373.2 L922.3,376.2 L923.3,379.5 L924.3,382.9 L925.3,386.4 L926.3,390 L927.3,393.7 L928.3,397.3 L929.3,400.9 L930.3,404.4 L931.3,407.8 L932.3,411.1 L933.3,414.2 L934.3,417.1 L935.3,419.8 L936.3,422.3 L937.3,424.7 L938.3,426.8 L939.3,428.7 L940.3,430.5 L941.3,432 L942.3,433.4 L943.3,434.6 L944.3,435.7 L945.3,436.7 L946.3,437.5 L947.3,438.2 L948.3,438.8 L949.3,439.3 L950.3,439.7 L951.3,440.1 L952.3,440.4 L953.3,440.7 L954.3,440.9 L955.3,441.1 L956.3,441.3 L957.3,441.4 L958.3,441.5 L959.3,441.6 L960.3,441.7 L961.3,441.8 L962.3,441.9 L963.3,441.9 L964.3,442 L965.3,442 L966.3,442 L967.3,442.1 L968.3,442.1 L969.3,442.1 L970.3,442.1 L971.3,442.2 L972.3,442.2 L973.3,442.2 L974.3,442.2 L975.3,442.2 L976.3,442.3" fill="none" stroke="#4a72c4" stroke-width="1.3"/>
<path d="M874.3,442.3 L875.3,442.2 L876.3,442.2 L877.3,442.2 L878.3,442.2 L879.3,442.2 L880.3,442.1 L881.3,442.1 L882.3,442.1 L883.3,442.1 L884.3,442 L885.3,442 L886.3,442 L887.3,441.9 L888.3,441.9 L889.3,441.8 L890.3,441.8 L891.3,441.7 L892.3,441.7 L893.3,441.6 L894.3,441.6 L895.3,441.5 L896.3,441.4 L897.3,441.3 L898.3,441.2 L899.3,441.1 L900.3,441 L901.3,440.9 L902.3,440.8 L903.3,440.7 L904.3,440.5 L905.3,440.3 L906.3,440.1 L907.3,439.9 L908.3,439.7 L909.3,439.4 L910.3,439 L911.3,438.6 L912.3,438.2 L913.3,437.7 L914.3,437.1 L915.3,436.4 L916.3,435.6 L917.3,434.7 L918.3,433.6 L919.3,432.4 L920.3,431 L921.3,429.4 L922.3,427.5 L923.3,425.4 L924.3,423 L925.3,420.3 L926.3,417.2 L927.3,413.8 L928.3,410 L929.3,405.7 L930.3,401.1 L931.3,395.9 L932.3,390.3 L933.3,384.2 L934.3,377.6 L935.3,370.6 L936.3,363.1 L937.3,355.1 L938.3,346.7 L939.3,338 L940.3,328.9 L941.3,319.6 L942.3,310 L943.3,300.4 L944.3,290.7 L945.3,281.1 L946.3,271.6 L947.3,262.3 L948.3,253.5 L949.3,245 L950.3,237.2 L951.3,230 L952.3,223.5 L953.3,217.9 L954.3,213.2 L955.3,209.5 L956.3,206.8 L957.3,205.1 L958.3,204.6 L959.3,205.1 L960.3,206.8 L961.3,209.5 L962.3,213.2 L963.3,217.9 L964.3,223.5 L965.3,230 L966.3,237.2 L967.3,245 L968.3,253.5 L969.3,262.3 L970.3,271.6 L971.3,281.1 L972.3,290.7 L973.3,300.4 L974.3,310 L975.3,319.6 L976.3,328.9 L977.3,338 L978.3,346.7 L979.3,355.1 L980.3,363.1 L981.3,370.6 L982.3,377.6 L983.3,384.2 L984.3,390.3 L985.3,395.9 L986.3,401.1 L987.3,405.7 L988.3,410 L989.3,413.8 L990.3,417.2 L991.3,420.3 L992.3,423 L993.3,425.4 L994.3,427.5 L995.3,429.4 L996.3,431 L997.3,432.4 L998.3,433.6 L999.3,434.7 L1000.3,435.6 L1001.3,436.4 L1002.3,437.1 L1003.3,437.7 L1004.3,438.2 L1005.3,438.6 L1006.3,439 L1007.3,439.4 L1008.3,439.7 L1009.3,439.9 L1010.3,440.1 L1011.3,440.3 L1012.3,440.5 L1013.3,440.7 L1014.3,440.8 L1015.3,440.9 L1016.3,441 L1017.3,441.1 L1018.3,441.2 L1019.3,441.3 L1020.3,441.4 L1021.3,441.5 L1022.3,441.6 L1023.3,441.6 L1024.3,441.7 L1025.3,441.7 L1026.3,441.8 L1027.3,441.8 L1028.3,441.9 L1029.3,441.9 L1030.3,442 L1031.3,442 L1032.3,442 L1033.3,442.1 L1034.3,442.1 L1035.3,442.1 L1036.3,442.1 L1037.3,442.2 L1038.3,442.2 L1039.3,442.2 L1040.3,442.2 L1041.3,442.2 L1042.3,442.3" fill="none" stroke="#4a72c4" stroke-width="1.3"/>
<path d="M983.3,442.3 L984.3,442.2 L985.3,442.2 L986.3,442.2 L987.3,442.1 L988.3,442.1 L989.3,442 L990.3,442 L991.3,441.9 L992.3,441.8 L993.3,441.7 L994.3,441.6 L995.3,441.4 L996.3,441.3 L997.3,441.1 L998.3,440.9 L999.3,440.7 L1000.3,440.4 L1001.3,440.1 L1002.3,439.8 L1003.3,439.5 L1004.3,439.1 L1005.3,438.6 L1006.3,438.2 L1007.3,437.6 L1008.3,437.1 L1009.3,436.5 L1010.3,435.8 L1011.3,435 L1012.3,434.3 L1013.3,433.4 L1014.3,432.5 L1015.3,431.5 L1016.3,430.5 L1017.3,429.4 L1018.3,428.3 L1019.3,427.1 L1020.3,425.9 L1021.3,424.6 L1022.3,423.2 L1023.3,421.9 L1024.3,420.4 L1025.3,419 L1026.3,417.5 L1027.3,416.1 L1028.3,414.6 L1029.3,413.1 L1030.3,411.6 L1031.3,410.1 L1032.3,408.7 L1033.3,407.3 L1034.3,406 L1035.3,404.7 L1036.3,403.5 L1037.3,402.4 L1038.3,401.3 L1039.3,400.4 L1040.3,399.6 L1041.3,398.8 L1042.3,398.2 L1043.3,397.7 L1044.3,397.3 L1045.3,397.1 L1046.3,397 L1047.3,397 L1048.3,397.2 L1049.3,397.5 L1050.3,397.9 L1051.3,398.4 L1052.3,399.1 L1053.3,399.9 L1054.3,400.8 L1055.3,401.8 L1056.3,402.8 L1057.3,404 L1058.3,405.2 L1059.3,406.5 L1060.3,407.9 L1061.3,409.3 L1062.3,410.7 L1063.3,412.2 L1064.3,413.7 L1065.3,415.2 L1066.3,416.6 L1067.3,418.1 L1068.3,419.6 L1069.3,421 L1070.3,422.4 L1071.3,423.8 L1072.3,425.1 L1073.3,426.4 L1074.3,427.6 L1075.3,428.8 L1076.3,429.9 L1077.3,430.9 L1078.3,431.9 L1079.3,432.9 L1080.3,433.8 L1081.3,434.6 L1082.3,435.3 L1083.3,436.1 L1084.3,436.7 L1085.3,437.3 L1086.3,437.9 L1087.3,438.4 L1088.3,438.8 L1089.3,439.2 L1090.3,439.6 L1091.3,439.9 L1092.3,440.3 L1093.3,440.5 L1094.3,440.8 L1095.3,441 L1096.3,441.2 L1097.3,441.3 L1098.3,441.5 L1099.3,441.6 L1100.3,441.7 L1101.3,441.8 L1102.3,441.9 L1103.3,442 L1104.3,442 L1105.3,442.1 L1106.3,442.2 L1107.3,442.2 L1108.3,442.2 L1109.3,442.3" fill="none" stroke="#4a72c4" stroke-width="1.3"/>
<path d="M965.3,442.3 L966.3,442.2 L967.3,442.2 L968.3,442.2 L969.3,442.2 L970.3,442.2 L971.3,442.2 L972.3,442.2 L973.3,442.2 L974.3,442.2 L975.3,442.2 L976.3,442.2 L977.3,442.2 L978.3,442.1 L979.3,442.1 L980.3,442.1 L981.3,442.1 L982.3,442.1 L983.3,442.1 L984.3,442.1 L985.3,442.1 L986.3,442 L987.3,442 L988.3,442 L989.3,442 L990.3,442 L991.3,442 L992.3,441.9 L993.3,441.9 L994.3,441.9 L995.3,441.9 L996.3,441.8 L997.3,441.8 L998.3,441.8 L999.3,441.8 L1000.3,441.7 L1001.3,441.7 L1002.3,441.6 L1003.3,441.6 L1004.3,441.6 L1005.3,441.5 L1006.3,441.5 L1007.3,441.4 L1008.3,441.3 L1009.3,441.3 L1010.3,441.2 L1011.3,441.1 L1012.3,441.1 L1013.3,441 L1014.3,440.9 L1015.3,440.8 L1016.3,440.6 L1017.3,440.5 L1018.3,440.4 L1019.3,440.2 L1020.3,440.1 L1021.3,439.9 L1022.3,439.7 L1023.3,439.5 L1024.3,439.3 L1025.3,439.1 L1026.3,438.8 L1027.3,438.6 L1028.3,438.3 L1029.3,438 L1030.3,437.6 L1031.3,437.3 L1032.3,436.9 L1033.3,436.5 L1034.3,436 L1035.3,435.5 L1036.3,435 L1037.3,434.5 L1038.3,433.9 L1039.3,433.3 L1040.3,432.6 L1041.3,431.9 L1042.3,431.2 L1043.3,430.4 L1044.3,429.6 L1045.3,428.7 L1046.3,427.8 L1047.3,426.8 L1048.3,425.8 L1049.3,424.7 L1050.3,423.6 L1051.3,422.4 L1052.3,421.2 L1053.3,419.9 L1054.3,418.6 L1055.3,417.2 L1056.3,415.8 L1057.3,414.3 L1058.3,412.7 L1059.3,411.1 L1060.3,409.5 L1061.3,407.8 L1062.3,406.1 L1063.3,404.3 L1064.3,402.5 L1065.3,400.6 L1066.3,398.7 L1067.3,396.8 L1068.3,394.9 L1069.3,392.9 L1070.3,390.9 L1071.3,388.9 L1072.3,386.8 L1073.3,384.8 L1074.3,382.8 L1075.3,380.7 L1076.3,378.7 L1077.3,376.7 L1078.3,374.7 L1079.3,372.7 L1080.3,370.8 L1081.3,368.9 L1082.3,367 L1083.3,365.2 L1084.3,363.4 L1085.3,361.7 L1086.3,360.1 L1087.3,358.5 L1088.3,357 L1089.3,355.6 L1090.3,354.2 L1091.3,353 L1092.3,351.9 L1093.3,350.8 L1094.3,349.9 L1095.3,349 L1096.3,348.3 L1097.3,347.7 L1098.3,347.2 L1099.3,346.8 L1100.3,346.6 L1101.3,346.4 L1102.3,346.4 L1103.3,346.5 L1104.3,346.7 L1105.3,347 L1106.3,347.5 L1107.3,348.1 L1108.3,348.7 L1109.3,349.5 L1110.3,350.4 L1111.3,351.4 L1112.3,352.5 L1113.3,353.7 L1114.3,355 L1115.3,356.4 L1116.3,357.9 L1117.3,359.4 L1118.3,361 L1119.3,362.7 L1120.3,364.5 L1121.3,366.3 L1122.3,368.1 L1123.3,370 L1124.3,371.9 L1125.3,373.9 L1126.3,375.9 L1127.3,377.9 L1128.3,379.9 L1129.3,382 L1130.3,384 L1131.3,386 L1132.3,388.1 L1133.3,390.1 L1134.3,392.1 L1135.3,394.1 L1136.3,396 L1137.3,398 L1138.3,399.9 L1139.3,401.7 L1140.3,403.6 L1141.3,405.4 L1142.3,407.1 L1143.3,408.8 L1144.3,410.5 L1145.3,412.1 L1146.3,413.7 L1147.3,415.2 L1148.3,416.6 L1149.3,418 L1150.3,419.4 L1151.3,420.7 L1152.3,421.9 L1153.3,423.1 L1154.3,424.3 L1155.3,425.4 L1156.3,426.4 L1157.3,427.4 L1158.3,428.3 L1159.3,429.2 L1160.3,430.1 L1161.3,430.9 L1162.3,431.6 L1163.3,432.3 L1164.3,433 L1165.3,433.6 L1166.3,434.2 L1167.3,434.8 L1168.3,435.3 L1169.3,435.8 L1170.3,436.3 L1171.3,436.7 L1172.3,437.1 L1173.3,437.5 L1174.3,437.8 L1175.3,438.2 L1176.3,438.5 L1177.3,438.7 L1178.3,439 L1179.3,439.2 L1180.3,439.5 L1181.3,439.7 L1182.3,439.8 L1183.3,440 L1184.3,440.2 L1185.3,440.3 L1186.3,440.5 L1187.3,440.6 L1188.3,440.7 L1189.3,440.8 L1190.3,440.9 L1191.3,441 L1192.3,441.1 L1193.3,441.2 L1194.3,441.3 L1195.3,441.3 L1196.3,441.4 L1197.3,441.4 L1198.3,441.5 L1199.3,441.5 L1200.3,441.6 L1201.3,441.6 L1202.3,441.7 L1203.3,441.7 L1204.3,441.7 L1205.3,441.8 L1206.3,441.8 L1207.3,441.8 L1208.3,441.9 L1209.3,441.9 L1210.3,441.9 L1211.3,441.9 L1212.3,441.9 L1213.3,442 L1214.3,442 L1215.3,442 L1216.3,442 L1217.3,442 L1218.3,442.1 L1219.3,442.1 L1220.3,442.1 L1221.3,442.1 L1222.3,442.1 L1223.3,442.1 L1224.3,442.1 L1225.3,442.1 L1226.3,442.1 L1227.3,442.2 L1228.3,442.2 L1229.3,442.2 L1230.3,442.2 L1231.3,442.2 L1232.3,442.2 L1233.3,442.2 L1234.3,442.2 L1235.3,442.2 L1236.3,442.2 L1237.3,442.2 L1238.3,442.3" fill="none" stroke="#4a72c4" stroke-width="1.3"/>
<path d="M1053.3,442.3 L1054.3,442.2 L1055.3,442.2 L1056.3,442.2 L1057.3,442.2 L1058.3,442.2 L1059.3,442.1 L1060.3,442.1 L1061.3,442.1 L1062.3,442 L1063.3,442 L1064.3,442 L1065.3,441.9 L1066.3,441.9 L1067.3,441.8 L1068.3,441.7 L1069.3,441.7 L1070.3,441.6 L1071.3,441.5 L1072.3,441.5 L1073.3,441.4 L1074.3,441.3 L1075.3,441.2 L1076.3,441.1 L1077.3,440.9 L1078.3,440.8 L1079.3,440.7 L1080.3,440.5 L1081.3,440.4 L1082.3,440.2 L1083.3,440 L1084.3,439.8 L1085.3,439.6 L1086.3,439.4 L1087.3,439.2 L1088.3,439 L1089.3,438.7 L1090.3,438.4 L1091.3,438.1 L1092.3,437.8 L1093.3,437.5 L1094.3,437.2 L1095.3,436.8 L1096.3,436.4 L1097.3,436 L1098.3,435.5 L1099.3,435.1 L1100.3,434.6 L1101.3,434.1 L1102.3,433.5 L1103.3,432.9 L1104.3,432.3 L1105.3,431.6 L1106.3,430.8 L1107.3,430 L1108.3,429.2 L1109.3,428.2 L1110.3,427.2 L1111.3,426.1 L1112.3,424.9 L1113.3,423.5 L1114.3,422.1 L1115.3,420.5 L1116.3,418.7 L1117.3,416.7 L1118.3,414.6 L1119.3,412.2 L1120.3,409.6 L1121.3,406.7 L1122.3,403.6 L1123.3,400.1 L1124.3,396.4 L1125.3,392.2 L1126.3,387.7 L1127.3,382.9 L1128.3,377.6 L1129.3,371.9 L1130.3,365.9 L1131.3,359.4 L1132.3,352.4 L1133.3,345.1 L1134.3,337.4 L1135.3,329.3 L1136.3,320.8 L1137.3,312.1 L1138.3,303 L1139.3,293.8 L1140.3,284.3 L1141.3,274.8 L1142.3,265.2 L1143.3,255.7 L1144.3,246.3 L1145.3,237 L1146.3,228.1 L1147.3,219.5 L1148.3,211.4 L1149.3,203.8 L1150.3,196.9 L1151.3,190.6 L1152.3,185.1 L1153.3,180.5 L1154.3,176.7 L1155.3,173.9 L1156.3,172 L1157.3,171.1 L1158.3,171.2 L1159.3,172.3 L1160.3,174.4 L1161.3,177.4 L1162.3,181.3 L1163.3,186.2 L1164.3,191.8 L1165.3,198.2 L1166.3,205.3 L1167.3,213 L1168.3,221.2 L1169.3,229.9 L1170.3,238.9 L1171.3,248.1 L1172.3,257.6 L1173.3,267.1 L1174.3,276.7 L1175.3,286.2 L1176.3,295.6 L1177.3,304.9 L1178.3,313.8 L1179.3,322.5 L1180.3,330.9 L1181.3,339 L1182.3,346.6 L1183.3,353.9 L1184.3,360.7 L1185.3,367.1 L1186.3,373.1 L1187.3,378.7 L1188.3,383.9 L1189.3,388.7 L1190.3,393.1 L1191.3,397.1 L1192.3,400.8 L1193.3,404.2 L1194.3,407.3 L1195.3,410.1 L1196.3,412.7 L1197.3,415 L1198.3,417.1 L1199.3,419 L1200.3,420.8 L1201.3,422.4 L1202.3,423.8 L1203.3,425.1 L1204.3,426.3 L1205.3,427.4 L1206.3,428.4 L1207.3,429.3 L1208.3,430.2 L1209.3,431 L1210.3,431.7 L1211.3,432.4 L1212.3,433 L1213.3,433.6 L1214.3,434.2 L1215.3,434.7 L1216.3,435.2 L1217.3,435.6 L1218.3,436.1 L1219.3,436.5 L1220.3,436.9 L1221.3,437.2 L1222.3,437.6 L1223.3,437.9 L1224.3,438.2 L1225.3,438.5 L1226.3,438.8 L1227.3,439 L1228.3,439.2 L1229.3,439.5 L1230.3,439.7 L1231.3,439.9 L1232.3,440.1 L1233.3,440.2 L1234.3,440.4 L1235.3,440.6 L1236.3,440.7 L1237.3,440.8 L1238.3,441 L1239.3,441.1 L1240.3,441.2 L1241.3,441.3 L1242.3,441.4 L1243.3,441.5 L1244.3,441.6 L1245.3,441.6 L1246.3,441.7 L1247.3,441.8 L1248.3,441.8 L1249.3,441.9 L1250.3,441.9 L1251.3,442 L1252.3,442 L1253.3,442 L1254.3,442.1 L1255.3,442.1 L1256.3,442.1 L1257.3,442.2 L1258.3,442.2 L1259.3,442.2 L1260.3,442.2 L1261.3,442.2 L1262.3,442.3" fill="none" stroke="#4a72c4" stroke-width="1.3"/>
<path d="M1108.3,442.3 L1109.3,442.2 L1110.3,442.2 L1111.3,442.2 L1112.3,442.2 L1113.3,442.2 L1114.3,442.1 L1115.3,442.1 L1116.3,442.1 L1117.3,442 L1118.3,442 L1119.3,441.9 L1120.3,441.9 L1121.3,441.8 L1122.3,441.8 L1123.3,441.7 L1124.3,441.6 L1125.3,441.5 L1126.3,441.4 L1127.3,441.3 L1128.3,441.2 L1129.3,441.1 L1130.3,441 L1131.3,440.9 L1132.3,440.7 L1133.3,440.6 L1134.3,440.4 L1135.3,440.2 L1136.3,440 L1137.3,439.8 L1138.3,439.6 L1139.3,439.4 L1140.3,439.1 L1141.3,438.8 L1142.3,438.5 L1143.3,438.2 L1144.3,437.9 L1145.3,437.5 L1146.3,437.2 L1147.3,436.8 L1148.3,436.3 L1149.3,435.9 L1150.3,435.4 L1151.3,434.9 L1152.3,434.3 L1153.3,433.8 L1154.3,433.1 L1155.3,432.5 L1156.3,431.8 L1157.3,431 L1158.3,430.2 L1159.3,429.3 L1160.3,428.4 L1161.3,427.4 L1162.3,426.2 L1163.3,425 L1164.3,423.7 L1165.3,422.2 L1166.3,420.6 L1167.3,418.9 L1168.3,416.9 L1169.3,414.8 L1170.3,412.4 L1171.3,409.8 L1172.3,406.9 L1173.3,403.7 L1174.3,400.2 L1175.3,396.3 L1176.3,392 L1177.3,387.4 L1178.3,382.3 L1179.3,376.7 L1180.3,370.7 L1181.3,364.2 L1182.3,357.2 L1183.3,349.7 L1184.3,341.8 L1185.3,333.3 L1186.3,324.5 L1187.3,315.2 L1188.3,305.5 L1189.3,295.5 L1190.3,285.2 L1191.3,274.8 L1192.3,264.2 L1193.3,253.6 L1194.3,243 L1195.3,232.7 L1196.3,222.6 L1197.3,212.9 L1198.3,203.7 L1199.3,195 L1200.3,187.1 L1201.3,180 L1202.3,173.8 L1203.3,168.5 L1204.3,164.3 L1205.3,161.1 L1206.3,159.1 L1207.3,158.3 L1208.3,158.7 L1209.3,160.2 L1210.3,162.9 L1211.3,166.7 L1212.3,171.5 L1213.3,177.4 L1214.3,184.2 L1215.3,191.8 L1216.3,200.1 L1217.3,209.1 L1218.3,218.7 L1219.3,228.6 L1220.3,238.9 L1221.3,249.4 L1222.3,259.9 L1223.3,270.5 L1224.3,281 L1225.3,291.4 L1226.3,301.5 L1227.3,311.3 L1228.3,320.8 L1229.3,329.8 L1230.3,338.4 L1231.3,346.6 L1232.3,354.3 L1233.3,361.5 L1234.3,368.2 L1235.3,374.4 L1236.3,380.1 L1237.3,385.4 L1238.3,390.2 L1239.3,394.6 L1240.3,398.7 L1241.3,402.3 L1242.3,405.7 L1243.3,408.7 L1244.3,411.4 L1245.3,413.9 L1246.3,416.1 L1247.3,418.1 L1248.3,419.9 L1249.3,421.6 L1250.3,423.1 L1251.3,424.5 L1252.3,425.8 L1253.3,426.9 L1254.3,428 L1255.3,429 L1256.3,429.9 L1257.3,430.7 L1258.3,431.5 L1259.3,432.2 L1260.3,432.9 L1261.3,433.5 L1262.3,434.1 L1263.3,434.7 L1264.3,435.2 L1265.3,435.7 L1266.3,436.2 L1267.3,436.6 L1268.3,437 L1269.3,437.4 L1270.3,437.7 L1271.3,438.1 L1272.3,438.4 L1273.3,438.7 L1274.3,439 L1275.3,439.3 L1276.3,439.5 L1277.3,439.7 L1278.3,439.9 L1279.3,440.1 L1280.3,440.3 L1281.3,440.5 L1282.3,440.7 L1283.3,440.8 L1284.3,441 L1285.3,441.1 L1286.3,441.2 L1287.3,441.3 L1288.3,441.4 L1289.3,441.5 L1290.3,441.6 L1291.3,441.7 L1292.3,441.7 L1293.3,441.8 L1294.3,441.9 L1295.3,441.9 L1296.3,442 L1297.3,442 L1298.3,442 L1299.3,442.1 L1300.3,442.1 L1301.3,442.1 L1302.3,442.2 L1303.3,442.2 L1304.3,442.2 L1305.3,442.2 L1306.3,442.3" fill="none" stroke="#4a72c4" stroke-width="1.3"/>
<line x1="763.3" y1="442.4" x2="1424.5" y2="442.4" stroke="#2c4a9a" stroke-width="1.6"/>
<path d="M763.3,421.6 L764.3,421.6 L765.3,421.6 L766.3,421.5 L767.3,421.5 L768.3,421.5 L769.3,421.5 L770.3,421.5 L771.3,421.5 L772.3,421.4 L773.3,421.4 L774.3,421.4 L775.3,421.4 L776.3,421.4 L777.3,421.4 L778.3,421.4 L779.3,421.4 L780.3,421.4 L781.3,421.3 L782.3,421.3 L783.3,421.3 L784.3,421.3 L785.3,421.3 L786.3,421.3 L787.3,421.3 L788.3,421.3 L789.3,421.3 L790.3,421.3 L791.3,421.2 L792.3,421.2 L793.3,421.2 L794.3,421.2 L795.3,421.2 L796.3,421.2 L797.3,421.2 L798.3,421.2 L799.3,421.2 L800.3,421.2 L801.3,421.2 L802.3,421.2 L803.3,421.2 L804.3,421.2 L805.3,421.1 L806.3,421.1 L807.3,421.1 L808.3,421.1 L809.3,421.1 L810.3,421.1 L811.3,421.1 L812.3,421.1 L813.3,421.1 L814.3,421.1 L815.3,421.1 L816.3,421.1 L817.3,421.1 L818.3,421.1 L819.3,421.1 L820.3,421.1 L821.3,421.1 L822.3,421.1 L823.3,421.1 L824.3,421.1 L825.3,421.1 L826.3,421.1 L827.3,421.1 L828.3,421.1 L829.3,421.1 L830.3,421.1 L831.3,421 L832.3,421 L833.3,421 L834.3,421 L835.3,421 L836.3,421 L837.3,421 L838.3,421 L839.3,421 L840.3,421 L841.3,421 L842.3,421 L843.3,421 L844.3,421 L845.3,421 L846.3,421 L847.3,420.9 L848.3,420.9 L849.3,420.9 L850.3,420.9 L851.3,420.9 L852.3,420.9 L853.3,420.9 L854.3,420.8 L855.3,420.8 L856.3,420.8 L857.3,420.8 L858.3,420.8 L859.3,420.7 L860.3,420.7 L861.3,420.7 L862.3,420.6 L863.3,420.6 L864.3,420.5 L865.3,420.5 L866.3,420.4 L867.3,420.3 L868.3,420.2 L869.3,420.1 L870.3,420 L871.3,419.9 L872.3,419.7 L873.3,419.5 L874.3,419.3 L875.3,419 L876.3,418.7 L877.3,418.3 L878.3,417.8 L879.3,417.3 L880.3,416.7 L881.3,415.9 L882.3,415.1 L883.3,414.1 L884.3,413 L885.3,411.8 L886.3,410.4 L887.3,408.8 L888.3,407 L889.3,405.1 L890.3,402.9 L891.3,400.5 L892.3,398 L893.3,395.2 L894.3,392.2 L895.3,389.1 L896.3,385.8 L897.3,382.3 L898.3,378.8 L899.3,375.1 L900.3,371.4 L901.3,367.6 L902.3,363.9 L903.3,360.3 L904.3,356.7 L905.3,353.3 L906.3,350.1 L907.3,347.2 L908.3,344.5 L909.3,342.1 L910.3,340.1 L911.3,338.4 L912.3,337.1 L913.3,336.2 L914.3,335.6 L915.3,335.5 L916.3,335.8 L917.3,336.6 L918.3,337.7 L919.3,339.2 L920.3,340.9 L921.3,342.7 L922.3,344.5 L923.3,346.3 L924.3,347.9 L925.3,349.3 L926.3,350.2 L927.3,350.7 L928.3,350.6 L929.3,350 L930.3,348.7 L931.3,346.8 L932.3,344.3 L933.3,341.1 L934.3,337.2 L935.3,332.5 L936.3,327.2 L937.3,321.2 L938.3,314.6 L939.3,307.4 L940.3,299.7 L941.3,291.5 L942.3,282.9 L943.3,274.1 L944.3,265 L945.3,255.9 L946.3,246.8 L947.3,237.9 L948.3,229.3 L949.3,221 L950.3,213.2 L951.3,206.1 L952.3,199.7 L953.3,194.1 L954.3,189.4 L955.3,185.7 L956.3,183.1 L957.3,181.5 L958.3,181.1 L959.3,181.7 L960.3,183.4 L961.3,186.2 L962.3,190 L963.3,194.7 L964.3,200.4 L965.3,206.8 L966.3,214.1 L967.3,221.9 L968.3,230.4 L969.3,239.3 L970.3,248.5 L971.3,258 L972.3,267.7 L973.3,277.4 L974.3,287 L975.3,296.5 L976.3,305.9 L977.3,314.9 L978.3,323.7 L979.3,332 L980.3,340 L981.3,347.5 L982.3,354.5 L983.3,361.1 L984.3,367.1 L985.3,372.7 L986.3,377.8 L987.3,382.4 L988.3,386.6 L989.3,390.3 L990.3,393.7 L991.3,396.7 L992.3,399.3 L993.3,401.5 L994.3,403.5 L995.3,405.2 L996.3,406.6 L997.3,407.9 L998.3,408.9 L999.3,409.7 L1000.3,410.3 L1001.3,410.8 L1002.3,411.1 L1003.3,411.3 L1004.3,411.3 L1005.3,411.2 L1006.3,411 L1007.3,410.7 L1008.3,410.3 L1009.3,409.7 L1010.3,409.1 L1011.3,408.4 L1012.3,407.6 L1013.3,406.7 L1014.3,405.7 L1015.3,404.6 L1016.3,403.4 L1017.3,402.1 L1018.3,400.8 L1019.3,399.4 L1020.3,397.9 L1021.3,396.3 L1022.3,394.7 L1023.3,393 L1024.3,391.3 L1025.3,389.5 L1026.3,387.6 L1027.3,385.8 L1028.3,383.9 L1029.3,382 L1030.3,380 L1031.3,378.1 L1032.3,376.2 L1033.3,374.2 L1034.3,372.3 L1035.3,370.4 L1036.3,368.5 L1037.3,366.6 L1038.3,364.8 L1039.3,363 L1040.3,361.3 L1041.3,359.7 L1042.3,358.1 L1043.3,356.6 L1044.3,355.2 L1045.3,353.9 L1046.3,352.6 L1047.3,351.5 L1048.3,350.4 L1049.3,349.4 L1050.3,348.5 L1051.3,347.7 L1052.3,347 L1053.3,346.3 L1054.3,345.7 L1055.3,345.2 L1056.3,344.7 L1057.3,344.3 L1058.3,343.9 L1059.3,343.6 L1060.3,343.3 L1061.3,343 L1062.3,342.7 L1063.3,342.3 L1064.3,342 L1065.3,341.7 L1066.3,341.3 L1067.3,340.8 L1068.3,340.4 L1069.3,339.9 L1070.3,339.3 L1071.3,338.6 L1072.3,338 L1073.3,337.2 L1074.3,336.4 L1075.3,335.5 L1076.3,334.6 L1077.3,333.6 L1078.3,332.6 L1079.3,331.5 L1080.3,330.3 L1081.3,329.1 L1082.3,327.9 L1083.3,326.7 L1084.3,325.4 L1085.3,324.1 L1086.3,322.8 L1087.3,321.5 L1088.3,320.2 L1089.3,318.9 L1090.3,317.7 L1091.3,316.4 L1092.3,315.2 L1093.3,314.1 L1094.3,313 L1095.3,311.9 L1096.3,310.9 L1097.3,310 L1098.3,309.1 L1099.3,308.3 L1100.3,307.6 L1101.3,307 L1102.3,306.4 L1103.3,305.9 L1104.3,305.4 L1105.3,305.1 L1106.3,304.7 L1107.3,304.5 L1108.3,304.3 L1109.3,304.1 L1110.3,303.9 L1111.3,303.8 L1112.3,303.6 L1113.3,303.5 L1114.3,303.3 L1115.3,303 L1116.3,302.7 L1117.3,302.4 L1118.3,301.9 L1119.3,301.4 L1120.3,300.7 L1121.3,299.8 L1122.3,298.7 L1123.3,297.3 L1124.3,295.7 L1125.3,293.8 L1126.3,291.6 L1127.3,289.1 L1128.3,286.1 L1129.3,282.8 L1130.3,279 L1131.3,274.9 L1132.3,270.3 L1133.3,265.3 L1134.3,259.9 L1135.3,254 L1136.3,247.8 L1137.3,241.3 L1138.3,234.4 L1139.3,227.2 L1140.3,219.8 L1141.3,212.2 L1142.3,204.6 L1143.3,196.8 L1144.3,189.2 L1145.3,181.6 L1146.3,174.2 L1147.3,167.1 L1148.3,160.4 L1149.3,154 L1150.3,148.2 L1151.3,143 L1152.3,138.5 L1153.3,134.6 L1154.3,131.5 L1155.3,129.2 L1156.3,127.7 L1157.3,127.1 L1158.3,127.3 L1159.3,128.3 L1160.3,130 L1161.3,132.4 L1162.3,135.4 L1163.3,139.1 L1164.3,143.4 L1165.3,148.3 L1166.3,153.5 L1167.3,159.2 L1168.3,165.1 L1169.3,171.2 L1170.3,177.3 L1171.3,183.5 L1172.3,189.6 L1173.3,195.5 L1174.3,201.1 L1175.3,206.3 L1176.3,211.1 L1177.3,215.3 L1178.3,219 L1179.3,222 L1180.3,224.3 L1181.3,226 L1182.3,226.8 L1183.3,226.8 L1184.3,225.8 L1185.3,224 L1186.3,221.3 L1187.3,217.8 L1188.3,213.5 L1189.3,208.5 L1190.3,202.9 L1191.3,196.7 L1192.3,190 L1193.3,183 L1194.3,175.8 L1195.3,168.4 L1196.3,161.1 L1197.3,153.9 L1198.3,147 L1199.3,140.5 L1200.3,134.5 L1201.3,129.2 L1202.3,124.6 L1203.3,120.8 L1204.3,118 L1205.3,116.1 L1206.3,115.3 L1207.3,115.6 L1208.3,117 L1209.3,119.5 L1210.3,123.1 L1211.3,127.8 L1212.3,133.6 L1213.3,140.3 L1214.3,147.9 L1215.3,156.3 L1216.3,165.4 L1217.3,175.2 L1218.3,185.4 L1219.3,196.1 L1220.3,207.1 L1221.3,218.2 L1222.3,229.5 L1223.3,240.7 L1224.3,251.9 L1225.3,262.9 L1226.3,273.6 L1227.3,284 L1228.3,294 L1229.3,303.6 L1230.3,312.8 L1231.3,321.4 L1232.3,329.6 L1233.3,337.3 L1234.3,344.5 L1235.3,351.1 L1236.3,357.3 L1237.3,363 L1238.3,368.2 L1239.3,373 L1240.3,377.4 L1241.3,381.4 L1242.3,385.1 L1243.3,388.4 L1244.3,391.4 L1245.3,394.1 L1246.3,396.6 L1247.3,398.8 L1248.3,400.9 L1249.3,402.7 L1250.3,404.4 L1251.3,405.9 L1252.3,407.2 L1253.3,408.4 L1254.3,409.5 L1255.3,410.5 L1256.3,411.3 L1257.3,412.1 L1258.3,412.7 L1259.3,413.2 L1260.3,413.7 L1261.3,414.1 L1262.3,414.4 L1263.3,414.7 L1264.3,414.9 L1265.3,415.1 L1266.3,415.3 L1267.3,415.4 L1268.3,415.5 L1269.3,415.6 L1270.3,415.6 L1271.3,415.7 L1272.3,415.7 L1273.3,415.8 L1274.3,415.9 L1275.3,416 L1276.3,416.1 L1277.3,416.2 L1278.3,416.4 L1279.3,416.6 L1280.3,416.8 L1281.3,417 L1282.3,417.2 L1283.3,417.3 L1284.3,417.5 L1285.3,417.6 L1286.3,417.7 L1287.3,417.9 L1288.3,418 L1289.3,418.1 L1290.3,418.2 L1291.3,418.3 L1292.3,418.4 L1293.3,418.4 L1294.3,418.5 L1295.3,418.6 L1296.3,418.7 L1297.3,418.7 L1298.3,418.8 L1299.3,418.9 L1300.3,418.9 L1301.3,419 L1302.3,419 L1303.3,419.1 L1304.3,419.1 L1305.3,419.2 L1306.3,419.2 L1307.3,419.3 L1308.3,419.3 L1309.3,419.4 L1310.3,419.4 L1311.3,419.4 L1312.3,419.5 L1313.3,419.5 L1314.3,419.6 L1315.3,419.6 L1316.3,419.6 L1317.3,419.7 L1318.3,419.7 L1319.3,419.7 L1320.3,419.8 L1321.3,419.8 L1322.3,419.9 L1323.3,419.9 L1324.3,419.9 L1325.3,419.9 L1326.3,420 L1327.3,420 L1328.3,420 L1329.3,420.1 L1330.3,420.1 L1331.3,420.1 L1332.3,420.2 L1333.3,420.2 L1334.3,420.2 L1335.3,420.2 L1336.3,420.3 L1337.3,420.3 L1338.3,420.3 L1339.3,420.3 L1340.3,420.3 L1341.3,420.4 L1342.3,420.4 L1343.3,420.4 L1344.3,420.4 L1345.3,420.5 L1346.3,420.5 L1347.3,420.5 L1348.3,420.5 L1349.3,420.5 L1350.3,420.6 L1351.3,420.6 L1352.3,420.6 L1353.3,420.6 L1354.3,420.6 L1355.3,420.7 L1356.3,420.7 L1357.3,420.7 L1358.3,420.7 L1359.3,420.7 L1360.3,420.8 L1361.3,420.8 L1362.3,420.8 L1363.3,420.8 L1364.3,420.8 L1365.3,420.9 L1366.3,420.9 L1367.3,420.9 L1368.3,420.9 L1369.3,421 L1370.3,421 L1371.3,421 L1372.3,421 L1373.3,421 L1374.3,421.1 L1375.3,421.1 L1376.3,421.1 L1377.3,421.1 L1378.3,421.1 L1379.3,421.2 L1380.3,421.2 L1381.3,421.2 L1382.3,421.2 L1383.3,421.2 L1384.3,421.3 L1385.3,421.3 L1386.3,421.3 L1387.3,421.3 L1388.3,421.3 L1389.3,421.3 L1390.3,421.4 L1391.3,421.4 L1392.3,421.4 L1393.3,421.4 L1394.3,421.4 L1395.3,421.5 L1396.3,421.5 L1397.3,421.5 L1398.3,421.5 L1399.3,421.5 L1400.3,421.6 L1401.3,421.6 L1402.3,421.6 L1403.3,421.6 L1404.3,421.6 L1405.3,421.7 L1406.3,421.7 L1407.3,421.7 L1408.3,421.7 L1409.3,421.7 L1410.3,421.7 L1411.3,421.8 L1412.3,421.8 L1413.3,421.8 L1414.3,421.8 L1415.3,421.8 L1416.3,421.9 L1417.3,421.9 L1418.3,421.9 L1419.3,421.9 L1420.3,421.9 L1421.3,421.9 L1422.3,422 L1423.3,422 L1424.3,422" fill="none" stroke="#e0605a" stroke-width="1.5"/>
<path d="M763.3,388.3 L764.3,390.9 L765.3,393.3 L766.3,395.6 L767.3,397.8 L768.3,399.8 L769.3,401.6 L770.3,403.2 L771.3,404.6 L772.3,405.8 L773.3,406.7 L774.3,407.4 L775.3,407.7 L776.3,407.8 L777.3,407.5 L778.3,407 L779.3,406.3 L780.3,405.4 L781.3,404.3 L782.3,403 L783.3,401.7 L784.3,400.2 L785.3,398.7 L786.3,397.1 L787.3,395.6 L788.3,394 L789.3,392.5 L790.3,391.1 L791.3,389.8 L792.3,388.6 L793.3,387.6 L794.3,386.8 L795.3,386.2 L796.3,385.8 L797.3,385.7 L798.3,385.9 L799.3,386.2 L800.3,386.8 L801.3,387.5 L802.3,388.4 L803.3,389.4 L804.3,390.5 L805.3,391.6 L806.3,392.7 L807.3,393.9 L808.3,395 L809.3,396.1 L810.3,397.1 L811.3,398 L812.3,398.7 L813.3,399.4 L814.3,399.8 L815.3,400 L816.3,400 L817.3,399.7 L818.3,399.3 L819.3,398.8 L820.3,398.1 L821.3,397.3 L822.3,396.4 L823.3,395.4 L824.3,394.3 L825.3,393.2 L826.3,392 L827.3,390.9 L828.3,389.7 L829.3,388.6 L830.3,387.5 L831.3,386.5 L832.3,385.5 L833.3,384.7 L834.3,384 L835.3,383.4 L836.3,382.9 L837.3,382.7 L838.3,382.6 L839.3,382.7 L840.3,382.9 L841.3,383.2 L842.3,383.6 L843.3,384.1 L844.3,384.6 L845.3,385.2 L846.3,385.7 L847.3,386.3 L848.3,386.9 L849.3,387.5 L850.3,388 L851.3,388.4 L852.3,388.8 L853.3,389.1 L854.3,389.3 L855.3,389.3 L856.3,389.2 L857.3,389.1 L858.3,388.8 L859.3,388.4 L860.3,388 L861.3,387.5 L862.3,387.1 L863.3,386.7 L864.3,386.3 L865.3,386 L866.3,385.7 L867.3,385.6 L868.3,385.7 L869.3,385.8 L870.3,386.1 L871.3,386.5 L872.3,387 L873.3,387.5 L874.3,388 L875.3,388.4 L876.3,388.9 L877.3,389.2 L878.3,389.4 L879.3,389.4 L880.3,389.3 L881.3,389 L882.3,388.3 L883.3,387.4 L884.3,386.3 L885.3,385 L886.3,383.5 L887.3,381.8 L888.3,379.9 L889.3,377.8 L890.3,375.6 L891.3,373.1 L892.3,370.4 L893.3,367.6 L894.3,364.6 L895.3,361.4 L896.3,358.1 L897.3,354.6 L898.3,351.1 L899.3,347.4 L900.3,343.7 L901.3,339.9 L902.3,336.2 L903.3,332.6 L904.3,329 L905.3,325.6 L906.3,322.4 L907.3,319.5 L908.3,316.8 L909.3,314.4 L910.3,312.4 L911.3,310.7 L912.3,309.4 L913.3,308.5 L914.3,307.9 L915.3,307.8 L916.3,308.1 L917.3,308.9 L918.3,310 L919.3,311.5 L920.3,313.2 L921.3,315 L922.3,316.8 L923.3,318.6 L924.3,320.2 L925.3,321.6 L926.3,322.5 L927.3,323 L928.3,322.9 L929.3,322.3 L930.3,321 L931.3,319.1 L932.3,316.6 L933.3,313.4 L934.3,309.5 L935.3,304.8 L936.3,299.5 L937.3,293.5 L938.3,286.9 L939.3,279.7 L940.3,272 L941.3,263.8 L942.3,255.2 L943.3,246.4 L944.3,237.3 L945.3,228.2 L946.3,219.1 L947.3,210.2 L948.3,201.6 L949.3,193.3 L950.3,185.5 L951.3,178.4 L952.3,172 L953.3,166.4 L954.3,161.7 L955.3,158 L956.3,155.4 L957.3,153.8 L958.3,153.4 L959.3,154 L960.3,155.7 L961.3,158.5 L962.3,162.3 L963.3,167 L964.3,172.7 L965.3,179.1 L966.3,186.4 L967.3,194.2 L968.3,202.7 L969.3,211.6 L970.3,220.8 L971.3,230.3 L972.3,240 L973.3,249.7 L974.3,259.3 L975.3,268.8 L976.3,278.2 L977.3,287.2 L978.3,296 L979.3,304.3 L980.3,312.3 L981.3,319.8 L982.3,326.8 L983.3,333.4 L984.3,339.4 L985.3,345 L986.3,350.1 L987.3,354.6 L988.3,358.7 L989.3,362.4 L990.3,365.6 L991.3,368.4 L992.3,370.9 L993.3,373.1 L994.3,375 L995.3,376.6 L996.3,377.9 L997.3,379.1 L998.3,380 L999.3,380.7 L1000.3,381.2 L1001.3,381.6 L1002.3,381.9 L1003.3,382 L1004.3,382 L1005.3,381.8 L1006.3,381.5 L1007.3,381.2 L1008.3,380.7 L1009.3,380.1 L1010.3,379.5 L1011.3,378.7 L1012.3,377.9 L1013.3,377 L1014.3,376 L1015.3,375 L1016.3,373.9 L1017.3,372.8 L1018.3,371.6 L1019.3,370.3 L1020.3,369 L1021.3,367.6 L1022.3,366.1 L1023.3,364.6 L1024.3,363.1 L1025.3,361.4 L1026.3,359.7 L1027.3,357.9 L1028.3,356.1 L1029.3,354.2 L1030.3,352.3 L1031.3,350.3 L1032.3,348.3 L1033.3,346.2 L1034.3,344 L1035.3,341.9 L1036.3,339.7 L1037.3,337.6 L1038.3,335.5 L1039.3,333.5 L1040.3,331.5 L1041.3,329.6 L1042.3,327.8 L1043.3,326.1 L1044.3,324.6 L1045.3,323.2 L1046.3,321.9 L1047.3,320.8 L1048.3,319.9 L1049.3,319.1 L1050.3,318.4 L1051.3,317.8 L1052.3,317.3 L1053.3,316.9 L1054.3,316.6 L1055.3,316.4 L1056.3,316.2 L1057.3,316 L1058.3,315.8 L1059.3,315.7 L1060.3,315.5 L1061.3,315.2 L1062.3,315 L1063.3,314.6 L1064.3,314.2 L1065.3,313.8 L1066.3,313.3 L1067.3,312.7 L1068.3,312.1 L1069.3,311.4 L1070.3,310.7 L1071.3,309.9 L1072.3,309 L1073.3,308.1 L1074.3,307.2 L1075.3,306.2 L1076.3,305.1 L1077.3,304 L1078.3,302.9 L1079.3,301.8 L1080.3,300.6 L1081.3,299.5 L1082.3,298.3 L1083.3,297.2 L1084.3,296.1 L1085.3,295 L1086.3,293.9 L1087.3,292.8 L1088.3,291.7 L1089.3,290.6 L1090.3,289.5 L1091.3,288.4 L1092.3,287.4 L1093.3,286.3 L1094.3,285.3 L1095.3,284.2 L1096.3,283.2 L1097.3,282.3 L1098.3,281.4 L1099.3,280.6 L1100.3,279.9 L1101.3,279.3 L1102.3,278.7 L1103.3,278.2 L1104.3,277.7 L1105.3,277.4 L1106.3,277 L1107.3,276.8 L1108.3,276.6 L1109.3,276.4 L1110.3,276.2 L1111.3,276.1 L1112.3,275.9 L1113.3,275.8 L1114.3,275.6 L1115.3,275.3 L1116.3,275 L1117.3,274.7 L1118.3,274.2 L1119.3,273.7 L1120.3,273 L1121.3,272.1 L1122.3,271 L1123.3,269.6 L1124.3,268 L1125.3,266.1 L1126.3,263.9 L1127.3,261.4 L1128.3,258.4 L1129.3,255.1 L1130.3,251.3 L1131.3,247.2 L1132.3,242.6 L1133.3,237.6 L1134.3,232.2 L1135.3,226.3 L1136.3,220.1 L1137.3,213.6 L1138.3,206.7 L1139.3,199.5 L1140.3,192.1 L1141.3,184.5 L1142.3,176.9 L1143.3,169.1 L1144.3,161.5 L1145.3,153.9 L1146.3,146.5 L1147.3,139.4 L1148.3,132.7 L1149.3,126.3 L1150.3,120.5 L1151.3,115.3 L1152.3,110.8 L1153.3,106.9 L1154.3,103.8 L1155.3,101.5 L1156.3,100 L1157.3,99.4 L1158.3,99.6 L1159.3,100.6 L1160.3,102.3 L1161.3,104.7 L1162.3,107.7 L1163.3,111.4 L1164.3,115.7 L1165.3,120.6 L1166.3,125.8 L1167.3,131.5 L1168.3,137.4 L1169.3,143.5 L1170.3,149.6 L1171.3,155.8 L1172.3,161.9 L1173.3,167.8 L1174.3,173.4 L1175.3,178.6 L1176.3,183.4 L1177.3,187.6 L1178.3,191.3 L1179.3,194.3 L1180.3,196.6 L1181.3,198.3 L1182.3,199.1 L1183.3,199.1 L1184.3,198.1 L1185.3,196.3 L1186.3,193.6 L1187.3,190.1 L1188.3,185.8 L1189.3,180.8 L1190.3,175.2 L1191.3,169 L1192.3,162.3 L1193.3,155.3 L1194.3,148.1 L1195.3,140.7 L1196.3,133.4 L1197.3,126.2 L1198.3,119.3 L1199.3,112.8 L1200.3,106.8 L1201.3,101.5 L1202.3,96.9 L1203.3,93.1 L1204.3,90.3 L1205.3,88.4 L1206.3,87.6 L1207.3,87.9 L1208.3,89.3 L1209.3,91.8 L1210.3,95.4 L1211.3,100.1 L1212.3,105.9 L1213.3,112.6 L1214.3,120.2 L1215.3,128.6 L1216.3,137.7 L1217.3,147.5 L1218.3,157.7 L1219.3,168.4 L1220.3,179.4 L1221.3,190.5 L1222.3,201.8 L1223.3,213 L1224.3,224.2 L1225.3,235.2 L1226.3,245.9 L1227.3,256.3 L1228.3,266.3 L1229.3,275.9 L1230.3,285 L1231.3,293.4 L1232.3,300.8 L1233.3,307.4 L1234.3,313.3 L1235.3,318.6 L1236.3,323.4 L1237.3,327.8 L1238.3,331.8 L1239.3,335.6 L1240.3,339.3 L1241.3,343 L1242.3,347 L1243.3,351.1 L1244.3,355.2 L1245.3,359.3 L1246.3,363.2 L1247.3,366.6 L1248.3,369.6 L1249.3,371.8 L1250.3,373.8 L1251.3,375.5 L1252.3,377.1 L1253.3,378.5 L1254.3,379.8 L1255.3,380.9 L1256.3,381.9 L1257.3,382.7 L1258.3,383.5 L1259.3,384.3 L1260.3,384.9 L1261.3,385.6 L1262.3,386.3 L1263.3,387 L1264.3,387.8 L1265.3,388.5 L1266.3,389.4 L1267.3,390.2 L1268.3,391 L1269.3,391.9 L1270.3,392.7 L1271.3,393.5 L1272.3,394.2 L1273.3,394.9 L1274.3,395.5 L1275.3,396.1 L1276.3,396.6 L1277.3,397 L1278.3,397.3 L1279.3,397.5 L1280.3,397.4 L1281.3,397.1 L1282.3,396.5 L1283.3,395.8 L1284.3,394.9 L1285.3,393.9 L1286.3,392.7 L1287.3,391.4 L1288.3,390.1 L1289.3,388.7 L1290.3,387.2 L1291.3,385.8 L1292.3,384.4 L1293.3,383 L1294.3,381.6 L1295.3,380.3 L1296.3,379.2 L1297.3,378.2 L1298.3,377.3 L1299.3,376.5 L1300.3,376 L1301.3,375.7 L1302.3,375.6 L1303.3,375.9 L1304.3,376.4 L1305.3,377.2 L1306.3,378.3 L1307.3,379.6 L1308.3,381 L1309.3,382.7 L1310.3,384.5 L1311.3,386.5 L1312.3,388.5 L1313.3,390.6 L1314.3,392.7 L1315.3,394.9 L1316.3,397 L1317.3,399.1 L1318.3,401.1 L1319.3,403 L1320.3,404.8 L1321.3,406.4 L1322.3,407.8 L1323.3,409.1 L1324.3,410.1 L1325.3,410.8 L1326.3,411.3 L1327.3,411.4 L1328.3,411.2 L1329.3,410.7 L1330.3,410 L1331.3,409 L1332.3,407.8 L1333.3,406.5 L1334.3,405 L1335.3,403.4 L1336.3,401.7 L1337.3,399.9 L1338.3,398.2 L1339.3,396.4 L1340.3,394.6 L1341.3,392.9 L1342.3,391.3 L1343.3,389.8 L1344.3,388.5 L1345.3,387.3 L1346.3,386.4 L1347.3,385.7 L1348.3,385.2 L1349.3,385 L1350.3,385.2 L1351.3,385.7 L1352.3,386.5 L1353.3,387.5 L1354.3,388.7 L1355.3,390.1 L1356.3,391.6 L1357.3,393.2 L1358.3,394.9 L1359.3,396.6 L1360.3,398.3 L1361.3,399.9 L1362.3,401.4 L1363.3,402.7 L1364.3,403.9 L1365.3,404.9 L1366.3,405.6 L1367.3,406 L1368.3,406.1 L1369.3,405.9 L1370.3,405.4 L1371.3,404.6 L1372.3,403.6 L1373.3,402.4 L1374.3,401 L1375.3,399.5 L1376.3,397.8 L1377.3,396.1 L1378.3,394.3 L1379.3,392.4 L1380.3,390.5 L1381.3,388.7 L1382.3,386.8 L1383.3,385.1 L1384.3,383.4 L1385.3,381.9 L1386.3,380.5 L1387.3,379.3 L1388.3,378.3 L1389.3,377.5 L1390.3,377 L1391.3,376.8 L1392.3,376.9 L1393.3,377.3 L1394.3,377.9 L1395.3,378.8 L1396.3,379.9 L1397.3,381.1 L1398.3,382.5 L1399.3,384 L1400.3,385.6 L1401.3,387.3 L1402.3,389 L1403.3,390.7 L1404.3,392.3 L1405.3,393.9 L1406.3,395.4 L1407.3,396.8 L1408.3,398 L1409.3,399 L1410.3,399.8 L1411.3,400.4 L1412.3,400.7 L1413.3,400.7 L1414.3,400.6 L1415.3,400.4 L1416.3,400.1 L1417.3,399.7 L1418.3,399.1 L1419.3,398.5 L1420.3,397.8 L1421.3,397 L1422.3,396 L1423.3,395 L1424.3,393.8" fill="none" stroke="#3c3c3c" stroke-width="1.6"/>
<text x="1260.8" y="113" font-size="24.5" text-anchor="start" fill="#111" font-weight="normal" textLength="87.4" lengthAdjust="spacingAndGlyphs" >60S40C</text>
<text x="1348.8" y="118.8" font-size="17" text-anchor="start" fill="#111" font-weight="normal" textLength="33.2" lengthAdjust="spacingAndGlyphs" >CME</text>
<text x="1382.6" y="113" font-size="24.5" text-anchor="start" fill="#111" font-weight="normal" textLength="36.3" lengthAdjust="spacingAndGlyphs" >-CL</text>
<path d="M847.3,832.5 L848.3,832.4 L849.3,832.4 L850.3,832.4 L851.3,832.4 L852.3,832.4 L853.3,832.3 L854.3,832.3 L855.3,832.3 L856.3,832.3 L857.3,832.2 L858.3,832.2 L859.3,832.2 L860.3,832.1 L861.3,832.1 L862.3,832.1 L863.3,832 L864.3,832 L865.3,831.9 L866.3,831.8 L867.3,831.7 L868.3,831.6 L869.3,831.5 L870.3,831.4 L871.3,831.2 L872.3,831 L873.3,830.8 L874.3,830.6 L875.3,830.3 L876.3,829.9 L877.3,829.5 L878.3,829 L879.3,828.5 L880.3,827.8 L881.3,827.1 L882.3,826.2 L883.3,825.2 L884.3,824 L885.3,822.7 L886.3,821.2 L887.3,819.6 L888.3,817.7 L889.3,815.6 L890.3,813.3 L891.3,810.8 L892.3,808 L893.3,805 L894.3,801.7 L895.3,798.2 L896.3,794.5 L897.3,790.5 L898.3,786.4 L899.3,782 L900.3,777.6 L901.3,773 L902.3,768.3 L903.3,763.6 L904.3,758.9 L905.3,754.3 L906.3,749.8 L907.3,745.4 L908.3,741.3 L909.3,737.5 L910.3,733.9 L911.3,730.8 L912.3,728.1 L913.3,725.8 L914.3,724 L915.3,722.8 L916.3,722.1 L917.3,721.9 L918.3,722.3 L919.3,723.2 L920.3,724.7 L921.3,726.7 L922.3,729.1 L923.3,732 L924.3,735.3 L925.3,739 L926.3,742.9 L927.3,747.1 L928.3,751.6 L929.3,756.1 L930.3,760.8 L931.3,765.5 L932.3,770.2 L933.3,774.8 L934.3,779.4 L935.3,783.8 L936.3,788 L937.3,792.1 L938.3,796 L939.3,799.6 L940.3,803 L941.3,806.2 L942.3,809.1 L943.3,811.8 L944.3,814.3 L945.3,816.5 L946.3,818.5 L947.3,820.3 L948.3,821.9 L949.3,823.3 L950.3,824.5 L951.3,825.6 L952.3,826.5 L953.3,827.4 L954.3,828.1 L955.3,828.7 L956.3,829.2 L957.3,829.7 L958.3,830.1 L959.3,830.4 L960.3,830.7 L961.3,830.9 L962.3,831.1 L963.3,831.3 L964.3,831.4 L965.3,831.6 L966.3,831.7 L967.3,831.8 L968.3,831.8 L969.3,831.9 L970.3,832 L971.3,832 L972.3,832.1 L973.3,832.1 L974.3,832.2 L975.3,832.2 L976.3,832.2 L977.3,832.3 L978.3,832.3 L979.3,832.3 L980.3,832.3 L981.3,832.4 L982.3,832.4 L983.3,832.4 L984.3,832.4 L985.3,832.4 L986.3,832.4 L987.3,832.5" fill="none" stroke="#4a72c4" stroke-width="1.3"/>
<path d="M884.3,832.5 L885.3,832.4 L886.3,832.4 L887.3,832.4 L888.3,832.4 L889.3,832.4 L890.3,832.3 L891.3,832.3 L892.3,832.3 L893.3,832.3 L894.3,832.2 L895.3,832.2 L896.3,832.2 L897.3,832.1 L898.3,832.1 L899.3,832 L900.3,832 L901.3,831.9 L902.3,831.9 L903.3,831.8 L904.3,831.7 L905.3,831.6 L906.3,831.6 L907.3,831.5 L908.3,831.4 L909.3,831.2 L910.3,831.1 L911.3,831 L912.3,830.8 L913.3,830.6 L914.3,830.4 L915.3,830.1 L916.3,829.8 L917.3,829.5 L918.3,829.1 L919.3,828.6 L920.3,828.1 L921.3,827.4 L922.3,826.7 L923.3,825.8 L924.3,824.8 L925.3,823.6 L926.3,822.2 L927.3,820.7 L928.3,818.9 L929.3,816.9 L930.3,814.6 L931.3,812 L932.3,809.1 L933.3,805.9 L934.3,802.3 L935.3,798.4 L936.3,794.1 L937.3,789.4 L938.3,784.3 L939.3,778.9 L940.3,773.1 L941.3,767 L942.3,760.5 L943.3,753.8 L944.3,746.9 L945.3,739.8 L946.3,732.6 L947.3,725.4 L948.3,718.2 L949.3,711.1 L950.3,704.2 L951.3,697.7 L952.3,691.4 L953.3,685.7 L954.3,680.4 L955.3,675.8 L956.3,671.8 L957.3,668.6 L958.3,666.2 L959.3,664.5 L960.3,663.8 L961.3,663.9 L962.3,664.8 L963.3,666.6 L964.3,669.2 L965.3,672.6 L966.3,676.7 L967.3,681.4 L968.3,686.8 L969.3,692.6 L970.3,698.9 L971.3,705.6 L972.3,712.5 L973.3,719.6 L974.3,726.8 L975.3,734.1 L976.3,741.3 L977.3,748.3 L978.3,755.2 L979.3,761.8 L980.3,768.2 L981.3,774.3 L982.3,780 L983.3,785.4 L984.3,790.3 L985.3,795 L986.3,799.2 L987.3,803.1 L988.3,806.6 L989.3,809.7 L990.3,812.5 L991.3,815.1 L992.3,817.3 L993.3,819.3 L994.3,821 L995.3,822.5 L996.3,823.8 L997.3,825 L998.3,826 L999.3,826.8 L1000.3,827.5 L1001.3,828.2 L1002.3,828.7 L1003.3,829.2 L1004.3,829.6 L1005.3,829.9 L1006.3,830.2 L1007.3,830.4 L1008.3,830.7 L1009.3,830.8 L1010.3,831 L1011.3,831.1 L1012.3,831.3 L1013.3,831.4 L1014.3,831.5 L1015.3,831.6 L1016.3,831.7 L1017.3,831.7 L1018.3,831.8 L1019.3,831.9 L1020.3,831.9 L1021.3,832 L1022.3,832 L1023.3,832.1 L1024.3,832.1 L1025.3,832.2 L1026.3,832.2 L1027.3,832.2 L1028.3,832.3 L1029.3,832.3 L1030.3,832.3 L1031.3,832.3 L1032.3,832.4 L1033.3,832.4 L1034.3,832.4 L1035.3,832.4 L1036.3,832.4 L1037.3,832.5" fill="none" stroke="#4a72c4" stroke-width="1.3"/>
<path d="M1063.3,832.5 L1064.3,832.4 L1065.3,832.4 L1066.3,832.4 L1067.3,832.3 L1068.3,832.3 L1069.3,832.2 L1070.3,832.1 L1071.3,832 L1072.3,831.9 L1073.3,831.8 L1074.3,831.7 L1075.3,831.5 L1076.3,831.3 L1077.3,831.1 L1078.3,830.9 L1079.3,830.7 L1080.3,830.4 L1081.3,830.1 L1082.3,829.8 L1083.3,829.5 L1084.3,829.1 L1085.3,828.7 L1086.3,828.3 L1087.3,827.9 L1088.3,827.4 L1089.3,827 L1090.3,826.5 L1091.3,826 L1092.3,825.4 L1093.3,824.9 L1094.3,824.4 L1095.3,823.9 L1096.3,823.4 L1097.3,822.9 L1098.3,822.4 L1099.3,821.9 L1100.3,821.5 L1101.3,821.1 L1102.3,820.7 L1103.3,820.4 L1104.3,820.1 L1105.3,819.9 L1106.3,819.8 L1107.3,819.7 L1108.3,819.6 L1109.3,819.6 L1110.3,819.7 L1111.3,819.8 L1112.3,820 L1113.3,820.2 L1114.3,820.5 L1115.3,820.8 L1116.3,821.2 L1117.3,821.6 L1118.3,822 L1119.3,822.5 L1120.3,823 L1121.3,823.5 L1122.3,824 L1123.3,824.5 L1124.3,825 L1125.3,825.6 L1126.3,826.1 L1127.3,826.6 L1128.3,827.1 L1129.3,827.5 L1130.3,828 L1131.3,828.4 L1132.3,828.8 L1133.3,829.2 L1134.3,829.6 L1135.3,829.9 L1136.3,830.2 L1137.3,830.5 L1138.3,830.7 L1139.3,831 L1140.3,831.2 L1141.3,831.4 L1142.3,831.5 L1143.3,831.7 L1144.3,831.8 L1145.3,831.9 L1146.3,832 L1147.3,832.1 L1148.3,832.2 L1149.3,832.3 L1150.3,832.3 L1151.3,832.4 L1152.3,832.4 L1153.3,832.4 L1154.3,832.5" fill="none" stroke="#4a72c4" stroke-width="1.3"/>
<path d="M1073.3,832.5 L1074.3,832.4 L1075.3,832.4 L1076.3,832.4 L1077.3,832.4 L1078.3,832.3 L1079.3,832.3 L1080.3,832.3 L1081.3,832.2 L1082.3,832.2 L1083.3,832.2 L1084.3,832.1 L1085.3,832.1 L1086.3,832 L1087.3,831.9 L1088.3,831.9 L1089.3,831.8 L1090.3,831.7 L1091.3,831.6 L1092.3,831.5 L1093.3,831.4 L1094.3,831.3 L1095.3,831.1 L1096.3,831 L1097.3,830.9 L1098.3,830.7 L1099.3,830.5 L1100.3,830.3 L1101.3,830.1 L1102.3,829.9 L1103.3,829.7 L1104.3,829.4 L1105.3,829.2 L1106.3,828.9 L1107.3,828.6 L1108.3,828.2 L1109.3,827.8 L1110.3,827.4 L1111.3,827 L1112.3,826.5 L1113.3,825.9 L1114.3,825.3 L1115.3,824.6 L1116.3,823.8 L1117.3,822.9 L1118.3,821.9 L1119.3,820.7 L1120.3,819.4 L1121.3,817.9 L1122.3,816.1 L1123.3,814.1 L1124.3,811.9 L1125.3,809.3 L1126.3,806.4 L1127.3,803.2 L1128.3,799.5 L1129.3,795.4 L1130.3,790.8 L1131.3,785.7 L1132.3,780.2 L1133.3,774.1 L1134.3,767.4 L1135.3,760.3 L1136.3,752.6 L1137.3,744.4 L1138.3,735.8 L1139.3,726.7 L1140.3,717.4 L1141.3,707.7 L1142.3,697.9 L1143.3,688 L1144.3,678.2 L1145.3,668.5 L1146.3,659.1 L1147.3,650.1 L1148.3,641.6 L1149.3,633.8 L1150.3,626.7 L1151.3,620.6 L1152.3,615.4 L1153.3,611.3 L1154.3,608.4 L1155.3,606.7 L1156.3,606.2 L1157.3,606.9 L1158.3,608.9 L1159.3,612.1 L1160.3,616.4 L1161.3,621.7 L1162.3,628.1 L1163.3,635.3 L1164.3,643.2 L1165.3,651.8 L1166.3,660.9 L1167.3,670.4 L1168.3,680.2 L1169.3,690 L1170.3,699.9 L1171.3,709.7 L1172.3,719.3 L1173.3,728.6 L1174.3,737.5 L1175.3,746.1 L1176.3,754.1 L1177.3,761.7 L1178.3,768.8 L1179.3,775.3 L1180.3,781.3 L1181.3,786.8 L1182.3,791.8 L1183.3,796.2 L1184.3,800.3 L1185.3,803.9 L1186.3,807.1 L1187.3,809.9 L1188.3,812.4 L1189.3,814.6 L1190.3,816.5 L1191.3,818.2 L1192.3,819.7 L1193.3,820.9 L1194.3,822.1 L1195.3,823.1 L1196.3,824 L1197.3,824.7 L1198.3,825.4 L1199.3,826 L1200.3,826.6 L1201.3,827.1 L1202.3,827.5 L1203.3,827.9 L1204.3,828.3 L1205.3,828.6 L1206.3,828.9 L1207.3,829.2 L1208.3,829.5 L1209.3,829.7 L1210.3,830 L1211.3,830.2 L1212.3,830.4 L1213.3,830.6 L1214.3,830.7 L1215.3,830.9 L1216.3,831 L1217.3,831.2 L1218.3,831.3 L1219.3,831.4 L1220.3,831.5 L1221.3,831.6 L1222.3,831.7 L1223.3,831.8 L1224.3,831.9 L1225.3,831.9 L1226.3,832 L1227.3,832.1 L1228.3,832.1 L1229.3,832.2 L1230.3,832.2 L1231.3,832.3 L1232.3,832.3 L1233.3,832.3 L1234.3,832.4 L1235.3,832.4 L1236.3,832.4 L1237.3,832.4 L1238.3,832.4 L1239.3,832.5" fill="none" stroke="#4a72c4" stroke-width="1.3"/>
<path d="M1108.3,832.5 L1109.3,832.4 L1110.3,832.4 L1111.3,832.4 L1112.3,832.4 L1113.3,832.3 L1114.3,832.3 L1115.3,832.3 L1116.3,832.2 L1117.3,832.2 L1118.3,832.1 L1119.3,832.1 L1120.3,832 L1121.3,831.9 L1122.3,831.8 L1123.3,831.8 L1124.3,831.7 L1125.3,831.5 L1126.3,831.4 L1127.3,831.3 L1128.3,831.1 L1129.3,831 L1130.3,830.8 L1131.3,830.6 L1132.3,830.4 L1133.3,830.2 L1134.3,829.9 L1135.3,829.7 L1136.3,829.4 L1137.3,829.1 L1138.3,828.7 L1139.3,828.4 L1140.3,828 L1141.3,827.6 L1142.3,827.1 L1143.3,826.6 L1144.3,826.1 L1145.3,825.6 L1146.3,825 L1147.3,824.3 L1148.3,823.6 L1149.3,822.9 L1150.3,822.1 L1151.3,821.3 L1152.3,820.5 L1153.3,819.5 L1154.3,818.5 L1155.3,817.5 L1156.3,816.4 L1157.3,815.2 L1158.3,813.9 L1159.3,812.6 L1160.3,811.1 L1161.3,809.6 L1162.3,807.9 L1163.3,806.1 L1164.3,804.1 L1165.3,802 L1166.3,799.7 L1167.3,797.2 L1168.3,794.5 L1169.3,791.5 L1170.3,788.3 L1171.3,784.7 L1172.3,780.8 L1173.3,776.5 L1174.3,771.8 L1175.3,766.7 L1176.3,761.1 L1177.3,755.1 L1178.3,748.5 L1179.3,741.4 L1180.3,733.7 L1181.3,725.5 L1182.3,716.7 L1183.3,707.4 L1184.3,697.6 L1185.3,687.2 L1186.3,676.5 L1187.3,665.4 L1188.3,654 L1189.3,642.3 L1190.3,630.6 L1191.3,618.8 L1192.3,607.1 L1193.3,595.7 L1194.3,584.6 L1195.3,574.1 L1196.3,564.1 L1197.3,555 L1198.3,546.7 L1199.3,539.4 L1200.3,533.3 L1201.3,528.3 L1202.3,524.6 L1203.3,522.3 L1204.3,521.3 L1205.3,521.7 L1206.3,523.5 L1207.3,526.7 L1208.3,531.1 L1209.3,536.8 L1210.3,543.7 L1211.3,551.5 L1212.3,560.4 L1213.3,570 L1214.3,580.3 L1215.3,591.2 L1216.3,602.5 L1217.3,614.1 L1218.3,625.8 L1219.3,637.6 L1220.3,649.3 L1221.3,660.8 L1222.3,672.1 L1223.3,683 L1224.3,693.5 L1225.3,703.5 L1226.3,713 L1227.3,722 L1228.3,730.5 L1229.3,738.4 L1230.3,745.7 L1231.3,752.5 L1232.3,758.8 L1233.3,764.6 L1234.3,769.9 L1235.3,774.7 L1236.3,779.1 L1237.3,783.2 L1238.3,786.9 L1239.3,790.3 L1240.3,793.4 L1241.3,796.2 L1242.3,798.8 L1243.3,801.1 L1244.3,803.3 L1245.3,805.3 L1246.3,807.2 L1247.3,808.9 L1248.3,810.5 L1249.3,812 L1250.3,813.4 L1251.3,814.7 L1252.3,815.9 L1253.3,817.1 L1254.3,818.1 L1255.3,819.1 L1256.3,820.1 L1257.3,821 L1258.3,821.8 L1259.3,822.6 L1260.3,823.4 L1261.3,824.1 L1262.3,824.7 L1263.3,825.3 L1264.3,825.9 L1265.3,826.4 L1266.3,826.9 L1267.3,827.4 L1268.3,827.8 L1269.3,828.2 L1270.3,828.6 L1271.3,829 L1272.3,829.3 L1273.3,829.6 L1274.3,829.8 L1275.3,830.1 L1276.3,830.3 L1277.3,830.5 L1278.3,830.7 L1279.3,830.9 L1280.3,831.1 L1281.3,831.2 L1282.3,831.4 L1283.3,831.5 L1284.3,831.6 L1285.3,831.7 L1286.3,831.8 L1287.3,831.9 L1288.3,832 L1289.3,832 L1290.3,832.1 L1291.3,832.2 L1292.3,832.2 L1293.3,832.3 L1294.3,832.3 L1295.3,832.3 L1296.3,832.4 L1297.3,832.4 L1298.3,832.4 L1299.3,832.4 L1300.3,832.5" fill="none" stroke="#4a72c4" stroke-width="1.3"/>
<line x1="763.3" y1="832.6" x2="1424.5" y2="832.6" stroke="#2c4a9a" stroke-width="1.6"/>
<path d="M763.3,812 L764.3,812 L765.3,812 L766.3,811.9 L767.3,811.9 L768.3,811.9 L769.3,811.9 L770.3,811.9 L771.3,811.9 L772.3,811.8 L773.3,811.8 L774.3,811.8 L775.3,811.8 L776.3,811.8 L777.3,811.8 L778.3,811.8 L779.3,811.8 L780.3,811.7 L781.3,811.7 L782.3,811.7 L783.3,811.7 L784.3,811.7 L785.3,811.7 L786.3,811.7 L787.3,811.7 L788.3,811.7 L789.3,811.7 L790.3,811.6 L791.3,811.6 L792.3,811.6 L793.3,811.6 L794.3,811.6 L795.3,811.6 L796.3,811.6 L797.3,811.6 L798.3,811.6 L799.3,811.6 L800.3,811.6 L801.3,811.6 L802.3,811.6 L803.3,811.6 L804.3,811.6 L805.3,811.5 L806.3,811.5 L807.3,811.5 L808.3,811.5 L809.3,811.5 L810.3,811.5 L811.3,811.5 L812.3,811.5 L813.3,811.5 L814.3,811.5 L815.3,811.5 L816.3,811.5 L817.3,811.5 L818.3,811.5 L819.3,811.5 L820.3,811.5 L821.3,811.5 L822.3,811.5 L823.3,811.5 L824.3,811.5 L825.3,811.5 L826.3,811.5 L827.3,811.5 L828.3,811.4 L829.3,811.4 L830.3,811.4 L831.3,811.4 L832.3,811.4 L833.3,811.4 L834.3,811.4 L835.3,811.4 L836.3,811.4 L837.3,811.4 L838.3,811.4 L839.3,811.4 L840.3,811.4 L841.3,811.4 L842.3,811.4 L843.3,811.3 L844.3,811.3 L845.3,811.3 L846.3,811.3 L847.3,811.3 L848.3,811.3 L849.3,811.3 L850.3,811.3 L851.3,811.2 L852.3,811.2 L853.3,811.2 L854.3,811.2 L855.3,811.1 L856.3,811.1 L857.3,811.1 L858.3,811.1 L859.3,811 L860.3,811 L861.3,810.9 L862.3,810.9 L863.3,810.9 L864.3,810.8 L865.3,810.7 L866.3,810.7 L867.3,810.6 L868.3,810.5 L869.3,810.4 L870.3,810.3 L871.3,810.2 L872.3,810 L873.3,809.8 L874.3,809.6 L875.3,809.3 L876.3,809 L877.3,808.6 L878.3,808.1 L879.3,807.6 L880.3,807 L881.3,806.3 L882.3,805.4 L883.3,804.5 L884.3,803.4 L885.3,802.1 L886.3,800.6 L887.3,799 L888.3,797.2 L889.3,795.1 L890.3,792.9 L891.3,790.4 L892.3,787.6 L893.3,784.6 L894.3,781.4 L895.3,778 L896.3,774.3 L897.3,770.3 L898.3,766.2 L899.3,761.9 L900.3,757.5 L901.3,752.9 L902.3,748.3 L903.3,743.6 L904.3,738.9 L905.3,734.3 L906.3,729.8 L907.3,725.5 L908.3,721.4 L909.3,717.5 L910.3,714 L911.3,710.8 L912.3,708 L913.3,705.6 L914.3,703.8 L915.3,702.4 L916.3,701.5 L917.3,701.1 L918.3,701.2 L919.3,701.9 L920.3,703.2 L921.3,704.9 L922.3,707 L923.3,709.5 L924.3,712.3 L925.3,715.3 L926.3,718.5 L927.3,721.7 L928.3,724.8 L929.3,727.9 L930.3,730.7 L931.3,733.2 L932.3,735.4 L933.3,737.1 L934.3,738.2 L935.3,738.9 L936.3,738.8 L937.3,738.1 L938.3,736.7 L939.3,734.6 L940.3,731.8 L941.3,728.3 L942.3,724.2 L943.3,719.6 L944.3,714.4 L945.3,708.8 L946.3,702.8 L947.3,696.6 L948.3,690.2 L949.3,683.7 L950.3,677.3 L951.3,671 L952.3,665.1 L953.3,659.4 L954.3,654.3 L955.3,649.7 L956.3,645.9 L957.3,642.7 L958.3,640.4 L959.3,639 L960.3,638.4 L961.3,638.8 L962.3,639.9 L963.3,641.9 L964.3,644.7 L965.3,648.2 L966.3,652.4 L967.3,657.3 L968.3,662.8 L969.3,668.8 L970.3,675.2 L971.3,682 L972.3,689 L973.3,696.3 L974.3,703.6 L975.3,710.9 L976.3,718.2 L977.3,725.4 L978.3,732.4 L979.3,739.1 L980.3,745.6 L981.3,751.8 L982.3,757.6 L983.3,763.1 L984.3,768.2 L985.3,772.9 L986.3,777.2 L987.3,781.2 L988.3,784.8 L989.3,788.1 L990.3,791 L991.3,793.6 L992.3,796 L993.3,798 L994.3,799.8 L995.3,801.4 L996.3,802.9 L997.3,804.1 L998.3,805.1 L999.3,806.1 L1000.3,806.9 L1001.3,807.6 L1002.3,808.2 L1003.3,808.7 L1004.3,809.1 L1005.3,809.5 L1006.3,809.9 L1007.3,810.1 L1008.3,810.4 L1009.3,810.6 L1010.3,810.8 L1011.3,811 L1012.3,811.1 L1013.3,811.2 L1014.3,811.3 L1015.3,811.4 L1016.3,811.5 L1017.3,811.6 L1018.3,811.6 L1019.3,811.7 L1020.3,811.8 L1021.3,811.8 L1022.3,811.9 L1023.3,811.9 L1024.3,812 L1025.3,812 L1026.3,812 L1027.3,812.1 L1028.3,812.1 L1029.3,812.1 L1030.3,812.2 L1031.3,812.2 L1032.3,812.2 L1033.3,812.2 L1034.3,812.3 L1035.3,812.3 L1036.3,812.3 L1037.3,812.3 L1038.3,812.3 L1039.3,812.3 L1040.3,812.3 L1041.3,812.4 L1042.3,812.4 L1043.3,812.4 L1044.3,812.4 L1045.3,812.4 L1046.3,812.4 L1047.3,812.4 L1048.3,812.4 L1049.3,812.4 L1050.3,812.4 L1051.3,812.4 L1052.3,812.4 L1053.3,812.4 L1054.3,812.4 L1055.3,812.4 L1056.3,812.4 L1057.3,812.4 L1058.3,812.4 L1059.3,812.4 L1060.3,812.3 L1061.3,812.3 L1062.3,812.3 L1063.3,812.3 L1064.3,812.2 L1065.3,812.2 L1066.3,812.1 L1067.3,812.1 L1068.3,812 L1069.3,812 L1070.3,811.9 L1071.3,811.8 L1072.3,811.6 L1073.3,811.5 L1074.3,811.4 L1075.3,811.2 L1076.3,811 L1077.3,810.8 L1078.3,810.6 L1079.3,810.4 L1080.3,810.1 L1081.3,809.8 L1082.3,809.6 L1083.3,809.2 L1084.3,808.9 L1085.3,808.6 L1086.3,808.2 L1087.3,807.8 L1088.3,807.4 L1089.3,807 L1090.3,806.5 L1091.3,806 L1092.3,805.6 L1093.3,805.1 L1094.3,804.6 L1095.3,804.1 L1096.3,803.6 L1097.3,803.1 L1098.3,802.7 L1099.3,802.2 L1100.3,801.8 L1101.3,801.4 L1102.3,801 L1103.3,800.6 L1104.3,800.3 L1105.3,800 L1106.3,799.8 L1107.3,799.5 L1108.3,799.3 L1109.3,799.2 L1110.3,799 L1111.3,798.9 L1112.3,798.7 L1113.3,798.6 L1114.3,798.4 L1115.3,798.2 L1116.3,798 L1117.3,797.7 L1118.3,797.2 L1119.3,796.7 L1120.3,796 L1121.3,795.2 L1122.3,794.1 L1123.3,792.8 L1124.3,791.1 L1125.3,789.2 L1126.3,786.9 L1127.3,784.2 L1128.3,781.1 L1129.3,777.5 L1130.3,773.4 L1131.3,768.8 L1132.3,763.6 L1133.3,757.8 L1134.3,751.5 L1135.3,744.5 L1136.3,737 L1137.3,729 L1138.3,720.4 L1139.3,711.4 L1140.3,702 L1141.3,692.3 L1142.3,682.3 L1143.3,672.2 L1144.3,662.1 L1145.3,652.1 L1146.3,642.3 L1147.3,632.8 L1148.3,623.8 L1149.3,615.4 L1150.3,607.7 L1151.3,600.8 L1152.3,594.9 L1153.3,590 L1154.3,586.1 L1155.3,583.4 L1156.3,581.8 L1157.3,581.2 L1158.3,581.7 L1159.3,583 L1160.3,585.3 L1161.3,588.4 L1162.3,592.3 L1163.3,596.9 L1164.3,602 L1165.3,607.5 L1166.3,613.4 L1167.3,619.4 L1168.3,625.4 L1169.3,631.4 L1170.3,637.2 L1171.3,642.7 L1172.3,647.7 L1173.3,652.2 L1174.3,656 L1175.3,659.2 L1176.3,661.6 L1177.3,663.1 L1178.3,663.6 L1179.3,663 L1180.3,661.4 L1181.3,658.6 L1182.3,654.9 L1183.3,650.1 L1184.3,644.3 L1185.3,637.6 L1186.3,630.1 L1187.3,621.8 L1188.3,612.9 L1189.3,603.5 L1190.3,593.7 L1191.3,583.7 L1192.3,573.6 L1193.3,563.5 L1194.3,553.6 L1195.3,544.1 L1196.3,535.1 L1197.3,526.7 L1198.3,519.2 L1199.3,512.6 L1200.3,507 L1201.3,502.6 L1202.3,499.4 L1203.3,497.5 L1204.3,497 L1205.3,497.7 L1206.3,499.9 L1207.3,503.4 L1208.3,508.1 L1209.3,514.1 L1210.3,521.2 L1211.3,529.4 L1212.3,538.4 L1213.3,548.3 L1214.3,558.8 L1215.3,569.9 L1216.3,581.4 L1217.3,593.2 L1218.3,605.1 L1219.3,617.1 L1220.3,628.9 L1221.3,640.6 L1222.3,652 L1223.3,663 L1224.3,673.6 L1225.3,683.8 L1226.3,693.4 L1227.3,702.6 L1228.3,711.1 L1229.3,719.1 L1230.3,726.5 L1231.3,733.4 L1232.3,739.8 L1233.3,745.7 L1234.3,751.1 L1235.3,756 L1236.3,760.5 L1237.3,764.6 L1238.3,768.4 L1239.3,771.9 L1240.3,775 L1241.3,777.9 L1242.3,780.5 L1243.3,783 L1244.3,785.2 L1245.3,787.3 L1246.3,789.2 L1247.3,791 L1248.3,792.6 L1249.3,794.2 L1250.3,795.6 L1251.3,797 L1252.3,798.2 L1253.3,799.4 L1254.3,800.5 L1255.3,801.6 L1256.3,802.6 L1257.3,803.5 L1258.3,804.4 L1259.3,805.2 L1260.3,806 L1261.3,806.7 L1262.3,807.4 L1263.3,808 L1264.3,808.6 L1265.3,809.2 L1266.3,809.7 L1267.3,810.2 L1268.3,810.6 L1269.3,811 L1270.3,811.4 L1271.3,811.8 L1272.3,812.1 L1273.3,812.4 L1274.3,812.7 L1275.3,812.9 L1276.3,813.2 L1277.3,813.4 L1278.3,813.6 L1279.3,813.8 L1280.3,813.9 L1281.3,814.1 L1282.3,814.2 L1283.3,814.3 L1284.3,814.4 L1285.3,814.5 L1286.3,814.6 L1287.3,814.7 L1288.3,814.8 L1289.3,814.9 L1290.3,814.9 L1291.3,815 L1292.3,815 L1293.3,815.1 L1294.3,815.1 L1295.3,815.2 L1296.3,815.2 L1297.3,815.2 L1298.3,815.2 L1299.3,815.3 L1300.3,815.3 L1301.3,815.3 L1302.3,815.3 L1303.3,815.3 L1304.3,815.3 L1305.3,815.3 L1306.3,815.4 L1307.3,815.4 L1308.3,815.4 L1309.3,815.4 L1310.3,815.4 L1311.3,815.4 L1312.3,815.4 L1313.3,815.4 L1314.3,815.4 L1315.3,815.4 L1316.3,815.4 L1317.3,815.4 L1318.3,815.4 L1319.3,815.4 L1320.3,815.4 L1321.3,815.4 L1322.3,815.4 L1323.3,815.4 L1324.3,815.4 L1325.3,815.4 L1326.3,815.4 L1327.3,815.4 L1328.3,815.3 L1329.3,815.3 L1330.3,815.3 L1331.3,815.3 L1332.3,815.3 L1333.3,815.3 L1334.3,815.3 L1335.3,815.3 L1336.3,815.3 L1337.3,815.3 L1338.3,815.3 L1339.3,815.3 L1340.3,815.3 L1341.3,815.3 L1342.3,815.3 L1343.3,815.3 L1344.3,815.2 L1345.3,815.2 L1346.3,815.2 L1347.3,815.2 L1348.3,815.2 L1349.3,815.2 L1350.3,815.2 L1351.3,815.2 L1352.3,815.2 L1353.3,815.2 L1354.3,815.2 L1355.3,815.1 L1356.3,815.1 L1357.3,815.1 L1358.3,815.1 L1359.3,815.1 L1360.3,815.1 L1361.3,815.1 L1362.3,815.1 L1363.3,815.1 L1364.3,815 L1365.3,815 L1366.3,815 L1367.3,815 L1368.3,815 L1369.3,815 L1370.3,815 L1371.3,814.9 L1372.3,814.9 L1373.3,814.9 L1374.3,814.9 L1375.3,814.9 L1376.3,814.9 L1377.3,814.8 L1378.3,814.8 L1379.3,814.8 L1380.3,814.8 L1381.3,814.8 L1382.3,814.8 L1383.3,814.7 L1384.3,814.7 L1385.3,814.7 L1386.3,814.7 L1387.3,814.7 L1388.3,814.6 L1389.3,814.6 L1390.3,814.6 L1391.3,814.6 L1392.3,814.5 L1393.3,814.5 L1394.3,814.5 L1395.3,814.5 L1396.3,814.5 L1397.3,814.4 L1398.3,814.4 L1399.3,814.4 L1400.3,814.4 L1401.3,814.3 L1402.3,814.3 L1403.3,814.3 L1404.3,814.2 L1405.3,814.2 L1406.3,814.2 L1407.3,814.2 L1408.3,814.1 L1409.3,814.1 L1410.3,814.1 L1411.3,814 L1412.3,814 L1413.3,814 L1414.3,813.9 L1415.3,813.9 L1416.3,813.9 L1417.3,813.9 L1418.3,813.8 L1419.3,813.8 L1420.3,813.7 L1421.3,813.7 L1422.3,813.7 L1423.3,813.6 L1424.3,813.6" fill="none" stroke="#e0605a" stroke-width="1.5"/>
<path d="M763.3,796.6 L764.3,794.8 L765.3,793 L766.3,791.4 L767.3,790 L768.3,788.6 L769.3,787.3 L770.3,786.1 L771.3,785.1 L772.3,784.2 L773.3,783.3 L774.3,782.6 L775.3,782.1 L776.3,781.6 L777.3,781.2 L778.3,781 L779.3,780.9 L780.3,780.9 L781.3,781.2 L782.3,781.8 L783.3,782.6 L784.3,783.7 L785.3,784.9 L786.3,786.2 L787.3,787.7 L788.3,789.2 L789.3,790.8 L790.3,792.3 L791.3,793.9 L792.3,795.4 L793.3,796.8 L794.3,798.1 L795.3,799.3 L796.3,800.3 L797.3,801 L798.3,801.5 L799.3,801.8 L800.3,801.7 L801.3,801.3 L802.3,800.6 L803.3,799.8 L804.3,798.7 L805.3,797.5 L806.3,796.1 L807.3,794.8 L808.3,793.4 L809.3,792 L810.3,790.7 L811.3,789.5 L812.3,788.5 L813.3,787.7 L814.3,787.1 L815.3,786.8 L816.3,786.8 L817.3,787 L818.3,787.4 L819.3,787.9 L820.3,788.5 L821.3,789.2 L822.3,789.9 L823.3,790.7 L824.3,791.5 L825.3,792.3 L826.3,793.1 L827.3,793.7 L828.3,794.3 L829.3,794.8 L830.3,795.2 L831.3,795.4 L832.3,795.4 L833.3,795.4 L834.3,795.4 L835.3,795.4 L836.3,795.4 L837.3,795.4 L838.3,795.4 L839.3,795.4 L840.3,795.4 L841.3,795.4 L842.3,795.3 L843.3,795 L844.3,794.4 L845.3,793.6 L846.3,792.7 L847.3,791.7 L848.3,790.6 L849.3,789.6 L850.3,788.6 L851.3,787.7 L852.3,787.1 L853.3,786.6 L854.3,786.5 L855.3,786.4 L856.3,786.4 L857.3,786.4 L858.3,786.4 L859.3,786.3 L860.3,786.3 L861.3,786.2 L862.3,786.2 L863.3,786.2 L864.3,786.1 L865.3,786 L866.3,786 L867.3,785.9 L868.3,785.9 L869.3,785.9 L870.3,785.9 L871.3,785.9 L872.3,785.9 L873.3,785.9 L874.3,785.8 L875.3,785.8 L876.3,785.7 L877.3,785.5 L878.3,785.2 L879.3,784.9 L880.3,784.6 L881.3,784.2 L882.3,783.6 L883.3,783 L884.3,782.2 L885.3,781.3 L886.3,780.1 L887.3,778.7 L888.3,777.1 L889.3,775.1 L890.3,772.9 L891.3,770.4 L892.3,767.6 L893.3,764.6 L894.3,761.4 L895.3,758 L896.3,754.3 L897.3,750.3 L898.3,746.2 L899.3,741.9 L900.3,737.5 L901.3,732.9 L902.3,728.3 L903.3,723.6 L904.3,718.9 L905.3,714.3 L906.3,709.8 L907.3,705.5 L908.3,701.4 L909.3,697.5 L910.3,694 L911.3,690.8 L912.3,688 L913.3,685.6 L914.3,683.8 L915.3,682.4 L916.3,681.5 L917.3,681.1 L918.3,681.2 L919.3,681.9 L920.3,683.2 L921.3,684.9 L922.3,687 L923.3,689.5 L924.3,692.3 L925.3,695.3 L926.3,698.5 L927.3,701.7 L928.3,704.8 L929.3,707.9 L930.3,710.7 L931.3,713.2 L932.3,715.4 L933.3,717.1 L934.3,718.2 L935.3,718.9 L936.3,718.8 L937.3,718.1 L938.3,716.7 L939.3,714.6 L940.3,711.8 L941.3,708.3 L942.3,704.2 L943.3,699.6 L944.3,694.4 L945.3,688.8 L946.3,682.8 L947.3,676.6 L948.3,670.2 L949.3,663.7 L950.3,657.3 L951.3,651 L952.3,645.1 L953.3,639.4 L954.3,634.3 L955.3,629.7 L956.3,625.9 L957.3,622.7 L958.3,620.4 L959.3,619 L960.3,618.4 L961.3,618.8 L962.3,619.9 L963.3,621.9 L964.3,624.7 L965.3,628.2 L966.3,632.4 L967.3,637.3 L968.3,642.8 L969.3,648.8 L970.3,655.2 L971.3,662 L972.3,669 L973.3,676.3 L974.3,683.6 L975.3,690.9 L976.3,698.2 L977.3,705.4 L978.3,712.4 L979.3,719.1 L980.3,725.6 L981.3,731.8 L982.3,737.6 L983.3,743.1 L984.3,748.2 L985.3,752.9 L986.3,757.2 L987.3,761.2 L988.3,764.8 L989.3,768.1 L990.3,771 L991.3,773.7 L992.3,776.1 L993.3,778.3 L994.3,780.3 L995.3,782.1 L996.3,783.7 L997.3,785.2 L998.3,786.6 L999.3,787.8 L1000.3,788.9 L1001.3,789.9 L1002.3,790.7 L1003.3,791.5 L1004.3,792.2 L1005.3,792.9 L1006.3,793.4 L1007.3,793.9 L1008.3,794.3 L1009.3,794.6 L1010.3,794.8 L1011.3,794.9 L1012.3,795 L1013.3,794.9 L1014.3,794.7 L1015.3,794.4 L1016.3,794.1 L1017.3,793.8 L1018.3,793.4 L1019.3,793 L1020.3,792.5 L1021.3,792.1 L1022.3,791.8 L1023.3,791.4 L1024.3,791.1 L1025.3,790.9 L1026.3,790.7 L1027.3,790.6 L1028.3,790.6 L1029.3,790.7 L1030.3,791 L1031.3,791.3 L1032.3,791.7 L1033.3,792.1 L1034.3,792.5 L1035.3,793 L1036.3,793.4 L1037.3,793.8 L1038.3,794 L1039.3,794.3 L1040.3,794.3 L1041.3,794.3 L1042.3,794.2 L1043.3,794 L1044.3,793.7 L1045.3,793.3 L1046.3,793 L1047.3,792.6 L1048.3,792.2 L1049.3,791.9 L1050.3,791.5 L1051.3,791.3 L1052.3,791.1 L1053.3,790.9 L1054.3,790.9 L1055.3,791 L1056.3,791.1 L1057.3,791.2 L1058.3,791.5 L1059.3,791.7 L1060.3,792 L1061.3,792.3 L1062.3,792.7 L1063.3,793 L1064.3,793.4 L1065.3,793.7 L1066.3,794.1 L1067.3,794.4 L1068.3,794.7 L1069.3,794.9 L1070.3,795.1 L1071.3,795.3 L1072.3,795.4 L1073.3,795.4 L1074.3,795.3 L1075.3,795.2 L1076.3,794.9 L1077.3,794.6 L1078.3,794.1 L1079.3,793.6 L1080.3,793 L1081.3,792.4 L1082.3,791.7 L1083.3,791 L1084.3,790.2 L1085.3,789.5 L1086.3,788.8 L1087.3,788.1 L1088.3,787.5 L1089.3,787 L1090.3,786.5 L1091.3,786 L1092.3,785.6 L1093.3,785.1 L1094.3,784.6 L1095.3,784.1 L1096.3,783.6 L1097.3,783.1 L1098.3,782.7 L1099.3,782.2 L1100.3,781.8 L1101.3,781.4 L1102.3,781 L1103.3,780.6 L1104.3,780.3 L1105.3,780 L1106.3,779.8 L1107.3,779.5 L1108.3,779.3 L1109.3,779.2 L1110.3,779 L1111.3,778.9 L1112.3,778.7 L1113.3,778.6 L1114.3,778.4 L1115.3,778.2 L1116.3,778 L1117.3,777.7 L1118.3,777.2 L1119.3,776.7 L1120.3,776 L1121.3,775.2 L1122.3,774.1 L1123.3,772.8 L1124.3,771.1 L1125.3,769.2 L1126.3,766.9 L1127.3,764.2 L1128.3,761.1 L1129.3,757.5 L1130.3,753.4 L1131.3,748.8 L1132.3,743.6 L1133.3,737.8 L1134.3,731.5 L1135.3,724.5 L1136.3,717 L1137.3,709 L1138.3,700.4 L1139.3,691.4 L1140.3,682 L1141.3,672.3 L1142.3,662.3 L1143.3,652.2 L1144.3,642.1 L1145.3,632.1 L1146.3,622.3 L1147.3,612.8 L1148.3,603.8 L1149.3,595.4 L1150.3,587.7 L1151.3,580.8 L1152.3,574.9 L1153.3,570 L1154.3,566.1 L1155.3,563.4 L1156.3,561.8 L1157.3,561.2 L1158.3,561.7 L1159.3,563 L1160.3,565.3 L1161.3,568.4 L1162.3,572.3 L1163.3,576.9 L1164.3,582 L1165.3,587.5 L1166.3,593.4 L1167.3,599.4 L1168.3,605.4 L1169.3,611.4 L1170.3,617.2 L1171.3,622.7 L1172.3,627.7 L1173.3,632.2 L1174.3,636 L1175.3,639.2 L1176.3,641.6 L1177.3,643.1 L1178.3,643.6 L1179.3,643 L1180.3,641.4 L1181.3,638.6 L1182.3,634.9 L1183.3,630.1 L1184.3,624.3 L1185.3,617.6 L1186.3,610.1 L1187.3,601.8 L1188.3,592.9 L1189.3,583.5 L1190.3,573.7 L1191.3,563.7 L1192.3,553.6 L1193.3,543.5 L1194.3,533.6 L1195.3,524.1 L1196.3,515.1 L1197.3,506.7 L1198.3,499.2 L1199.3,492.6 L1200.3,487 L1201.3,482.6 L1202.3,479.4 L1203.3,477.5 L1204.3,477 L1205.3,477.7 L1206.3,479.9 L1207.3,483.4 L1208.3,488.1 L1209.3,494.1 L1210.3,501.2 L1211.3,509.4 L1212.3,518.4 L1213.3,528.3 L1214.3,538.8 L1215.3,549.9 L1216.3,561.4 L1217.3,573.2 L1218.3,585.1 L1219.3,597.1 L1220.3,608.9 L1221.3,620.6 L1222.3,632 L1223.3,643 L1224.3,653.6 L1225.3,663.8 L1226.3,673.4 L1227.3,682.6 L1228.3,691.1 L1229.3,699.1 L1230.3,706.5 L1231.3,713.4 L1232.3,719.8 L1233.3,725.7 L1234.3,731.1 L1235.3,736 L1236.3,740.5 L1237.3,744.6 L1238.3,748.4 L1239.3,751.9 L1240.3,755 L1241.3,757.8 L1242.3,760.4 L1243.3,762.6 L1244.3,764.7 L1245.3,766.6 L1246.3,768.2 L1247.3,769.8 L1248.3,771.3 L1249.3,772.6 L1250.3,773.8 L1251.3,775 L1252.3,776 L1253.3,777 L1254.3,777.8 L1255.3,778.7 L1256.3,779.5 L1257.3,780.2 L1258.3,781 L1259.3,781.7 L1260.3,782.5 L1261.3,783.4 L1262.3,784.4 L1263.3,785.5 L1264.3,786.7 L1265.3,788 L1266.3,789.4 L1267.3,790.7 L1268.3,792.1 L1269.3,793.5 L1270.3,794.8 L1271.3,796.1 L1272.3,797.3 L1273.3,798.5 L1274.3,799.5 L1275.3,800.4 L1276.3,801.1 L1277.3,801.7 L1278.3,802.1 L1279.3,802.2 L1280.3,802 L1281.3,801.6 L1282.3,800.9 L1283.3,800 L1284.3,798.9 L1285.3,797.7 L1286.3,796.4 L1287.3,794.9 L1288.3,793.5 L1289.3,792 L1290.3,790.5 L1291.3,789.1 L1292.3,787.7 L1293.3,786.5 L1294.3,785.4 L1295.3,784.5 L1296.3,783.8 L1297.3,783.3 L1298.3,783.1 L1299.3,783.2 L1300.3,783.5 L1301.3,784 L1302.3,784.6 L1303.3,785.4 L1304.3,786.3 L1305.3,787.3 L1306.3,788.4 L1307.3,789.6 L1308.3,790.8 L1309.3,792.1 L1310.3,793.3 L1311.3,794.6 L1312.3,795.8 L1313.3,796.9 L1314.3,798 L1315.3,799 L1316.3,799.8 L1317.3,800.6 L1318.3,801.2 L1319.3,801.6 L1320.3,801.8 L1321.3,801.9 L1322.3,801.8 L1323.3,801.6 L1324.3,801.4 L1325.3,801.1 L1326.3,800.7 L1327.3,800.4 L1328.3,800 L1329.3,799.7 L1330.3,799.4 L1331.3,799.1 L1332.3,798.9 L1333.3,798.7 L1334.3,798.6 L1335.3,798.6 L1336.3,798.8 L1337.3,799 L1338.3,799.3 L1339.3,799.7 L1340.3,800.1 L1341.3,800.5 L1342.3,800.9 L1343.3,801.3 L1344.3,801.8 L1345.3,802.1 L1346.3,802.4 L1347.3,802.7 L1348.3,802.8 L1349.3,802.9 L1350.3,802.8 L1351.3,802.6 L1352.3,802.3 L1353.3,801.8 L1354.3,801.3 L1355.3,800.6 L1356.3,799.9 L1357.3,799.1 L1358.3,798.2 L1359.3,797.3 L1360.3,796.4 L1361.3,795.5 L1362.3,794.6 L1363.3,793.6 L1364.3,792.8 L1365.3,791.9 L1366.3,791.1 L1367.3,790.4 L1368.3,789.8 L1369.3,789.2 L1370.3,788.8 L1371.3,788.5 L1372.3,788.3 L1373.3,788.2 L1374.3,788.2 L1375.3,788.3 L1376.3,788.5 L1377.3,788.7 L1378.3,788.9 L1379.3,789.2 L1380.3,789.5 L1381.3,789.9 L1382.3,790.2 L1383.3,790.7 L1384.3,791.1 L1385.3,791.5 L1386.3,792 L1387.3,792.4 L1388.3,792.9 L1389.3,793.3 L1390.3,793.7 L1391.3,794.2 L1392.3,794.6 L1393.3,795 L1394.3,795.4 L1395.3,796 L1396.3,796.5 L1397.3,797.1 L1398.3,797.8 L1399.3,798.4 L1400.3,799 L1401.3,799.7 L1402.3,800.3 L1403.3,800.9 L1404.3,801.4 L1405.3,801.9 L1406.3,802.3 L1407.3,802.7 L1408.3,802.9 L1409.3,803 L1410.3,803.1 L1411.3,803 L1412.3,802.9 L1413.3,802.8 L1414.3,802.6 L1415.3,802.3 L1416.3,802 L1417.3,801.6 L1418.3,801.2 L1419.3,800.7 L1420.3,800.2 L1421.3,799.6 L1422.3,799 L1423.3,798.3 L1424.3,797.5" fill="none" stroke="#3c3c3c" stroke-width="1.6"/>
<text x="1260.8" y="476.3" font-size="24.5" text-anchor="start" fill="#111" font-weight="normal" textLength="87.4" lengthAdjust="spacingAndGlyphs" >70S30C</text>
<text x="1348.8" y="482.1" font-size="17" text-anchor="start" fill="#111" font-weight="normal" textLength="33.2" lengthAdjust="spacingAndGlyphs" >CME</text>
<text x="1382.6" y="476.3" font-size="24.5" text-anchor="start" fill="#111" font-weight="normal" textLength="36.3" lengthAdjust="spacingAndGlyphs" >-CL</text>
<path d="M862.3,1234.3 L863.3,1234.2 L864.3,1234.2 L865.3,1234.2 L866.3,1234.2 L867.3,1234.2 L868.3,1234.1 L869.3,1234.1 L870.3,1234.1 L871.3,1234 L872.3,1234 L873.3,1233.9 L874.3,1233.8 L875.3,1233.7 L876.3,1233.6 L877.3,1233.4 L878.3,1233.2 L879.3,1233 L880.3,1232.7 L881.3,1232.4 L882.3,1232 L883.3,1231.6 L884.3,1231 L885.3,1230.4 L886.3,1229.7 L887.3,1228.8 L888.3,1227.8 L889.3,1226.7 L890.3,1225.5 L891.3,1224.1 L892.3,1222.6 L893.3,1220.9 L894.3,1219.1 L895.3,1217.1 L896.3,1215.1 L897.3,1213 L898.3,1210.7 L899.3,1208.5 L900.3,1206.2 L901.3,1204 L902.3,1201.8 L903.3,1199.7 L904.3,1197.7 L905.3,1195.9 L906.3,1194.3 L907.3,1192.9 L908.3,1191.8 L909.3,1191 L910.3,1190.6 L911.3,1190.4 L912.3,1190.6 L913.3,1191 L914.3,1191.8 L915.3,1192.9 L916.3,1194.3 L917.3,1195.9 L918.3,1197.7 L919.3,1199.7 L920.3,1201.8 L921.3,1204 L922.3,1206.2 L923.3,1208.5 L924.3,1210.7 L925.3,1213 L926.3,1215.1 L927.3,1217.1 L928.3,1219.1 L929.3,1220.9 L930.3,1222.6 L931.3,1224.1 L932.3,1225.5 L933.3,1226.7 L934.3,1227.8 L935.3,1228.8 L936.3,1229.7 L937.3,1230.4 L938.3,1231 L939.3,1231.6 L940.3,1232 L941.3,1232.4 L942.3,1232.7 L943.3,1233 L944.3,1233.2 L945.3,1233.4 L946.3,1233.6 L947.3,1233.7 L948.3,1233.8 L949.3,1233.9 L950.3,1234 L951.3,1234 L952.3,1234.1 L953.3,1234.1 L954.3,1234.1 L955.3,1234.2 L956.3,1234.2 L957.3,1234.2 L958.3,1234.2 L959.3,1234.2 L960.3,1234.3" fill="none" stroke="#4a72c4" stroke-width="1.3"/>
<path d="M891.3,1234.3 L892.3,1234.2 L893.3,1234.2 L894.3,1234.2 L895.3,1234.2 L896.3,1234.2 L897.3,1234.1 L898.3,1234.1 L899.3,1234.1 L900.3,1234.1 L901.3,1234 L902.3,1234 L903.3,1233.9 L904.3,1233.9 L905.3,1233.9 L906.3,1233.8 L907.3,1233.7 L908.3,1233.7 L909.3,1233.6 L910.3,1233.5 L911.3,1233.4 L912.3,1233.3 L913.3,1233.2 L914.3,1233 L915.3,1232.9 L916.3,1232.6 L917.3,1232.4 L918.3,1232.1 L919.3,1231.8 L920.3,1231.3 L921.3,1230.9 L922.3,1230.3 L923.3,1229.6 L924.3,1228.8 L925.3,1227.9 L926.3,1226.9 L927.3,1225.6 L928.3,1224.2 L929.3,1222.6 L930.3,1220.8 L931.3,1218.8 L932.3,1216.5 L933.3,1214 L934.3,1211.2 L935.3,1208.1 L936.3,1204.8 L937.3,1201.2 L938.3,1197.4 L939.3,1193.4 L940.3,1189.2 L941.3,1184.9 L942.3,1180.4 L943.3,1175.8 L944.3,1171.2 L945.3,1166.7 L946.3,1162.2 L947.3,1157.9 L948.3,1153.8 L949.3,1150 L950.3,1146.5 L951.3,1143.5 L952.3,1140.9 L953.3,1138.8 L954.3,1137.2 L955.3,1136.2 L956.3,1135.8 L957.3,1136 L958.3,1136.8 L959.3,1138.1 L960.3,1140 L961.3,1142.4 L962.3,1145.3 L963.3,1148.6 L964.3,1152.3 L965.3,1156.2 L966.3,1160.5 L967.3,1164.9 L968.3,1169.4 L969.3,1174 L970.3,1178.5 L971.3,1183.1 L972.3,1187.5 L973.3,1191.8 L974.3,1195.9 L975.3,1199.8 L976.3,1203.4 L977.3,1206.8 L978.3,1210 L979.3,1212.9 L980.3,1215.5 L981.3,1217.9 L982.3,1220 L983.3,1221.9 L984.3,1223.6 L985.3,1225.1 L986.3,1226.4 L987.3,1227.5 L988.3,1228.5 L989.3,1229.3 L990.3,1230 L991.3,1230.6 L992.3,1231.2 L993.3,1231.6 L994.3,1232 L995.3,1232.3 L996.3,1232.5 L997.3,1232.8 L998.3,1233 L999.3,1233.1 L1000.3,1233.3 L1001.3,1233.4 L1002.3,1233.5 L1003.3,1233.6 L1004.3,1233.6 L1005.3,1233.7 L1006.3,1233.8 L1007.3,1233.8 L1008.3,1233.9 L1009.3,1233.9 L1010.3,1234 L1011.3,1234 L1012.3,1234 L1013.3,1234.1 L1014.3,1234.1 L1015.3,1234.1 L1016.3,1234.2 L1017.3,1234.2 L1018.3,1234.2 L1019.3,1234.2 L1020.3,1234.2 L1021.3,1234.2 L1022.3,1234.3" fill="none" stroke="#4a72c4" stroke-width="1.3"/>
<path d="M1059.3,1234.3 L1060.3,1234.2 L1061.3,1234.2 L1062.3,1234.2 L1063.3,1234.2 L1064.3,1234.1 L1065.3,1234.1 L1066.3,1234 L1067.3,1233.9 L1068.3,1233.8 L1069.3,1233.7 L1070.3,1233.6 L1071.3,1233.4 L1072.3,1233.2 L1073.3,1233 L1074.3,1232.7 L1075.3,1232.3 L1076.3,1231.9 L1077.3,1231.3 L1078.3,1230.7 L1079.3,1230 L1080.3,1229.2 L1081.3,1228.2 L1082.3,1227.2 L1083.3,1226 L1084.3,1224.7 L1085.3,1223.3 L1086.3,1221.8 L1087.3,1220.2 L1088.3,1218.6 L1089.3,1216.9 L1090.3,1215.1 L1091.3,1213.4 L1092.3,1211.7 L1093.3,1210.2 L1094.3,1208.7 L1095.3,1207.3 L1096.3,1206.2 L1097.3,1205.3 L1098.3,1204.5 L1099.3,1204.1 L1100.3,1203.9 L1101.3,1204 L1102.3,1204.3 L1103.3,1204.9 L1104.3,1205.8 L1105.3,1206.9 L1106.3,1208.1 L1107.3,1209.5 L1108.3,1211.1 L1109.3,1212.7 L1110.3,1214.4 L1111.3,1216.2 L1112.3,1217.9 L1113.3,1219.6 L1114.3,1221.2 L1115.3,1222.7 L1116.3,1224.2 L1117.3,1225.5 L1118.3,1226.7 L1119.3,1227.8 L1120.3,1228.8 L1121.3,1229.7 L1122.3,1230.4 L1123.3,1231.1 L1124.3,1231.7 L1125.3,1232.1 L1126.3,1232.5 L1127.3,1232.9 L1128.3,1233.1 L1129.3,1233.4 L1130.3,1233.5 L1131.3,1233.7 L1132.3,1233.8 L1133.3,1233.9 L1134.3,1234 L1135.3,1234 L1136.3,1234.1 L1137.3,1234.1 L1138.3,1234.2 L1139.3,1234.2 L1140.3,1234.2 L1141.3,1234.2 L1142.3,1234.3" fill="none" stroke="#4a72c4" stroke-width="1.3"/>
<path d="M1086.3,1234.3 L1087.3,1234.2 L1088.3,1234.2 L1089.3,1234.2 L1090.3,1234.1 L1091.3,1234.1 L1092.3,1234 L1093.3,1234 L1094.3,1233.9 L1095.3,1233.9 L1096.3,1233.8 L1097.3,1233.7 L1098.3,1233.6 L1099.3,1233.5 L1100.3,1233.3 L1101.3,1233.2 L1102.3,1233 L1103.3,1232.9 L1104.3,1232.7 L1105.3,1232.5 L1106.3,1232.2 L1107.3,1232 L1108.3,1231.7 L1109.3,1231.4 L1110.3,1231 L1111.3,1230.7 L1112.3,1230.2 L1113.3,1229.8 L1114.3,1229.3 L1115.3,1228.8 L1116.3,1228.2 L1117.3,1227.5 L1118.3,1226.8 L1119.3,1226 L1120.3,1225.1 L1121.3,1224.1 L1122.3,1223 L1123.3,1221.7 L1124.3,1220.2 L1125.3,1218.5 L1126.3,1216.5 L1127.3,1214.1 L1128.3,1211.4 L1129.3,1208.2 L1130.3,1204.5 L1131.3,1200.2 L1132.3,1195.2 L1133.3,1189.4 L1134.3,1182.7 L1135.3,1175.1 L1136.3,1166.6 L1137.3,1156.9 L1138.3,1146.3 L1139.3,1134.5 L1140.3,1121.8 L1141.3,1108 L1142.3,1093.4 L1143.3,1078.1 L1144.3,1062.2 L1145.3,1046 L1146.3,1029.8 L1147.3,1013.8 L1148.3,998.3 L1149.3,983.7 L1150.3,970.3 L1151.3,958.3 L1152.3,948.2 L1153.3,940.1 L1154.3,934.2 L1155.3,930.7 L1156.3,929.7 L1157.3,931.2 L1158.3,935.2 L1159.3,941.5 L1160.3,950.1 L1161.3,960.6 L1162.3,972.8 L1163.3,986.5 L1164.3,1001.3 L1165.3,1016.9 L1166.3,1033 L1167.3,1049.3 L1168.3,1065.4 L1169.3,1081.2 L1170.3,1096.4 L1171.3,1110.8 L1172.3,1124.4 L1173.3,1137 L1174.3,1148.5 L1175.3,1159 L1176.3,1168.4 L1177.3,1176.7 L1178.3,1184.1 L1179.3,1190.6 L1180.3,1196.2 L1181.3,1201.1 L1182.3,1205.3 L1183.3,1208.9 L1184.3,1212 L1185.3,1214.6 L1186.3,1216.9 L1187.3,1218.9 L1188.3,1220.5 L1189.3,1222 L1190.3,1223.2 L1191.3,1224.4 L1192.3,1225.3 L1193.3,1226.2 L1194.3,1227 L1195.3,1227.7 L1196.3,1228.3 L1197.3,1228.9 L1198.3,1229.4 L1199.3,1229.9 L1200.3,1230.3 L1201.3,1230.7 L1202.3,1231.1 L1203.3,1231.4 L1204.3,1231.7 L1205.3,1232 L1206.3,1232.3 L1207.3,1232.5 L1208.3,1232.7 L1209.3,1232.9 L1210.3,1233.1 L1211.3,1233.2 L1212.3,1233.4 L1213.3,1233.5 L1214.3,1233.6 L1215.3,1233.7 L1216.3,1233.8 L1217.3,1233.9 L1218.3,1233.9 L1219.3,1234 L1220.3,1234.1 L1221.3,1234.1 L1222.3,1234.1 L1223.3,1234.2 L1224.3,1234.2 L1225.3,1234.2 L1226.3,1234.3" fill="none" stroke="#4a72c4" stroke-width="1.3"/>
<path d="M1102.3,1234.3 L1103.3,1234.2 L1104.3,1234.2 L1105.3,1234.2 L1106.3,1234.2 L1107.3,1234.2 L1108.3,1234.2 L1109.3,1234.1 L1110.3,1234.1 L1111.3,1234.1 L1112.3,1234.1 L1113.3,1234 L1114.3,1234 L1115.3,1234 L1116.3,1233.9 L1117.3,1233.9 L1118.3,1233.9 L1119.3,1233.8 L1120.3,1233.8 L1121.3,1233.7 L1122.3,1233.7 L1123.3,1233.6 L1124.3,1233.6 L1125.3,1233.5 L1126.3,1233.5 L1127.3,1233.4 L1128.3,1233.3 L1129.3,1233.2 L1130.3,1233.2 L1131.3,1233.1 L1132.3,1233 L1133.3,1232.9 L1134.3,1232.8 L1135.3,1232.7 L1136.3,1232.6 L1137.3,1232.4 L1138.3,1232.3 L1139.3,1232.1 L1140.3,1232 L1141.3,1231.8 L1142.3,1231.6 L1143.3,1231.4 L1144.3,1231.2 L1145.3,1230.9 L1146.3,1230.6 L1147.3,1230.3 L1148.3,1230 L1149.3,1229.6 L1150.3,1229.1 L1151.3,1228.6 L1152.3,1228.1 L1153.3,1227.4 L1154.3,1226.7 L1155.3,1225.9 L1156.3,1225 L1157.3,1224 L1158.3,1222.9 L1159.3,1221.6 L1160.3,1220.2 L1161.3,1218.5 L1162.3,1216.7 L1163.3,1214.7 L1164.3,1212.5 L1165.3,1210 L1166.3,1207.2 L1167.3,1204.2 L1168.3,1200.9 L1169.3,1197.2 L1170.3,1193.2 L1171.3,1188.9 L1172.3,1184.2 L1173.3,1179.1 L1174.3,1173.6 L1175.3,1167.8 L1176.3,1161.5 L1177.3,1154.9 L1178.3,1147.9 L1179.3,1140.6 L1180.3,1132.9 L1181.3,1124.9 L1182.3,1116.6 L1183.3,1108 L1184.3,1099.3 L1185.3,1090.3 L1186.3,1081.3 L1187.3,1072.2 L1188.3,1063 L1189.3,1054 L1190.3,1045 L1191.3,1036.3 L1192.3,1027.8 L1193.3,1019.6 L1194.3,1011.9 L1195.3,1004.6 L1196.3,997.9 L1197.3,991.7 L1198.3,986.3 L1199.3,981.5 L1200.3,977.6 L1201.3,974.4 L1202.3,972 L1203.3,970.5 L1204.3,969.9 L1205.3,970.2 L1206.3,971.3 L1207.3,973.3 L1208.3,976.2 L1209.3,979.9 L1210.3,984.3 L1211.3,989.5 L1212.3,995.3 L1213.3,1001.8 L1214.3,1008.9 L1215.3,1016.5 L1216.3,1024.5 L1217.3,1032.8 L1218.3,1041.5 L1219.3,1050.4 L1220.3,1059.4 L1221.3,1068.5 L1222.3,1077.6 L1223.3,1086.7 L1224.3,1095.7 L1225.3,1104.6 L1226.3,1113.2 L1227.3,1121.6 L1228.3,1129.7 L1229.3,1137.6 L1230.3,1145 L1231.3,1152.2 L1232.3,1158.9 L1233.3,1165.3 L1234.3,1171.3 L1235.3,1176.9 L1236.3,1182.2 L1237.3,1187 L1238.3,1191.5 L1239.3,1195.6 L1240.3,1199.4 L1241.3,1202.9 L1242.3,1206.1 L1243.3,1208.9 L1244.3,1211.5 L1245.3,1213.9 L1246.3,1216 L1247.3,1217.8 L1248.3,1219.5 L1249.3,1221 L1250.3,1222.4 L1251.3,1223.6 L1252.3,1224.7 L1253.3,1225.6 L1254.3,1226.4 L1255.3,1227.2 L1256.3,1227.8 L1257.3,1228.4 L1258.3,1228.9 L1259.3,1229.4 L1260.3,1229.8 L1261.3,1230.2 L1262.3,1230.5 L1263.3,1230.8 L1264.3,1231.1 L1265.3,1231.3 L1266.3,1231.5 L1267.3,1231.7 L1268.3,1231.9 L1269.3,1232.1 L1270.3,1232.2 L1271.3,1232.4 L1272.3,1232.5 L1273.3,1232.6 L1274.3,1232.7 L1275.3,1232.8 L1276.3,1232.9 L1277.3,1233 L1278.3,1233.1 L1279.3,1233.2 L1280.3,1233.3 L1281.3,1233.4 L1282.3,1233.4 L1283.3,1233.5 L1284.3,1233.6 L1285.3,1233.6 L1286.3,1233.7 L1287.3,1233.7 L1288.3,1233.8 L1289.3,1233.8 L1290.3,1233.9 L1291.3,1233.9 L1292.3,1233.9 L1293.3,1234 L1294.3,1234 L1295.3,1234 L1296.3,1234.1 L1297.3,1234.1 L1298.3,1234.1 L1299.3,1234.1 L1300.3,1234.2 L1301.3,1234.2 L1302.3,1234.2 L1303.3,1234.2 L1304.3,1234.2 L1305.3,1234.2 L1306.3,1234.3" fill="none" stroke="#4a72c4" stroke-width="1.3"/>
<line x1="763.3" y1="1234.4" x2="1424.5" y2="1234.4" stroke="#2c4a9a" stroke-width="1.6"/>
<path d="M763.3,1215.1 L764.3,1215.1 L765.3,1215.1 L766.3,1215.1 L767.3,1215.1 L768.3,1215.1 L769.3,1215.1 L770.3,1215.1 L771.3,1215.1 L772.3,1215.1 L773.3,1215.1 L774.3,1215.1 L775.3,1215.1 L776.3,1215.1 L777.3,1215.1 L778.3,1215.1 L779.3,1215.1 L780.3,1215.1 L781.3,1215.1 L782.3,1215.1 L783.3,1215.1 L784.3,1215.1 L785.3,1215.1 L786.3,1215.1 L787.3,1215.1 L788.3,1215.1 L789.3,1215.1 L790.3,1215.1 L791.3,1215.1 L792.3,1215.1 L793.3,1215.1 L794.3,1215.1 L795.3,1215.1 L796.3,1215.1 L797.3,1215.1 L798.3,1215.1 L799.3,1215.1 L800.3,1215.1 L801.3,1215.1 L802.3,1215.1 L803.3,1215.1 L804.3,1215.1 L805.3,1215.1 L806.3,1215.1 L807.3,1215.1 L808.3,1215.1 L809.3,1215.1 L810.3,1215.1 L811.3,1215.1 L812.3,1215.1 L813.3,1215.1 L814.3,1215.1 L815.3,1215.1 L816.3,1215.1 L817.3,1215.1 L818.3,1215 L819.3,1215 L820.3,1215 L821.3,1215 L822.3,1215 L823.3,1215 L824.3,1215 L825.3,1215 L826.3,1215 L827.3,1215 L828.3,1215 L829.3,1215 L830.3,1215 L831.3,1215 L832.3,1215 L833.3,1215 L834.3,1215 L835.3,1215 L836.3,1215 L837.3,1215 L838.3,1215 L839.3,1215 L840.3,1215 L841.3,1215 L842.3,1215 L843.3,1215 L844.3,1215 L845.3,1215 L846.3,1214.9 L847.3,1214.9 L848.3,1214.9 L849.3,1214.9 L850.3,1214.9 L851.3,1214.9 L852.3,1214.9 L853.3,1214.9 L854.3,1214.9 L855.3,1214.9 L856.3,1214.9 L857.3,1214.8 L858.3,1214.8 L859.3,1214.8 L860.3,1214.8 L861.3,1214.8 L862.3,1214.8 L863.3,1214.7 L864.3,1214.7 L865.3,1214.7 L866.3,1214.7 L867.3,1214.6 L868.3,1214.6 L869.3,1214.6 L870.3,1214.5 L871.3,1214.5 L872.3,1214.4 L873.3,1214.3 L874.3,1214.2 L875.3,1214.1 L876.3,1214 L877.3,1213.8 L878.3,1213.6 L879.3,1213.4 L880.3,1213.1 L881.3,1212.8 L882.3,1212.4 L883.3,1211.9 L884.3,1211.3 L885.3,1210.7 L886.3,1209.9 L887.3,1209.1 L888.3,1208.1 L889.3,1206.9 L890.3,1205.7 L891.3,1204.3 L892.3,1202.7 L893.3,1201 L894.3,1199.2 L895.3,1197.2 L896.3,1195.2 L897.3,1193 L898.3,1190.7 L899.3,1188.4 L900.3,1186.1 L901.3,1183.8 L902.3,1181.6 L903.3,1179.4 L904.3,1177.4 L905.3,1175.6 L906.3,1173.9 L907.3,1172.5 L908.3,1171.3 L909.3,1170.4 L910.3,1169.9 L911.3,1169.6 L912.3,1169.6 L913.3,1169.9 L914.3,1170.5 L915.3,1171.4 L916.3,1172.4 L917.3,1173.7 L918.3,1175.1 L919.3,1176.6 L920.3,1178.2 L921.3,1179.8 L922.3,1181.4 L923.3,1182.9 L924.3,1184.3 L925.3,1185.6 L926.3,1186.6 L927.3,1187.4 L928.3,1188 L929.3,1188.2 L930.3,1188 L931.3,1187.5 L932.3,1186.6 L933.3,1185.3 L934.3,1183.7 L935.3,1181.6 L936.3,1179.2 L937.3,1176.3 L938.3,1173.2 L939.3,1169.7 L940.3,1166 L941.3,1162 L942.3,1157.9 L943.3,1153.6 L944.3,1149.2 L945.3,1144.9 L946.3,1140.6 L947.3,1136.4 L948.3,1132.4 L949.3,1128.7 L950.3,1125.4 L951.3,1122.4 L952.3,1119.8 L953.3,1117.8 L954.3,1116.3 L955.3,1115.3 L956.3,1114.9 L957.3,1115.2 L958.3,1116 L959.3,1117.3 L960.3,1119.3 L961.3,1121.7 L962.3,1124.6 L963.3,1128 L964.3,1131.7 L965.3,1135.7 L966.3,1139.9 L967.3,1144.4 L968.3,1148.9 L969.3,1153.5 L970.3,1158.2 L971.3,1162.7 L972.3,1167.2 L973.3,1171.5 L974.3,1175.6 L975.3,1179.5 L976.3,1183.2 L977.3,1186.7 L978.3,1189.9 L979.3,1192.8 L980.3,1195.4 L981.3,1197.9 L982.3,1200 L983.3,1201.9 L984.3,1203.7 L985.3,1205.2 L986.3,1206.5 L987.3,1207.6 L988.3,1208.6 L989.3,1209.5 L990.3,1210.2 L991.3,1210.8 L992.3,1211.4 L993.3,1211.8 L994.3,1212.2 L995.3,1212.5 L996.3,1212.8 L997.3,1213 L998.3,1213.2 L999.3,1213.4 L1000.3,1213.6 L1001.3,1213.7 L1002.3,1213.8 L1003.3,1213.9 L1004.3,1213.9 L1005.3,1214 L1006.3,1214 L1007.3,1214.1 L1008.3,1214.1 L1009.3,1214.1 L1010.3,1214.1 L1011.3,1214.1 L1012.3,1214.1 L1013.3,1214.1 L1014.3,1214.1 L1015.3,1214.1 L1016.3,1214.1 L1017.3,1214.1 L1018.3,1214.1 L1019.3,1214.1 L1020.3,1214 L1021.3,1214 L1022.3,1214 L1023.3,1213.9 L1024.3,1213.9 L1025.3,1213.9 L1026.3,1213.8 L1027.3,1213.8 L1028.3,1213.7 L1029.3,1213.7 L1030.3,1213.7 L1031.3,1213.6 L1032.3,1213.6 L1033.3,1213.5 L1034.3,1213.5 L1035.3,1213.4 L1036.3,1213.3 L1037.3,1213.3 L1038.3,1213.2 L1039.3,1213.2 L1040.3,1213.1 L1041.3,1213.1 L1042.3,1213 L1043.3,1213 L1044.3,1212.9 L1045.3,1212.8 L1046.3,1212.8 L1047.3,1212.7 L1048.3,1212.7 L1049.3,1212.6 L1050.3,1212.6 L1051.3,1212.5 L1052.3,1212.5 L1053.3,1212.4 L1054.3,1212.3 L1055.3,1212.3 L1056.3,1212.2 L1057.3,1212.2 L1058.3,1212.1 L1059.3,1212.1 L1060.3,1212 L1061.3,1212 L1062.3,1211.9 L1063.3,1211.8 L1064.3,1211.8 L1065.3,1211.7 L1066.3,1211.6 L1067.3,1211.5 L1068.3,1211.4 L1069.3,1211.3 L1070.3,1211.1 L1071.3,1210.9 L1072.3,1210.7 L1073.3,1210.5 L1074.3,1210.1 L1075.3,1209.8 L1076.3,1209.3 L1077.3,1208.8 L1078.3,1208.2 L1079.3,1207.4 L1080.3,1206.6 L1081.3,1205.7 L1082.3,1204.6 L1083.3,1203.5 L1084.3,1202.2 L1085.3,1200.8 L1086.3,1199.2 L1087.3,1197.6 L1088.3,1196 L1089.3,1194.2 L1090.3,1192.5 L1091.3,1190.8 L1092.3,1189.1 L1093.3,1187.4 L1094.3,1185.9 L1095.3,1184.5 L1096.3,1183.3 L1097.3,1182.3 L1098.3,1181.5 L1099.3,1181 L1100.3,1180.7 L1101.3,1180.7 L1102.3,1181 L1103.3,1181.6 L1104.3,1182.5 L1105.3,1183.5 L1106.3,1184.8 L1107.3,1186.2 L1108.3,1187.8 L1109.3,1189.4 L1110.3,1191 L1111.3,1192.6 L1112.3,1194.2 L1113.3,1195.7 L1114.3,1197.1 L1115.3,1198.3 L1116.3,1199.3 L1117.3,1200.2 L1118.3,1200.8 L1119.3,1201.1 L1120.3,1201.2 L1121.3,1201.1 L1122.3,1200.7 L1123.3,1200 L1124.3,1199.1 L1125.3,1197.8 L1126.3,1196.1 L1127.3,1194.1 L1128.3,1191.6 L1129.3,1188.6 L1130.3,1185 L1131.3,1180.7 L1132.3,1175.7 L1133.3,1170 L1134.3,1163.3 L1135.3,1155.7 L1136.3,1147.1 L1137.3,1137.4 L1138.3,1126.6 L1139.3,1114.7 L1140.3,1101.8 L1141.3,1088 L1142.3,1073.2 L1143.3,1057.7 L1144.3,1041.6 L1145.3,1025.2 L1146.3,1008.7 L1147.3,992.4 L1148.3,976.6 L1149.3,961.6 L1150.3,947.8 L1151.3,935.4 L1152.3,924.8 L1153.3,916.1 L1154.3,909.5 L1155.3,905.3 L1156.3,903.4 L1157.3,904 L1158.3,907 L1159.3,912.3 L1160.3,919.7 L1161.3,928.9 L1162.3,939.7 L1163.3,951.8 L1164.3,964.7 L1165.3,978.3 L1166.3,992 L1167.3,1005.7 L1168.3,1018.9 L1169.3,1031.4 L1170.3,1043 L1171.3,1053.5 L1172.3,1062.6 L1173.3,1070.4 L1174.3,1076.6 L1175.3,1081.4 L1176.3,1084.6 L1177.3,1086.4 L1178.3,1086.7 L1179.3,1085.6 L1180.3,1083.3 L1181.3,1079.8 L1182.3,1075.3 L1183.3,1070 L1184.3,1063.8 L1185.3,1057 L1186.3,1049.6 L1187.3,1041.8 L1188.3,1033.8 L1189.3,1025.5 L1190.3,1017.2 L1191.3,1009 L1192.3,1000.8 L1193.3,992.9 L1194.3,985.4 L1195.3,978.3 L1196.3,971.6 L1197.3,965.6 L1198.3,960.2 L1199.3,955.6 L1200.3,951.7 L1201.3,948.7 L1202.3,946.5 L1203.3,945.2 L1204.3,944.9 L1205.3,945.4 L1206.3,946.8 L1207.3,949.1 L1208.3,952.2 L1209.3,956 L1210.3,960.7 L1211.3,966 L1212.3,972 L1213.3,978.7 L1214.3,985.9 L1215.3,993.6 L1216.3,1001.7 L1217.3,1010.2 L1218.3,1018.9 L1219.3,1027.9 L1220.3,1037 L1221.3,1046.2 L1222.3,1055.4 L1223.3,1064.6 L1224.3,1073.7 L1225.3,1082.6 L1226.3,1091.3 L1227.3,1099.8 L1228.3,1108 L1229.3,1115.8 L1230.3,1123.4 L1231.3,1130.6 L1232.3,1137.4 L1233.3,1143.9 L1234.3,1149.9 L1235.3,1155.6 L1236.3,1160.9 L1237.3,1165.8 L1238.3,1170.3 L1239.3,1174.5 L1240.3,1178.4 L1241.3,1181.9 L1242.3,1185.1 L1243.3,1188 L1244.3,1190.7 L1245.3,1193.1 L1246.3,1195.2 L1247.3,1197.2 L1248.3,1198.9 L1249.3,1200.5 L1250.3,1201.9 L1251.3,1203.1 L1252.3,1204.2 L1253.3,1205.2 L1254.3,1206.1 L1255.3,1206.9 L1256.3,1207.6 L1257.3,1208.3 L1258.3,1208.8 L1259.3,1209.3 L1260.3,1209.8 L1261.3,1210.2 L1262.3,1210.6 L1263.3,1210.9 L1264.3,1211.2 L1265.3,1211.5 L1266.3,1211.7 L1267.3,1212 L1268.3,1212.2 L1269.3,1212.4 L1270.3,1212.5 L1271.3,1212.7 L1272.3,1212.9 L1273.3,1213 L1274.3,1213.1 L1275.3,1213.3 L1276.3,1213.4 L1277.3,1213.5 L1278.3,1213.6 L1279.3,1213.6 L1280.3,1213.7 L1281.3,1213.8 L1282.3,1213.9 L1283.3,1213.9 L1284.3,1214 L1285.3,1214 L1286.3,1214.1 L1287.3,1214.2 L1288.3,1214.2 L1289.3,1214.2 L1290.3,1214.3 L1291.3,1214.3 L1292.3,1214.4 L1293.3,1214.4 L1294.3,1214.4 L1295.3,1214.5 L1296.3,1214.5 L1297.3,1214.5 L1298.3,1214.5 L1299.3,1214.6 L1300.3,1214.6 L1301.3,1214.6 L1302.3,1214.6 L1303.3,1214.6 L1304.3,1214.7 L1305.3,1214.7 L1306.3,1214.7 L1307.3,1214.7 L1308.3,1214.7 L1309.3,1214.7 L1310.3,1214.7 L1311.3,1214.7 L1312.3,1214.7 L1313.3,1214.8 L1314.3,1214.8 L1315.3,1214.8 L1316.3,1214.8 L1317.3,1214.8 L1318.3,1214.8 L1319.3,1214.8 L1320.3,1214.8 L1321.3,1214.8 L1322.3,1214.8 L1323.3,1214.8 L1324.3,1214.8 L1325.3,1214.8 L1326.3,1214.8 L1327.3,1214.8 L1328.3,1214.8 L1329.3,1214.8 L1330.3,1214.8 L1331.3,1214.8 L1332.3,1214.8 L1333.3,1214.8 L1334.3,1214.8 L1335.3,1214.8 L1336.3,1214.8 L1337.3,1214.8 L1338.3,1214.8 L1339.3,1214.8 L1340.3,1214.8 L1341.3,1214.8 L1342.3,1214.8 L1343.3,1214.8 L1344.3,1214.8 L1345.3,1214.8 L1346.3,1214.8 L1347.3,1214.8 L1348.3,1214.8 L1349.3,1214.8 L1350.3,1214.8 L1351.3,1214.8 L1352.3,1214.8 L1353.3,1214.8 L1354.3,1214.8 L1355.3,1214.8 L1356.3,1214.8 L1357.3,1214.8 L1358.3,1214.8 L1359.3,1214.8 L1360.3,1214.8 L1361.3,1214.8 L1362.3,1214.8 L1363.3,1214.8 L1364.3,1214.8 L1365.3,1214.8 L1366.3,1214.8 L1367.3,1214.8 L1368.3,1214.8 L1369.3,1214.8 L1370.3,1214.8 L1371.3,1214.8 L1372.3,1214.8 L1373.3,1214.8 L1374.3,1214.8 L1375.3,1214.8 L1376.3,1214.8 L1377.3,1214.8 L1378.3,1214.8 L1379.3,1214.8 L1380.3,1214.8 L1381.3,1214.8 L1382.3,1214.8 L1383.3,1214.8 L1384.3,1214.8 L1385.3,1214.8 L1386.3,1214.8 L1387.3,1214.8 L1388.3,1214.8 L1389.3,1214.8 L1390.3,1214.8 L1391.3,1214.8 L1392.3,1214.8 L1393.3,1214.8 L1394.3,1214.8 L1395.3,1214.8 L1396.3,1214.8 L1397.3,1214.8 L1398.3,1214.8 L1399.3,1214.8 L1400.3,1214.8 L1401.3,1214.8 L1402.3,1214.8 L1403.3,1214.8 L1404.3,1214.8 L1405.3,1214.8 L1406.3,1214.8 L1407.3,1214.8 L1408.3,1214.8 L1409.3,1214.8 L1410.3,1214.8 L1411.3,1214.8 L1412.3,1214.8 L1413.3,1214.8 L1414.3,1214.8 L1415.3,1214.8 L1416.3,1214.8 L1417.3,1214.8 L1418.3,1214.8 L1419.3,1214.8 L1420.3,1214.8 L1421.3,1214.8 L1422.3,1214.8 L1423.3,1214.8 L1424.3,1214.8" fill="none" stroke="#e0605a" stroke-width="1.5"/>
<path d="M763.3,1193.2 L764.3,1195.5 L765.3,1196.6 L766.3,1196.5 L767.3,1196.2 L768.3,1195.8 L769.3,1195.2 L770.3,1194.4 L771.3,1193.6 L772.3,1192.8 L773.3,1191.9 L774.3,1191.1 L775.3,1190.2 L776.3,1189.5 L777.3,1188.8 L778.3,1188.2 L779.3,1187.8 L780.3,1187.6 L781.3,1187.6 L782.3,1187.9 L783.3,1188.3 L784.3,1188.9 L785.3,1189.7 L786.3,1190.5 L787.3,1191.4 L788.3,1192.4 L789.3,1193.3 L790.3,1194.2 L791.3,1195 L792.3,1195.6 L793.3,1196.2 L794.3,1196.5 L795.3,1196.6 L796.3,1196.4 L797.3,1196 L798.3,1195.4 L799.3,1194.6 L800.3,1193.6 L801.3,1192.6 L802.3,1191.5 L803.3,1190.4 L804.3,1189.3 L805.3,1188.2 L806.3,1187.3 L807.3,1186.4 L808.3,1185.8 L809.3,1185.3 L810.3,1185.1 L811.3,1185.1 L812.3,1185.5 L813.3,1186.2 L814.3,1187 L815.3,1188.1 L816.3,1189.2 L817.3,1190.5 L818.3,1191.8 L819.3,1193.2 L820.3,1194.5 L821.3,1195.7 L822.3,1196.9 L823.3,1197.9 L824.3,1198.6 L825.3,1199.2 L826.3,1199.4 L827.3,1199.4 L828.3,1199 L829.3,1198.5 L830.3,1197.7 L831.3,1196.9 L832.3,1195.8 L833.3,1194.7 L834.3,1193.6 L835.3,1192.4 L836.3,1191.3 L837.3,1190.2 L838.3,1189.3 L839.3,1188.4 L840.3,1187.8 L841.3,1187.3 L842.3,1187.1 L843.3,1187.1 L844.3,1187.5 L845.3,1188.1 L846.3,1188.8 L847.3,1189.8 L848.3,1190.8 L849.3,1192 L850.3,1193.2 L851.3,1194.3 L852.3,1195.5 L853.3,1196.6 L854.3,1197.5 L855.3,1198.3 L856.3,1198.9 L857.3,1199.2 L858.3,1199.3 L859.3,1199.1 L860.3,1198.6 L861.3,1197.9 L862.3,1197 L863.3,1196 L864.3,1194.8 L865.3,1193.5 L866.3,1192.2 L867.3,1190.9 L868.3,1189.6 L869.3,1188.3 L870.3,1187.2 L871.3,1186.1 L872.3,1185.2 L873.3,1184.5 L874.3,1184 L875.3,1183.8 L876.3,1183.9 L877.3,1184.2 L878.3,1184.8 L879.3,1185.6 L880.3,1186.4 L881.3,1187.3 L882.3,1188.1 L883.3,1188.8 L884.3,1189.4 L885.3,1189.7 L886.3,1189.7 L887.3,1189.4 L888.3,1188.6 L889.3,1187.4 L890.3,1185.8 L891.3,1184 L892.3,1181.9 L893.3,1179.7 L894.3,1177.4 L895.3,1175 L896.3,1172.7 L897.3,1170.5 L898.3,1168.2 L899.3,1165.9 L900.3,1163.6 L901.3,1161.3 L902.3,1159.1 L903.3,1156.9 L904.3,1154.9 L905.3,1153.1 L906.3,1151.4 L907.3,1150 L908.3,1148.8 L909.3,1147.9 L910.3,1147.4 L911.3,1147.1 L912.3,1147.1 L913.3,1147.4 L914.3,1148 L915.3,1148.9 L916.3,1149.9 L917.3,1151.2 L918.3,1152.6 L919.3,1154.1 L920.3,1155.7 L921.3,1157.3 L922.3,1158.9 L923.3,1160.4 L924.3,1161.8 L925.3,1163.1 L926.3,1164.1 L927.3,1164.9 L928.3,1165.5 L929.3,1165.7 L930.3,1165.5 L931.3,1165 L932.3,1164.1 L933.3,1162.8 L934.3,1161.2 L935.3,1159.1 L936.3,1156.7 L937.3,1153.8 L938.3,1150.7 L939.3,1147.2 L940.3,1143.5 L941.3,1139.5 L942.3,1135.4 L943.3,1131.1 L944.3,1126.7 L945.3,1122.4 L946.3,1118.1 L947.3,1113.9 L948.3,1109.9 L949.3,1106.2 L950.3,1102.9 L951.3,1099.9 L952.3,1097.3 L953.3,1095.3 L954.3,1093.8 L955.3,1092.8 L956.3,1092.4 L957.3,1092.7 L958.3,1093.5 L959.3,1094.8 L960.3,1096.8 L961.3,1099.2 L962.3,1102.1 L963.3,1105.5 L964.3,1109.2 L965.3,1113.2 L966.3,1117.4 L967.3,1121.9 L968.3,1126.4 L969.3,1131 L970.3,1135.7 L971.3,1140.2 L972.3,1144.7 L973.3,1149 L974.3,1153.1 L975.3,1157 L976.3,1160.7 L977.3,1164.2 L978.3,1167.4 L979.3,1170.3 L980.3,1172.9 L981.3,1174.6 L982.3,1175.6 L983.3,1176.1 L984.3,1176.6 L985.3,1177.3 L986.3,1178.5 L987.3,1179.6 L988.3,1180.6 L989.3,1181.5 L990.3,1182.2 L991.3,1182.8 L992.3,1183.4 L993.3,1183.8 L994.3,1184.2 L995.3,1184.5 L996.3,1184.9 L997.3,1185.4 L998.3,1186 L999.3,1186.8 L1000.3,1187.8 L1001.3,1188.8 L1002.3,1189.9 L1003.3,1191 L1004.3,1192.1 L1005.3,1193.2 L1006.3,1194.2 L1007.3,1195.1 L1008.3,1195.9 L1009.3,1196.6 L1010.3,1197.1 L1011.3,1197.3 L1012.3,1197.3 L1013.3,1197.1 L1014.3,1196.7 L1015.3,1196.1 L1016.3,1195.4 L1017.3,1194.6 L1018.3,1193.8 L1019.3,1192.8 L1020.3,1191.9 L1021.3,1190.9 L1022.3,1190 L1023.3,1189.2 L1024.3,1188.4 L1025.3,1187.8 L1026.3,1187.3 L1027.3,1187 L1028.3,1187 L1029.3,1187 L1030.3,1187.3 L1031.3,1187.6 L1032.3,1188 L1033.3,1188.4 L1034.3,1188.8 L1035.3,1189.2 L1036.3,1189.5 L1037.3,1189.7 L1038.3,1189.8 L1039.3,1189.8 L1040.3,1189.8 L1041.3,1189.8 L1042.3,1189.9 L1043.3,1189.9 L1044.3,1189.9 L1045.3,1189.9 L1046.3,1189.9 L1047.3,1189.9 L1048.3,1189.9 L1049.3,1189.9 L1050.3,1189.9 L1051.3,1189.8 L1052.3,1189.8 L1053.3,1189.8 L1054.3,1189.8 L1055.3,1189.7 L1056.3,1189.7 L1057.3,1189.7 L1058.3,1189.6 L1059.3,1189.6 L1060.3,1189.5 L1061.3,1189.4 L1062.3,1189.2 L1063.3,1189 L1064.3,1188.7 L1065.3,1188.4 L1066.3,1188 L1067.3,1187.6 L1068.3,1187.2 L1069.3,1186.8 L1070.3,1186.3 L1071.3,1185.9 L1072.3,1185.5 L1073.3,1185.1 L1074.3,1184.7 L1075.3,1184.3 L1076.3,1184 L1077.3,1183.7 L1078.3,1183.4 L1079.3,1183.1 L1080.3,1182.8 L1081.3,1182.3 L1082.3,1181.6 L1083.3,1180.7 L1084.3,1179.6 L1085.3,1178.3 L1086.3,1176.7 L1087.3,1175.1 L1088.3,1173.5 L1089.3,1171.7 L1090.3,1170 L1091.3,1168.3 L1092.3,1166.6 L1093.3,1164.9 L1094.3,1163.4 L1095.3,1162 L1096.3,1160.8 L1097.3,1159.8 L1098.3,1159 L1099.3,1158.5 L1100.3,1158.2 L1101.3,1158.2 L1102.3,1158.5 L1103.3,1159.1 L1104.3,1160 L1105.3,1161 L1106.3,1162.3 L1107.3,1163.7 L1108.3,1165.3 L1109.3,1166.9 L1110.3,1168.5 L1111.3,1170.1 L1112.3,1171.7 L1113.3,1173.2 L1114.3,1174.6 L1115.3,1175.8 L1116.3,1176.8 L1117.3,1177.7 L1118.3,1178.3 L1119.3,1178.6 L1120.3,1178.7 L1121.3,1178.6 L1122.3,1178.2 L1123.3,1177.5 L1124.3,1176.6 L1125.3,1175.3 L1126.3,1173.6 L1127.3,1171.6 L1128.3,1169.1 L1129.3,1166.1 L1130.3,1162.5 L1131.3,1158.2 L1132.3,1153.2 L1133.3,1147.5 L1134.3,1140.8 L1135.3,1133.2 L1136.3,1124.6 L1137.3,1114.9 L1138.3,1104.1 L1139.3,1092.2 L1140.3,1079.3 L1141.3,1065.5 L1142.3,1050.7 L1143.3,1035.2 L1144.3,1019.1 L1145.3,1002.7 L1146.3,986.2 L1147.3,969.9 L1148.3,954.1 L1149.3,939.1 L1150.3,925.3 L1151.3,912.9 L1152.3,902.3 L1153.3,893.6 L1154.3,887 L1155.3,882.8 L1156.3,880.9 L1157.3,881.5 L1158.3,884.5 L1159.3,889.8 L1160.3,897.2 L1161.3,906.4 L1162.3,917.2 L1163.3,929.3 L1164.3,942.2 L1165.3,955.8 L1166.3,969.5 L1167.3,983.2 L1168.3,996.4 L1169.3,1008.9 L1170.3,1020.5 L1171.3,1031 L1172.3,1040.1 L1173.3,1047.9 L1174.3,1054.1 L1175.3,1058.9 L1176.3,1062.1 L1177.3,1063.9 L1178.3,1064.2 L1179.3,1063.1 L1180.3,1060.8 L1181.3,1057.3 L1182.3,1052.8 L1183.3,1047.5 L1184.3,1041.3 L1185.3,1034.5 L1186.3,1027.1 L1187.3,1019.3 L1188.3,1011.3 L1189.3,1003 L1190.3,994.7 L1191.3,986.5 L1192.3,978.3 L1193.3,970.4 L1194.3,962.9 L1195.3,955.8 L1196.3,949.1 L1197.3,943.1 L1198.3,937.7 L1199.3,933.1 L1200.3,929.2 L1201.3,926.2 L1202.3,924 L1203.3,922.7 L1204.3,922.4 L1205.3,922.9 L1206.3,924.3 L1207.3,926.6 L1208.3,929.7 L1209.3,933.5 L1210.3,938.2 L1211.3,943.5 L1212.3,949.5 L1213.3,956.2 L1214.3,963.4 L1215.3,971.1 L1216.3,979.2 L1217.3,987.7 L1218.3,996.4 L1219.3,1005.4 L1220.3,1014.5 L1221.3,1023.7 L1222.3,1032.9 L1223.3,1042.1 L1224.3,1051.2 L1225.3,1060.1 L1226.3,1068.8 L1227.3,1077.3 L1228.3,1085.5 L1229.3,1093.3 L1230.3,1100.9 L1231.3,1108.1 L1232.3,1114.9 L1233.3,1121.4 L1234.3,1127.4 L1235.3,1133.1 L1236.3,1138.4 L1237.3,1143.3 L1238.3,1147.8 L1239.3,1152 L1240.3,1155.9 L1241.3,1159.4 L1242.3,1162.6 L1243.3,1165.5 L1244.3,1168.2 L1245.3,1170.6 L1246.3,1172.9 L1247.3,1175.3 L1248.3,1177.5 L1249.3,1179.5 L1250.3,1181.2 L1251.3,1182.6 L1252.3,1183.6 L1253.3,1184.2 L1254.3,1184.4 L1255.3,1184.4 L1256.3,1184.1 L1257.3,1183.7 L1258.3,1183.2 L1259.3,1182.7 L1260.3,1182.3 L1261.3,1181.9 L1262.3,1181.7 L1263.3,1181.7 L1264.3,1182 L1265.3,1182.6 L1266.3,1183.3 L1267.3,1184.2 L1268.3,1185.2 L1269.3,1186.3 L1270.3,1187.4 L1271.3,1188.5 L1272.3,1189.6 L1273.3,1190.6 L1274.3,1191.5 L1275.3,1192.2 L1276.3,1192.7 L1277.3,1193 L1278.3,1192.9 L1279.3,1192.4 L1280.3,1191.6 L1281.3,1190.5 L1282.3,1189.3 L1283.3,1187.9 L1284.3,1186.6 L1285.3,1185.2 L1286.3,1184 L1287.3,1183 L1288.3,1182.2 L1289.3,1181.8 L1290.3,1181.8 L1291.3,1182.3 L1292.3,1183.3 L1293.3,1184.7 L1294.3,1186.3 L1295.3,1188.2 L1296.3,1190.2 L1297.3,1192.3 L1298.3,1194.4 L1299.3,1196.4 L1300.3,1198.3 L1301.3,1199.9 L1302.3,1201.3 L1303.3,1202.2 L1304.3,1202.7 L1305.3,1202.7 L1306.3,1202 L1307.3,1200.9 L1308.3,1199.3 L1309.3,1197.4 L1310.3,1195.3 L1311.3,1193.1 L1312.3,1190.9 L1313.3,1188.7 L1314.3,1186.7 L1315.3,1185 L1316.3,1183.6 L1317.3,1182.7 L1318.3,1182.3 L1319.3,1182.5 L1320.3,1183.2 L1321.3,1184.3 L1322.3,1185.8 L1323.3,1187.5 L1324.3,1189.3 L1325.3,1191.2 L1326.3,1193.1 L1327.3,1194.9 L1328.3,1196.6 L1329.3,1197.9 L1330.3,1199 L1331.3,1199.6 L1332.3,1199.7 L1333.3,1199.2 L1334.3,1198.2 L1335.3,1196.7 L1336.3,1194.8 L1337.3,1192.6 L1338.3,1190.3 L1339.3,1187.8 L1340.3,1185.4 L1341.3,1183 L1342.3,1180.7 L1343.3,1178.7 L1344.3,1177.1 L1345.3,1175.8 L1346.3,1175.1 L1347.3,1175 L1348.3,1175.4 L1349.3,1176.3 L1350.3,1177.6 L1351.3,1179.3 L1352.3,1181.2 L1353.3,1183.4 L1354.3,1185.7 L1355.3,1188.1 L1356.3,1190.5 L1357.3,1192.9 L1358.3,1195.2 L1359.3,1197.3 L1360.3,1199.1 L1361.3,1200.7 L1362.3,1201.9 L1363.3,1202.7 L1364.3,1202.9 L1365.3,1202.8 L1366.3,1202.6 L1367.3,1202.2 L1368.3,1201.7 L1369.3,1201.1 L1370.3,1200.3 L1371.3,1199.5 L1372.3,1198.5 L1373.3,1197.5 L1374.3,1196.4 L1375.3,1195.3 L1376.3,1194.1 L1377.3,1192.9 L1378.3,1191.7 L1379.3,1190.5 L1380.3,1189.3 L1381.3,1188.1 L1382.3,1187 L1383.3,1185.9 L1384.3,1184.8 L1385.3,1183.8 L1386.3,1182.9 L1387.3,1182.1 L1388.3,1181.4 L1389.3,1180.8 L1390.3,1180.4 L1391.3,1180 L1392.3,1179.8 L1393.3,1179.9 L1394.3,1180.2 L1395.3,1181 L1396.3,1182 L1397.3,1183.3 L1398.3,1184.8 L1399.3,1186.5 L1400.3,1188.3 L1401.3,1190.2 L1402.3,1192.1 L1403.3,1193.9 L1404.3,1195.7 L1405.3,1197.3 L1406.3,1198.8 L1407.3,1200 L1408.3,1200.9 L1409.3,1201.5 L1410.3,1201.7 L1411.3,1201.3 L1412.3,1200.3 L1413.3,1198.7 L1414.3,1196.7 L1415.3,1194.3 L1416.3,1191.7 L1417.3,1188.9 L1418.3,1186 L1419.3,1183.3 L1420.3,1180.7 L1421.3,1178.3 L1422.3,1176.4 L1423.3,1174.9 L1424.3,1174" fill="none" stroke="#3c3c3c" stroke-width="1.6"/>
<text x="1260.8" y="867.2" font-size="24.5" text-anchor="start" fill="#111" font-weight="normal" textLength="87.4" lengthAdjust="spacingAndGlyphs" >90S10C</text>
<text x="1348.8" y="873" font-size="17" text-anchor="start" fill="#111" font-weight="normal" textLength="33.2" lengthAdjust="spacingAndGlyphs" >CME</text>
<text x="1382.6" y="867.2" font-size="24.5" text-anchor="start" fill="#111" font-weight="normal" textLength="36.3" lengthAdjust="spacingAndGlyphs" >-CL</text>
<path d="M863.3,1633.2 L864.3,1633.1 L865.3,1633.1 L866.3,1633.1 L867.3,1633.1 L868.3,1633 L869.3,1633 L870.3,1633 L871.3,1632.9 L872.3,1632.9 L873.3,1632.8 L874.3,1632.7 L875.3,1632.6 L876.3,1632.5 L877.3,1632.4 L878.3,1632.2 L879.3,1632 L880.3,1631.9 L881.3,1631.6 L882.3,1631.4 L883.3,1631.1 L884.3,1630.7 L885.3,1630.4 L886.3,1630 L887.3,1629.5 L888.3,1629 L889.3,1628.5 L890.3,1627.9 L891.3,1627.3 L892.3,1626.7 L893.3,1626 L894.3,1625.2 L895.3,1624.5 L896.3,1623.7 L897.3,1622.9 L898.3,1622 L899.3,1621.2 L900.3,1620.4 L901.3,1619.6 L902.3,1618.8 L903.3,1618.1 L904.3,1617.3 L905.3,1616.7 L906.3,1616.1 L907.3,1615.6 L908.3,1615.2 L909.3,1614.8 L910.3,1614.5 L911.3,1614.4 L912.3,1614.3 L913.3,1614.3 L914.3,1614.5 L915.3,1614.7 L916.3,1615 L917.3,1615.4 L918.3,1615.9 L919.3,1616.5 L920.3,1617.1 L921.3,1617.8 L922.3,1618.5 L923.3,1619.3 L924.3,1620.1 L925.3,1620.9 L926.3,1621.7 L927.3,1622.5 L928.3,1623.3 L929.3,1624.1 L930.3,1624.9 L931.3,1625.7 L932.3,1626.4 L933.3,1627.1 L934.3,1627.7 L935.3,1628.3 L936.3,1628.8 L937.3,1629.3 L938.3,1629.8 L939.3,1630.2 L940.3,1630.6 L941.3,1630.9 L942.3,1631.3 L943.3,1631.5 L944.3,1631.8 L945.3,1632 L946.3,1632.2 L947.3,1632.3 L948.3,1632.5 L949.3,1632.6 L950.3,1632.7 L951.3,1632.8 L952.3,1632.8 L953.3,1632.9 L954.3,1632.9 L955.3,1633 L956.3,1633 L957.3,1633.1 L958.3,1633.1 L959.3,1633.1 L960.3,1633.1 L961.3,1633.2" fill="none" stroke="#4a72c4" stroke-width="1.3"/>
<path d="M886.3,1633.2 L887.3,1633.1 L888.3,1633.1 L889.3,1633.1 L890.3,1633.1 L891.3,1633.1 L892.3,1633 L893.3,1633 L894.3,1633 L895.3,1633 L896.3,1632.9 L897.3,1632.9 L898.3,1632.9 L899.3,1632.8 L900.3,1632.8 L901.3,1632.7 L902.3,1632.7 L903.3,1632.6 L904.3,1632.6 L905.3,1632.5 L906.3,1632.4 L907.3,1632.4 L908.3,1632.3 L909.3,1632.2 L910.3,1632 L911.3,1631.9 L912.3,1631.7 L913.3,1631.6 L914.3,1631.3 L915.3,1631.1 L916.3,1630.8 L917.3,1630.5 L918.3,1630 L919.3,1629.6 L920.3,1629 L921.3,1628.4 L922.3,1627.6 L923.3,1626.8 L924.3,1625.8 L925.3,1624.7 L926.3,1623.4 L927.3,1621.9 L928.3,1620.3 L929.3,1618.4 L930.3,1616.3 L931.3,1614 L932.3,1611.5 L933.3,1608.7 L934.3,1605.7 L935.3,1602.4 L936.3,1598.9 L937.3,1595.1 L938.3,1591.1 L939.3,1586.9 L940.3,1582.6 L941.3,1578 L942.3,1573.4 L943.3,1568.7 L944.3,1563.9 L945.3,1559.2 L946.3,1554.6 L947.3,1550 L948.3,1545.7 L949.3,1541.6 L950.3,1537.8 L951.3,1534.3 L952.3,1531.3 L953.3,1528.7 L954.3,1526.5 L955.3,1524.9 L956.3,1523.9 L957.3,1523.3 L958.3,1523.4 L959.3,1524 L960.3,1525.2 L961.3,1526.9 L962.3,1529.1 L963.3,1531.9 L964.3,1535 L965.3,1538.5 L966.3,1542.4 L967.3,1546.6 L968.3,1550.9 L969.3,1555.5 L970.3,1560.2 L971.3,1564.9 L972.3,1569.6 L973.3,1574.3 L974.3,1579 L975.3,1583.5 L976.3,1587.8 L977.3,1591.9 L978.3,1595.9 L979.3,1599.6 L980.3,1603.1 L981.3,1606.3 L982.3,1609.3 L983.3,1612 L984.3,1614.5 L985.3,1616.8 L986.3,1618.8 L987.3,1620.6 L988.3,1622.2 L989.3,1623.7 L990.3,1624.9 L991.3,1626 L992.3,1627 L993.3,1627.8 L994.3,1628.5 L995.3,1629.1 L996.3,1629.7 L997.3,1630.1 L998.3,1630.5 L999.3,1630.9 L1000.3,1631.1 L1001.3,1631.4 L1002.3,1631.6 L1003.3,1631.8 L1004.3,1631.9 L1005.3,1632.1 L1006.3,1632.2 L1007.3,1632.3 L1008.3,1632.4 L1009.3,1632.5 L1010.3,1632.5 L1011.3,1632.6 L1012.3,1632.7 L1013.3,1632.7 L1014.3,1632.8 L1015.3,1632.8 L1016.3,1632.8 L1017.3,1632.9 L1018.3,1632.9 L1019.3,1632.9 L1020.3,1633 L1021.3,1633 L1022.3,1633 L1023.3,1633 L1024.3,1633.1 L1025.3,1633.1 L1026.3,1633.1 L1027.3,1633.1 L1028.3,1633.1 L1029.3,1633.2" fill="none" stroke="#4a72c4" stroke-width="1.3"/>
<path d="M1071.3,1633.2 L1072.3,1633.1 L1073.3,1633.1 L1074.3,1633.1 L1075.3,1633 L1076.3,1633 L1077.3,1632.9 L1078.3,1632.8 L1079.3,1632.7 L1080.3,1632.6 L1081.3,1632.4 L1082.3,1632.2 L1083.3,1632 L1084.3,1631.7 L1085.3,1631.3 L1086.3,1630.8 L1087.3,1630.3 L1088.3,1629.7 L1089.3,1628.9 L1090.3,1628.1 L1091.3,1627.1 L1092.3,1626 L1093.3,1624.9 L1094.3,1623.6 L1095.3,1622.3 L1096.3,1620.9 L1097.3,1619.4 L1098.3,1618 L1099.3,1616.6 L1100.3,1615.3 L1101.3,1614 L1102.3,1612.9 L1103.3,1611.9 L1104.3,1611.2 L1105.3,1610.7 L1106.3,1610.4 L1107.3,1610.3 L1108.3,1610.5 L1109.3,1610.9 L1110.3,1611.6 L1111.3,1612.5 L1112.3,1613.5 L1113.3,1614.7 L1114.3,1616.1 L1115.3,1617.4 L1116.3,1618.9 L1117.3,1620.3 L1118.3,1621.7 L1119.3,1623.1 L1120.3,1624.4 L1121.3,1625.6 L1122.3,1626.7 L1123.3,1627.7 L1124.3,1628.6 L1125.3,1629.4 L1126.3,1630.1 L1127.3,1630.6 L1128.3,1631.1 L1129.3,1631.5 L1130.3,1631.9 L1131.3,1632.1 L1132.3,1632.4 L1133.3,1632.6 L1134.3,1632.7 L1135.3,1632.8 L1136.3,1632.9 L1137.3,1633 L1138.3,1633 L1139.3,1633.1 L1140.3,1633.1 L1141.3,1633.1 L1142.3,1633.2" fill="none" stroke="#4a72c4" stroke-width="1.3"/>
<path d="M1094.3,1633.2 L1095.3,1633.1 L1096.3,1633.1 L1097.3,1633 L1098.3,1633 L1099.3,1632.9 L1100.3,1632.9 L1101.3,1632.8 L1102.3,1632.7 L1103.3,1632.6 L1104.3,1632.5 L1105.3,1632.4 L1106.3,1632.2 L1107.3,1632 L1108.3,1631.9 L1109.3,1631.6 L1110.3,1631.4 L1111.3,1631.1 L1112.3,1630.8 L1113.3,1630.4 L1114.3,1630 L1115.3,1629.6 L1116.3,1629.1 L1117.3,1628.6 L1118.3,1628 L1119.3,1627.4 L1120.3,1626.7 L1121.3,1625.9 L1122.3,1625 L1123.3,1624.1 L1124.3,1623.1 L1125.3,1622 L1126.3,1620.7 L1127.3,1619.4 L1128.3,1617.9 L1129.3,1616.2 L1130.3,1614.3 L1131.3,1612.2 L1132.3,1609.7 L1133.3,1607 L1134.3,1603.8 L1135.3,1600.2 L1136.3,1595.9 L1137.3,1591.1 L1138.3,1585.5 L1139.3,1579.1 L1140.3,1571.7 L1141.3,1563.4 L1142.3,1554 L1143.3,1543.5 L1144.3,1531.8 L1145.3,1519.1 L1146.3,1505.4 L1147.3,1490.7 L1148.3,1475.3 L1149.3,1459.5 L1150.3,1443.3 L1151.3,1427.3 L1152.3,1411.7 L1153.3,1396.8 L1154.3,1383.2 L1155.3,1371.1 L1156.3,1360.9 L1157.3,1352.9 L1158.3,1347.3 L1159.3,1344.3 L1160.3,1344 L1161.3,1346.5 L1162.3,1351.5 L1163.3,1359.1 L1164.3,1368.9 L1165.3,1380.6 L1166.3,1394 L1167.3,1408.6 L1168.3,1424.1 L1169.3,1440.1 L1170.3,1456.3 L1171.3,1472.2 L1172.3,1487.7 L1173.3,1502.5 L1174.3,1516.4 L1175.3,1529.4 L1176.3,1541.2 L1177.3,1552 L1178.3,1561.6 L1179.3,1570.1 L1180.3,1577.7 L1181.3,1584.3 L1182.3,1590 L1183.3,1595 L1184.3,1599.4 L1185.3,1603.1 L1186.3,1606.4 L1187.3,1609.2 L1188.3,1611.7 L1189.3,1613.9 L1190.3,1615.8 L1191.3,1617.5 L1192.3,1619.1 L1193.3,1620.5 L1194.3,1621.7 L1195.3,1622.9 L1196.3,1623.9 L1197.3,1624.9 L1198.3,1625.7 L1199.3,1626.5 L1200.3,1627.2 L1201.3,1627.9 L1202.3,1628.5 L1203.3,1629 L1204.3,1629.5 L1205.3,1630 L1206.3,1630.4 L1207.3,1630.7 L1208.3,1631 L1209.3,1631.3 L1210.3,1631.6 L1211.3,1631.8 L1212.3,1632 L1213.3,1632.2 L1214.3,1632.3 L1215.3,1632.5 L1216.3,1632.6 L1217.3,1632.7 L1218.3,1632.8 L1219.3,1632.9 L1220.3,1632.9 L1221.3,1633 L1222.3,1633 L1223.3,1633.1 L1224.3,1633.1 L1225.3,1633.1 L1226.3,1633.2" fill="none" stroke="#4a72c4" stroke-width="1.3"/>
<path d="M1116.3,1633.2 L1117.3,1633.1 L1118.3,1633.1 L1119.3,1633.1 L1120.3,1633.1 L1121.3,1633 L1122.3,1633 L1123.3,1633 L1124.3,1632.9 L1125.3,1632.9 L1126.3,1632.8 L1127.3,1632.8 L1128.3,1632.7 L1129.3,1632.7 L1130.3,1632.6 L1131.3,1632.5 L1132.3,1632.4 L1133.3,1632.3 L1134.3,1632.2 L1135.3,1632.1 L1136.3,1632 L1137.3,1631.9 L1138.3,1631.7 L1139.3,1631.6 L1140.3,1631.4 L1141.3,1631.2 L1142.3,1631 L1143.3,1630.8 L1144.3,1630.5 L1145.3,1630.3 L1146.3,1630 L1147.3,1629.7 L1148.3,1629.4 L1149.3,1629.1 L1150.3,1628.7 L1151.3,1628.4 L1152.3,1627.9 L1153.3,1627.5 L1154.3,1627 L1155.3,1626.5 L1156.3,1626 L1157.3,1625.4 L1158.3,1624.8 L1159.3,1624.2 L1160.3,1623.5 L1161.3,1622.7 L1162.3,1621.8 L1163.3,1620.9 L1164.3,1619.9 L1165.3,1618.9 L1166.3,1617.7 L1167.3,1616.3 L1168.3,1614.9 L1169.3,1613.2 L1170.3,1611.4 L1171.3,1609.4 L1172.3,1607.1 L1173.3,1604.6 L1174.3,1601.8 L1175.3,1598.6 L1176.3,1595.1 L1177.3,1591.1 L1178.3,1586.7 L1179.3,1581.9 L1180.3,1576.5 L1181.3,1570.6 L1182.3,1564.1 L1183.3,1557 L1184.3,1549.3 L1185.3,1540.9 L1186.3,1532 L1187.3,1522.5 L1188.3,1512.4 L1189.3,1501.7 L1190.3,1490.6 L1191.3,1479.1 L1192.3,1467.2 L1193.3,1455.1 L1194.3,1442.9 L1195.3,1430.6 L1196.3,1418.5 L1197.3,1406.6 L1198.3,1395.2 L1199.3,1384.2 L1200.3,1374 L1201.3,1364.6 L1202.3,1356.2 L1203.3,1348.9 L1204.3,1342.7 L1205.3,1337.9 L1206.3,1334.4 L1207.3,1332.4 L1208.3,1331.8 L1209.3,1332.7 L1210.3,1335 L1211.3,1338.8 L1212.3,1343.9 L1213.3,1350.2 L1214.3,1357.8 L1215.3,1366.4 L1216.3,1376 L1217.3,1386.4 L1218.3,1397.4 L1219.3,1409 L1220.3,1420.9 L1221.3,1433.1 L1222.3,1445.3 L1223.3,1457.5 L1224.3,1469.6 L1225.3,1481.4 L1226.3,1492.9 L1227.3,1503.9 L1228.3,1514.4 L1229.3,1524.4 L1230.3,1533.8 L1231.3,1542.7 L1232.3,1550.9 L1233.3,1558.4 L1234.3,1565.4 L1235.3,1571.8 L1236.3,1577.6 L1237.3,1582.9 L1238.3,1587.7 L1239.3,1592 L1240.3,1595.8 L1241.3,1599.3 L1242.3,1602.4 L1243.3,1605.1 L1244.3,1607.6 L1245.3,1609.8 L1246.3,1611.8 L1247.3,1613.6 L1248.3,1615.2 L1249.3,1616.6 L1250.3,1617.9 L1251.3,1619.1 L1252.3,1620.2 L1253.3,1621.1 L1254.3,1622 L1255.3,1622.8 L1256.3,1623.6 L1257.3,1624.3 L1258.3,1625 L1259.3,1625.6 L1260.3,1626.1 L1261.3,1626.6 L1262.3,1627.1 L1263.3,1627.6 L1264.3,1628 L1265.3,1628.4 L1266.3,1628.8 L1267.3,1629.2 L1268.3,1629.5 L1269.3,1629.8 L1270.3,1630.1 L1271.3,1630.3 L1272.3,1630.6 L1273.3,1630.8 L1274.3,1631 L1275.3,1631.2 L1276.3,1631.4 L1277.3,1631.6 L1278.3,1631.7 L1279.3,1631.9 L1280.3,1632 L1281.3,1632.1 L1282.3,1632.3 L1283.3,1632.4 L1284.3,1632.4 L1285.3,1632.5 L1286.3,1632.6 L1287.3,1632.7 L1288.3,1632.7 L1289.3,1632.8 L1290.3,1632.9 L1291.3,1632.9 L1292.3,1632.9 L1293.3,1633 L1294.3,1633 L1295.3,1633.1 L1296.3,1633.1 L1297.3,1633.1 L1298.3,1633.1 L1299.3,1633.1 L1300.3,1633.2" fill="none" stroke="#4a72c4" stroke-width="1.3"/>
<line x1="763.3" y1="1633.3" x2="1424.5" y2="1633.3" stroke="#2c4a9a" stroke-width="1.6"/>
<path d="M763.3,1614.3 L764.3,1614.3 L765.3,1614.3 L766.3,1614.4 L767.3,1614.4 L768.3,1614.4 L769.3,1614.4 L770.3,1614.4 L771.3,1614.4 L772.3,1614.4 L773.3,1614.4 L774.3,1614.5 L775.3,1614.5 L776.3,1614.5 L777.3,1614.5 L778.3,1614.5 L779.3,1614.5 L780.3,1614.5 L781.3,1614.5 L782.3,1614.5 L783.3,1614.6 L784.3,1614.6 L785.3,1614.6 L786.3,1614.6 L787.3,1614.6 L788.3,1614.6 L789.3,1614.6 L790.3,1614.6 L791.3,1614.6 L792.3,1614.6 L793.3,1614.6 L794.3,1614.7 L795.3,1614.7 L796.3,1614.7 L797.3,1614.7 L798.3,1614.7 L799.3,1614.7 L800.3,1614.7 L801.3,1614.7 L802.3,1614.7 L803.3,1614.7 L804.3,1614.7 L805.3,1614.7 L806.3,1614.7 L807.3,1614.7 L808.3,1614.7 L809.3,1614.7 L810.3,1614.8 L811.3,1614.8 L812.3,1614.8 L813.3,1614.8 L814.3,1614.8 L815.3,1614.8 L816.3,1614.8 L817.3,1614.8 L818.3,1614.8 L819.3,1614.8 L820.3,1614.8 L821.3,1614.8 L822.3,1614.8 L823.3,1614.8 L824.3,1614.8 L825.3,1614.8 L826.3,1614.8 L827.3,1614.8 L828.3,1614.8 L829.3,1614.8 L830.3,1614.8 L831.3,1614.8 L832.3,1614.8 L833.3,1614.8 L834.3,1614.8 L835.3,1614.8 L836.3,1614.8 L837.3,1614.8 L838.3,1614.8 L839.3,1614.8 L840.3,1614.8 L841.3,1614.8 L842.3,1614.8 L843.3,1614.8 L844.3,1614.8 L845.3,1614.8 L846.3,1614.8 L847.3,1614.8 L848.3,1614.8 L849.3,1614.8 L850.3,1614.8 L851.3,1614.8 L852.3,1614.8 L853.3,1614.8 L854.3,1614.8 L855.3,1614.8 L856.3,1614.8 L857.3,1614.8 L858.3,1614.8 L859.3,1614.8 L860.3,1614.8 L861.3,1614.7 L862.3,1614.7 L863.3,1614.7 L864.3,1614.7 L865.3,1614.7 L866.3,1614.7 L867.3,1614.6 L868.3,1614.6 L869.3,1614.6 L870.3,1614.5 L871.3,1614.5 L872.3,1614.4 L873.3,1614.3 L874.3,1614.2 L875.3,1614.1 L876.3,1614 L877.3,1613.9 L878.3,1613.7 L879.3,1613.5 L880.3,1613.3 L881.3,1613.1 L882.3,1612.8 L883.3,1612.5 L884.3,1612.1 L885.3,1611.8 L886.3,1611.3 L887.3,1610.8 L888.3,1610.3 L889.3,1609.7 L890.3,1609.1 L891.3,1608.4 L892.3,1607.7 L893.3,1607 L894.3,1606.2 L895.3,1605.3 L896.3,1604.5 L897.3,1603.6 L898.3,1602.7 L899.3,1601.8 L900.3,1600.9 L901.3,1600 L902.3,1599.1 L903.3,1598.3 L904.3,1597.5 L905.3,1596.7 L906.3,1596 L907.3,1595.4 L908.3,1594.8 L909.3,1594.3 L910.3,1593.9 L911.3,1593.5 L912.3,1593.3 L913.3,1593.1 L914.3,1592.9 L915.3,1592.9 L916.3,1592.9 L917.3,1592.9 L918.3,1592.9 L919.3,1593 L920.3,1593 L921.3,1593 L922.3,1592.9 L923.3,1592.8 L924.3,1592.6 L925.3,1592.2 L926.3,1591.7 L927.3,1591 L928.3,1590.1 L929.3,1589 L930.3,1587.6 L931.3,1586 L932.3,1584.2 L933.3,1582 L934.3,1579.5 L935.3,1576.8 L936.3,1573.8 L937.3,1570.5 L938.3,1566.9 L939.3,1563.1 L940.3,1559.1 L941.3,1554.8 L942.3,1550.4 L943.3,1546 L944.3,1541.4 L945.3,1536.9 L946.3,1532.4 L947.3,1528 L948.3,1523.7 L949.3,1519.7 L950.3,1516 L951.3,1512.6 L952.3,1509.6 L953.3,1507 L954.3,1504.9 L955.3,1503.4 L956.3,1502.3 L957.3,1501.8 L958.3,1501.9 L959.3,1502.6 L960.3,1503.8 L961.3,1505.5 L962.3,1507.8 L963.3,1510.6 L964.3,1513.8 L965.3,1517.3 L966.3,1521.3 L967.3,1525.5 L968.3,1529.9 L969.3,1534.6 L970.3,1539.3 L971.3,1544.1 L972.3,1548.9 L973.3,1553.7 L974.3,1558.4 L975.3,1563 L976.3,1567.4 L977.3,1571.6 L978.3,1575.7 L979.3,1579.5 L980.3,1583 L981.3,1586.3 L982.3,1589.4 L983.3,1592.2 L984.3,1594.8 L985.3,1597.1 L986.3,1599.2 L987.3,1601.1 L988.3,1602.8 L989.3,1604.3 L990.3,1605.6 L991.3,1606.8 L992.3,1607.8 L993.3,1608.7 L994.3,1609.4 L995.3,1610.1 L996.3,1610.7 L997.3,1611.1 L998.3,1611.6 L999.3,1611.9 L1000.3,1612.2 L1001.3,1612.4 L1002.3,1612.7 L1003.3,1612.8 L1004.3,1613 L1005.3,1613.1 L1006.3,1613.2 L1007.3,1613.3 L1008.3,1613.4 L1009.3,1613.4 L1010.3,1613.5 L1011.3,1613.5 L1012.3,1613.5 L1013.3,1613.6 L1014.3,1613.6 L1015.3,1613.6 L1016.3,1613.6 L1017.3,1613.6 L1018.3,1613.6 L1019.3,1613.6 L1020.3,1613.6 L1021.3,1613.5 L1022.3,1613.5 L1023.3,1613.5 L1024.3,1613.5 L1025.3,1613.4 L1026.3,1613.4 L1027.3,1613.3 L1028.3,1613.3 L1029.3,1613.3 L1030.3,1613.2 L1031.3,1613.2 L1032.3,1613.1 L1033.3,1613.1 L1034.3,1613 L1035.3,1612.9 L1036.3,1612.9 L1037.3,1612.8 L1038.3,1612.7 L1039.3,1612.7 L1040.3,1612.6 L1041.3,1612.5 L1042.3,1612.5 L1043.3,1612.4 L1044.3,1612.3 L1045.3,1612.2 L1046.3,1612.2 L1047.3,1612.1 L1048.3,1612 L1049.3,1611.9 L1050.3,1611.8 L1051.3,1611.8 L1052.3,1611.7 L1053.3,1611.6 L1054.3,1611.5 L1055.3,1611.4 L1056.3,1611.3 L1057.3,1611.2 L1058.3,1611.1 L1059.3,1611.1 L1060.3,1611 L1061.3,1610.9 L1062.3,1610.8 L1063.3,1610.7 L1064.3,1610.6 L1065.3,1610.5 L1066.3,1610.4 L1067.3,1610.3 L1068.3,1610.2 L1069.3,1610.1 L1070.3,1610 L1071.3,1609.9 L1072.3,1609.8 L1073.3,1609.7 L1074.3,1609.5 L1075.3,1609.4 L1076.3,1609.3 L1077.3,1609.1 L1078.3,1609 L1079.3,1608.8 L1080.3,1608.6 L1081.3,1608.3 L1082.3,1608 L1083.3,1607.6 L1084.3,1607.2 L1085.3,1606.7 L1086.3,1606.1 L1087.3,1605.4 L1088.3,1604.6 L1089.3,1603.7 L1090.3,1602.7 L1091.3,1601.6 L1092.3,1600.3 L1093.3,1599 L1094.3,1597.6 L1095.3,1596.1 L1096.3,1594.5 L1097.3,1592.9 L1098.3,1591.3 L1099.3,1589.7 L1100.3,1588.2 L1101.3,1586.8 L1102.3,1585.5 L1103.3,1584.4 L1104.3,1583.4 L1105.3,1582.7 L1106.3,1582.2 L1107.3,1582 L1108.3,1582 L1109.3,1582.2 L1110.3,1582.6 L1111.3,1583.2 L1112.3,1583.9 L1113.3,1584.8 L1114.3,1585.7 L1115.3,1586.6 L1116.3,1587.6 L1117.3,1588.5 L1118.3,1589.3 L1119.3,1590 L1120.3,1590.6 L1121.3,1591 L1122.3,1591.2 L1123.3,1591.3 L1124.3,1591.2 L1125.3,1591 L1126.3,1590.6 L1127.3,1590 L1128.3,1589.3 L1129.3,1588.3 L1130.3,1587.1 L1131.3,1585.6 L1132.3,1583.8 L1133.3,1581.6 L1134.3,1579 L1135.3,1575.9 L1136.3,1572.3 L1137.3,1567.9 L1138.3,1562.9 L1139.3,1556.9 L1140.3,1550.1 L1141.3,1542.2 L1142.3,1533.3 L1143.3,1523.2 L1144.3,1511.9 L1145.3,1499.6 L1146.3,1486.2 L1147.3,1471.8 L1148.3,1456.7 L1149.3,1441 L1150.3,1425 L1151.3,1409.1 L1152.3,1393.5 L1153.3,1378.6 L1154.3,1364.8 L1155.3,1352.5 L1156.3,1342 L1157.3,1333.6 L1158.3,1327.6 L1159.3,1324 L1160.3,1323 L1161.3,1324.6 L1162.3,1328.6 L1163.3,1335 L1164.3,1343.4 L1165.3,1353.6 L1166.3,1365.3 L1167.3,1378 L1168.3,1391.4 L1169.3,1405.1 L1170.3,1418.8 L1171.3,1432 L1172.3,1444.5 L1173.3,1456.1 L1174.3,1466.5 L1175.3,1475.6 L1176.3,1483.3 L1177.3,1489.4 L1178.3,1494.1 L1179.3,1497.3 L1180.3,1499 L1181.3,1499.3 L1182.3,1498.3 L1183.3,1495.8 L1184.3,1492.1 L1185.3,1487.2 L1186.3,1481.2 L1187.3,1474.1 L1188.3,1466.2 L1189.3,1457.4 L1190.3,1447.9 L1191.3,1437.7 L1192.3,1427.1 L1193.3,1416.1 L1194.3,1404.8 L1195.3,1393.4 L1196.3,1382.1 L1197.3,1370.9 L1198.3,1360.1 L1199.3,1349.7 L1200.3,1340 L1201.3,1331.1 L1202.3,1323.2 L1203.3,1316.2 L1204.3,1310.5 L1205.3,1306 L1206.3,1302.9 L1207.3,1301.2 L1208.3,1300.9 L1209.3,1302.1 L1210.3,1304.7 L1211.3,1308.7 L1212.3,1314 L1213.3,1320.6 L1214.3,1328.4 L1215.3,1337.2 L1216.3,1347 L1217.3,1357.5 L1218.3,1368.7 L1219.3,1380.4 L1220.3,1392.5 L1221.3,1404.8 L1222.3,1417.2 L1223.3,1429.6 L1224.3,1441.8 L1225.3,1453.8 L1226.3,1465.4 L1227.3,1476.6 L1228.3,1487.3 L1229.3,1497.4 L1230.3,1507 L1231.3,1515.9 L1232.3,1524.3 L1233.3,1532 L1234.3,1539.2 L1235.3,1545.7 L1236.3,1551.7 L1237.3,1557.1 L1238.3,1562.1 L1239.3,1566.5 L1240.3,1570.6 L1241.3,1574.2 L1242.3,1577.5 L1243.3,1580.4 L1244.3,1583 L1245.3,1585.4 L1246.3,1587.6 L1247.3,1589.5 L1248.3,1591.3 L1249.3,1592.9 L1250.3,1594.3 L1251.3,1595.6 L1252.3,1596.9 L1253.3,1598 L1254.3,1599.1 L1255.3,1600 L1256.3,1600.9 L1257.3,1601.8 L1258.3,1602.6 L1259.3,1603.3 L1260.3,1604 L1261.3,1604.7 L1262.3,1605.3 L1263.3,1605.9 L1264.3,1606.5 L1265.3,1607 L1266.3,1607.5 L1267.3,1607.9 L1268.3,1608.3 L1269.3,1608.7 L1270.3,1609.1 L1271.3,1609.5 L1272.3,1609.8 L1273.3,1610.1 L1274.3,1610.4 L1275.3,1610.6 L1276.3,1610.8 L1277.3,1611 L1278.3,1611.2 L1279.3,1611.4 L1280.3,1611.5 L1281.3,1611.7 L1282.3,1611.8 L1283.3,1611.9 L1284.3,1612 L1285.3,1612.1 L1286.3,1612.2 L1287.3,1612.3 L1288.3,1612.4 L1289.3,1612.4 L1290.3,1612.5 L1291.3,1612.5 L1292.3,1612.6 L1293.3,1612.6 L1294.3,1612.7 L1295.3,1612.7 L1296.3,1612.8 L1297.3,1612.8 L1298.3,1612.8 L1299.3,1612.9 L1300.3,1612.9 L1301.3,1612.9 L1302.3,1612.9 L1303.3,1613 L1304.3,1613 L1305.3,1613 L1306.3,1613 L1307.3,1613 L1308.3,1613.1 L1309.3,1613.1 L1310.3,1613.1 L1311.3,1613.1 L1312.3,1613.1 L1313.3,1613.1 L1314.3,1613.1 L1315.3,1613.1 L1316.3,1613.2 L1317.3,1613.2 L1318.3,1613.2 L1319.3,1613.2 L1320.3,1613.2 L1321.3,1613.2 L1322.3,1613.2 L1323.3,1613.2 L1324.3,1613.2 L1325.3,1613.2 L1326.3,1613.2 L1327.3,1613.3 L1328.3,1613.3 L1329.3,1613.3 L1330.3,1613.3 L1331.3,1613.3 L1332.3,1613.3 L1333.3,1613.3 L1334.3,1613.3 L1335.3,1613.3 L1336.3,1613.3 L1337.3,1613.3 L1338.3,1613.3 L1339.3,1613.3 L1340.3,1613.3 L1341.3,1613.4 L1342.3,1613.4 L1343.3,1613.4 L1344.3,1613.4 L1345.3,1613.4 L1346.3,1613.4 L1347.3,1613.4 L1348.3,1613.4 L1349.3,1613.4 L1350.3,1613.4 L1351.3,1613.4 L1352.3,1613.4 L1353.3,1613.4 L1354.3,1613.4 L1355.3,1613.4 L1356.3,1613.4 L1357.3,1613.4 L1358.3,1613.4 L1359.3,1613.5 L1360.3,1613.5 L1361.3,1613.5 L1362.3,1613.5 L1363.3,1613.5 L1364.3,1613.5 L1365.3,1613.5 L1366.3,1613.5 L1367.3,1613.5 L1368.3,1613.5 L1369.3,1613.5 L1370.3,1613.5 L1371.3,1613.5 L1372.3,1613.5 L1373.3,1613.5 L1374.3,1613.5 L1375.3,1613.5 L1376.3,1613.5 L1377.3,1613.5 L1378.3,1613.5 L1379.3,1613.5 L1380.3,1613.5 L1381.3,1613.5 L1382.3,1613.5 L1383.3,1613.5 L1384.3,1613.5 L1385.3,1613.5 L1386.3,1613.6 L1387.3,1613.6 L1388.3,1613.6 L1389.3,1613.6 L1390.3,1613.6 L1391.3,1613.6 L1392.3,1613.6 L1393.3,1613.6 L1394.3,1613.6 L1395.3,1613.6 L1396.3,1613.6 L1397.3,1613.6 L1398.3,1613.6 L1399.3,1613.6 L1400.3,1613.6 L1401.3,1613.6 L1402.3,1613.6 L1403.3,1613.6 L1404.3,1613.6 L1405.3,1613.6 L1406.3,1613.6 L1407.3,1613.6 L1408.3,1613.6 L1409.3,1613.6 L1410.3,1613.6 L1411.3,1613.6 L1412.3,1613.6 L1413.3,1613.6 L1414.3,1613.6 L1415.3,1613.6 L1416.3,1613.6 L1417.3,1613.6 L1418.3,1613.6 L1419.3,1613.6 L1420.3,1613.6 L1421.3,1613.6 L1422.3,1613.6 L1423.3,1613.6 L1424.3,1613.6" fill="none" stroke="#e0605a" stroke-width="1.5"/>
<path d="M763.3,1595.1 L764.3,1596 L765.3,1596.8 L766.3,1597.5 L767.3,1598.1 L768.3,1598.7 L769.3,1599.1 L770.3,1599.5 L771.3,1599.7 L772.3,1599.7 L773.3,1599.7 L774.3,1599.4 L775.3,1599.1 L776.3,1598.7 L777.3,1598.3 L778.3,1597.8 L779.3,1597.4 L780.3,1597.1 L781.3,1596.9 L782.3,1596.8 L783.3,1597.1 L784.3,1597.6 L785.3,1598.3 L786.3,1599.1 L787.3,1600 L788.3,1600.9 L789.3,1601.7 L790.3,1602.4 L791.3,1602.8 L792.3,1602.9 L793.3,1602.6 L794.3,1601.7 L795.3,1600.5 L796.3,1599 L797.3,1597.2 L798.3,1595.3 L799.3,1593.4 L800.3,1591.4 L801.3,1589.6 L802.3,1588 L803.3,1586.7 L804.3,1585.7 L805.3,1585.2 L806.3,1585.2 L807.3,1585.9 L808.3,1587.2 L809.3,1589 L810.3,1591.1 L811.3,1593.4 L812.3,1595.8 L813.3,1598.2 L814.3,1600.4 L815.3,1602.3 L816.3,1603.8 L817.3,1604.8 L818.3,1605.1 L819.3,1604.7 L820.3,1603.7 L821.3,1602.3 L822.3,1600.5 L823.3,1598.5 L824.3,1596.4 L825.3,1594.2 L826.3,1592.2 L827.3,1590.3 L828.3,1588.8 L829.3,1587.8 L830.3,1587.3 L831.3,1587.3 L832.3,1587.8 L833.3,1588.5 L834.3,1589.5 L835.3,1590.6 L836.3,1591.8 L837.3,1593.1 L838.3,1594.3 L839.3,1595.4 L840.3,1596.4 L841.3,1597.1 L842.3,1597.5 L843.3,1597.6 L844.3,1597.3 L845.3,1596.8 L846.3,1596.1 L847.3,1595.4 L848.3,1594.7 L849.3,1594.2 L850.3,1593.9 L851.3,1594 L852.3,1594.2 L853.3,1594.6 L854.3,1595.1 L855.3,1595.7 L856.3,1596.2 L857.3,1596.7 L858.3,1597.1 L859.3,1597.4 L860.3,1597.6 L861.3,1597.4 L862.3,1596.9 L863.3,1596.1 L864.3,1595.2 L865.3,1594.1 L866.3,1592.9 L867.3,1591.6 L868.3,1590.5 L869.3,1589.4 L870.3,1588.5 L871.3,1587.8 L872.3,1587.3 L873.3,1587.3 L874.3,1587.7 L875.3,1588.5 L876.3,1589.5 L877.3,1590.8 L878.3,1592.1 L879.3,1593.4 L880.3,1594.6 L881.3,1595.6 L882.3,1596.2 L883.3,1596.5 L884.3,1596.2 L885.3,1595.7 L886.3,1594.9 L887.3,1594 L888.3,1592.9 L889.3,1591.7 L890.3,1590.5 L891.3,1589.3 L892.3,1588.1 L893.3,1586.9 L894.3,1585.9 L895.3,1585 L896.3,1584.2 L897.3,1583.3 L898.3,1582.4 L899.3,1581.5 L900.3,1580.6 L901.3,1579.7 L902.3,1578.8 L903.3,1578 L904.3,1577.2 L905.3,1576.4 L906.3,1575.7 L907.3,1575.1 L908.3,1574.5 L909.3,1574 L910.3,1573.6 L911.3,1573.2 L912.3,1573 L913.3,1572.8 L914.3,1572.6 L915.3,1572.6 L916.3,1572.6 L917.3,1572.6 L918.3,1572.6 L919.3,1572.7 L920.3,1572.7 L921.3,1572.7 L922.3,1572.6 L923.3,1572.5 L924.3,1572.3 L925.3,1571.9 L926.3,1571.4 L927.3,1570.7 L928.3,1569.8 L929.3,1568.7 L930.3,1567.3 L931.3,1565.7 L932.3,1563.9 L933.3,1561.7 L934.3,1559.2 L935.3,1556.5 L936.3,1553.5 L937.3,1550.2 L938.3,1546.6 L939.3,1542.8 L940.3,1538.8 L941.3,1534.5 L942.3,1530.1 L943.3,1525.7 L944.3,1521.1 L945.3,1516.6 L946.3,1512.1 L947.3,1507.7 L948.3,1503.4 L949.3,1499.4 L950.3,1495.7 L951.3,1492.3 L952.3,1489.3 L953.3,1486.7 L954.3,1484.6 L955.3,1483.1 L956.3,1482 L957.3,1481.5 L958.3,1481.6 L959.3,1482.3 L960.3,1483.5 L961.3,1485.2 L962.3,1487.5 L963.3,1490.3 L964.3,1493.5 L965.3,1497 L966.3,1501 L967.3,1505.2 L968.3,1509.6 L969.3,1514.3 L970.3,1519 L971.3,1523.8 L972.3,1528.6 L973.3,1533.4 L974.3,1538.1 L975.3,1542.7 L976.3,1547.1 L977.3,1551.3 L978.3,1555.4 L979.3,1559.2 L980.3,1562.8 L981.3,1566.3 L982.3,1569.8 L983.3,1573.1 L984.3,1576.1 L985.3,1578.7 L986.3,1580.8 L987.3,1582.3 L988.3,1583.2 L989.3,1583.7 L990.3,1584 L991.3,1584 L992.3,1583.9 L993.3,1583.9 L994.3,1583.9 L995.3,1584.2 L996.3,1584.8 L997.3,1585.7 L998.3,1586.8 L999.3,1588 L1000.3,1589.3 L1001.3,1590.5 L1002.3,1591.7 L1003.3,1592.7 L1004.3,1593.5 L1005.3,1593.9 L1006.3,1593.9 L1007.3,1593.6 L1008.3,1593 L1009.3,1592.1 L1010.3,1591.2 L1011.3,1590.3 L1012.3,1589.3 L1013.3,1588.6 L1014.3,1588 L1015.3,1587.7 L1016.3,1587.8 L1017.3,1588.1 L1018.3,1588.6 L1019.3,1589.2 L1020.3,1590 L1021.3,1590.7 L1022.3,1591.4 L1023.3,1592 L1024.3,1592.4 L1025.3,1592.5 L1026.3,1592.4 L1027.3,1592.2 L1028.3,1591.9 L1029.3,1591.5 L1030.3,1591.1 L1031.3,1590.7 L1032.3,1590.3 L1033.3,1589.9 L1034.3,1589.7 L1035.3,1589.5 L1036.3,1589.7 L1037.3,1590.2 L1038.3,1591 L1039.3,1592 L1040.3,1593.2 L1041.3,1594.3 L1042.3,1595.4 L1043.3,1596.3 L1044.3,1596.8 L1045.3,1597 L1046.3,1596.8 L1047.3,1596 L1048.3,1594.9 L1049.3,1593.6 L1050.3,1592.1 L1051.3,1590.4 L1052.3,1588.8 L1053.3,1587.2 L1054.3,1585.9 L1055.3,1584.7 L1056.3,1584 L1057.3,1583.6 L1058.3,1583.8 L1059.3,1584.6 L1060.3,1585.7 L1061.3,1587 L1062.3,1588.4 L1063.3,1589.7 L1064.3,1590.9 L1065.3,1591.7 L1066.3,1592 L1067.3,1591.8 L1068.3,1591.2 L1069.3,1590.2 L1070.3,1589.1 L1071.3,1587.8 L1072.3,1586.5 L1073.3,1585.1 L1074.3,1583.9 L1075.3,1582.8 L1076.3,1582 L1077.3,1581.5 L1078.3,1581.5 L1079.3,1581.7 L1080.3,1582.1 L1081.3,1582.7 L1082.3,1583.4 L1083.3,1584.1 L1084.3,1584.7 L1085.3,1585.2 L1086.3,1585.5 L1087.3,1585.4 L1088.3,1584.9 L1089.3,1584.1 L1090.3,1583 L1091.3,1581.8 L1092.3,1580.5 L1093.3,1579 L1094.3,1577.5 L1095.3,1575.8 L1096.3,1574.2 L1097.3,1572.6 L1098.3,1571 L1099.3,1569.4 L1100.3,1567.9 L1101.3,1566.5 L1102.3,1565.2 L1103.3,1564.1 L1104.3,1563.1 L1105.3,1562.4 L1106.3,1561.9 L1107.3,1561.7 L1108.3,1561.7 L1109.3,1561.9 L1110.3,1562.3 L1111.3,1562.9 L1112.3,1563.6 L1113.3,1564.5 L1114.3,1565.4 L1115.3,1566.3 L1116.3,1567.3 L1117.3,1568.2 L1118.3,1569 L1119.3,1569.7 L1120.3,1570.3 L1121.3,1570.7 L1122.3,1570.9 L1123.3,1571 L1124.3,1570.9 L1125.3,1570.7 L1126.3,1570.3 L1127.3,1569.7 L1128.3,1569 L1129.3,1568 L1130.3,1566.8 L1131.3,1565.3 L1132.3,1563.5 L1133.3,1561.3 L1134.3,1558.7 L1135.3,1555.6 L1136.3,1552 L1137.3,1547.6 L1138.3,1542.6 L1139.3,1536.6 L1140.3,1529.8 L1141.3,1521.9 L1142.3,1513 L1143.3,1502.9 L1144.3,1491.6 L1145.3,1479.3 L1146.3,1465.9 L1147.3,1451.5 L1148.3,1436.4 L1149.3,1420.7 L1150.3,1404.7 L1151.3,1388.8 L1152.3,1373.2 L1153.3,1358.3 L1154.3,1344.5 L1155.3,1332.2 L1156.3,1321.7 L1157.3,1313.3 L1158.3,1307.3 L1159.3,1303.7 L1160.3,1302.7 L1161.3,1304.3 L1162.3,1308.3 L1163.3,1314.7 L1164.3,1323.1 L1165.3,1333.3 L1166.3,1345 L1167.3,1357.7 L1168.3,1371.1 L1169.3,1384.8 L1170.3,1398.5 L1171.3,1411.7 L1172.3,1424.2 L1173.3,1435.8 L1174.3,1446.2 L1175.3,1455.3 L1176.3,1463 L1177.3,1469.1 L1178.3,1473.8 L1179.3,1477 L1180.3,1478.7 L1181.3,1479 L1182.3,1478 L1183.3,1475.5 L1184.3,1471.8 L1185.3,1466.9 L1186.3,1460.9 L1187.3,1453.8 L1188.3,1445.9 L1189.3,1437.1 L1190.3,1427.6 L1191.3,1417.4 L1192.3,1406.8 L1193.3,1395.8 L1194.3,1384.5 L1195.3,1373.1 L1196.3,1361.8 L1197.3,1350.6 L1198.3,1339.8 L1199.3,1329.4 L1200.3,1319.7 L1201.3,1310.8 L1202.3,1302.9 L1203.3,1295.9 L1204.3,1290.2 L1205.3,1285.7 L1206.3,1282.6 L1207.3,1280.9 L1208.3,1280.6 L1209.3,1281.8 L1210.3,1284.4 L1211.3,1288.4 L1212.3,1293.7 L1213.3,1300.3 L1214.3,1308.1 L1215.3,1316.9 L1216.3,1326.7 L1217.3,1337.2 L1218.3,1348.4 L1219.3,1360.1 L1220.3,1372.2 L1221.3,1384.5 L1222.3,1396.9 L1223.3,1409.3 L1224.3,1421.5 L1225.3,1433.5 L1226.3,1445.1 L1227.3,1456.3 L1228.3,1467 L1229.3,1477.1 L1230.3,1486.7 L1231.3,1495.6 L1232.3,1504 L1233.3,1511.7 L1234.3,1518.9 L1235.3,1525.4 L1236.3,1531.4 L1237.3,1536.8 L1238.3,1541.8 L1239.3,1546.6 L1240.3,1551.1 L1241.3,1555.4 L1242.3,1559.3 L1243.3,1562.6 L1244.3,1565.3 L1245.3,1567.4 L1246.3,1569 L1247.3,1570.3 L1248.3,1571.2 L1249.3,1572 L1250.3,1572.6 L1251.3,1573.2 L1252.3,1573.9 L1253.3,1574.7 L1254.3,1575.7 L1255.3,1576.9 L1256.3,1578.4 L1257.3,1579.9 L1258.3,1581.6 L1259.3,1583.2 L1260.3,1584.7 L1261.3,1586.1 L1262.3,1587.3 L1263.3,1588.2 L1264.3,1588.7 L1265.3,1589 L1266.3,1589 L1267.3,1588.9 L1268.3,1588.6 L1269.3,1588.3 L1270.3,1587.9 L1271.3,1587.5 L1272.3,1587.2 L1273.3,1587 L1274.3,1587 L1275.3,1587.2 L1276.3,1587.7 L1277.3,1588.5 L1278.3,1589.4 L1279.3,1590.5 L1280.3,1591.6 L1281.3,1592.8 L1282.3,1593.9 L1283.3,1594.8 L1284.3,1595.6 L1285.3,1596.1 L1286.3,1596.3 L1287.3,1596 L1288.3,1595.4 L1289.3,1594.4 L1290.3,1593.3 L1291.3,1592 L1292.3,1590.8 L1293.3,1589.7 L1294.3,1588.8 L1295.3,1588.3 L1296.3,1588.2 L1297.3,1588.4 L1298.3,1588.8 L1299.3,1589.4 L1300.3,1590.1 L1301.3,1590.9 L1302.3,1591.8 L1303.3,1592.6 L1304.3,1593.5 L1305.3,1594.2 L1306.3,1594.8 L1307.3,1595.2 L1308.3,1595.4 L1309.3,1595.2 L1310.3,1594.6 L1311.3,1593.7 L1312.3,1592.6 L1313.3,1591.4 L1314.3,1590.3 L1315.3,1589.4 L1316.3,1588.8 L1317.3,1588.6 L1318.3,1588.6 L1319.3,1588.8 L1320.3,1589 L1321.3,1589.2 L1322.3,1589.5 L1323.3,1589.8 L1324.3,1590.2 L1325.3,1590.5 L1326.3,1590.9 L1327.3,1591.3 L1328.3,1591.7 L1329.3,1592.1 L1330.3,1592.6 L1331.3,1593.2 L1332.3,1593.8 L1333.3,1594.5 L1334.3,1595.2 L1335.3,1595.9 L1336.3,1596.7 L1337.3,1597.4 L1338.3,1598.1 L1339.3,1598.8 L1340.3,1599.4 L1341.3,1599.9 L1342.3,1600.4 L1343.3,1600.8 L1344.3,1601 L1345.3,1601.2 L1346.3,1601.2 L1347.3,1601.2 L1348.3,1601.1 L1349.3,1601 L1350.3,1600.9 L1351.3,1600.8 L1352.3,1600.6 L1353.3,1600.4 L1354.3,1600.2 L1355.3,1600 L1356.3,1599.7 L1357.3,1599.5 L1358.3,1599.2 L1359.3,1598.9 L1360.3,1598.5 L1361.3,1598.2 L1362.3,1597.9 L1363.3,1597.5 L1364.3,1596.9 L1365.3,1595.9 L1366.3,1594.6 L1367.3,1593.2 L1368.3,1591.5 L1369.3,1589.8 L1370.3,1588 L1371.3,1586.2 L1372.3,1584.5 L1373.3,1582.9 L1374.3,1581.5 L1375.3,1580.4 L1376.3,1579.5 L1377.3,1579 L1378.3,1579 L1379.3,1579.4 L1380.3,1580.2 L1381.3,1581.5 L1382.3,1583.1 L1383.3,1585 L1384.3,1587.1 L1385.3,1589.4 L1386.3,1591.7 L1387.3,1594.1 L1388.3,1596.4 L1389.3,1598.6 L1390.3,1600.7 L1391.3,1602.5 L1392.3,1604.1 L1393.3,1605.3 L1394.3,1606.1 L1395.3,1606.4 L1396.3,1606.2 L1397.3,1605.5 L1398.3,1604.5 L1399.3,1603.1 L1400.3,1601.4 L1401.3,1599.5 L1402.3,1597.5 L1403.3,1595.3 L1404.3,1593.1 L1405.3,1591 L1406.3,1588.8 L1407.3,1586.9 L1408.3,1585.1 L1409.3,1583.5 L1410.3,1582.3 L1411.3,1581.5 L1412.3,1581 L1413.3,1581 L1414.3,1581 L1415.3,1581 L1416.3,1581.1 L1417.3,1581.2 L1418.3,1581.3 L1419.3,1581.5 L1420.3,1581.7 L1421.3,1582 L1422.3,1582.4 L1423.3,1582.9 L1424.3,1583.5" fill="none" stroke="#3c3c3c" stroke-width="1.6"/>
<text x="1260.8" y="1271" font-size="24.5" text-anchor="start" fill="#111" font-weight="normal" textLength="73.7" lengthAdjust="spacingAndGlyphs" >95S5C</text>
<text x="1335.1" y="1276.8" font-size="17" text-anchor="start" fill="#111" font-weight="normal" textLength="33.2" lengthAdjust="spacingAndGlyphs" >CME</text>
<text x="1368.9" y="1271" font-size="24.5" text-anchor="start" fill="#111" font-weight="normal" textLength="36.3" lengthAdjust="spacingAndGlyphs" >-CL</text>
<line x1="762.8" y1="1633.8" x2="762.8" y2="1648.8" stroke="#000" stroke-width="2"/>
<text x="761.3" y="1672.6" font-size="25" text-anchor="middle" fill="#111" font-weight="normal" style="letter-spacing:-1px" >-30</text>
<line x1="818" y1="1633.8" x2="818" y2="1643.8" stroke="#000" stroke-width="2"/>
<line x1="873.3" y1="1633.8" x2="873.3" y2="1648.8" stroke="#000" stroke-width="2"/>
<text x="871.8" y="1672.6" font-size="25" text-anchor="middle" fill="#111" font-weight="normal" style="letter-spacing:-1px" >-50</text>
<line x1="928.5" y1="1633.8" x2="928.5" y2="1643.8" stroke="#000" stroke-width="2"/>
<line x1="983.8" y1="1633.8" x2="983.8" y2="1648.8" stroke="#000" stroke-width="2"/>
<text x="982.3" y="1672.6" font-size="25" text-anchor="middle" fill="#111" font-weight="normal" style="letter-spacing:-1px" >-70</text>
<line x1="1039" y1="1633.8" x2="1039" y2="1643.8" stroke="#000" stroke-width="2"/>
<line x1="1094.2" y1="1633.8" x2="1094.2" y2="1648.8" stroke="#000" stroke-width="2"/>
<text x="1092.7" y="1672.6" font-size="25" text-anchor="middle" fill="#111" font-weight="normal" style="letter-spacing:-1px" >-90</text>
<line x1="1149.5" y1="1633.8" x2="1149.5" y2="1643.8" stroke="#000" stroke-width="2"/>
<line x1="1204.7" y1="1633.8" x2="1204.7" y2="1648.8" stroke="#000" stroke-width="2"/>
<text x="1203.2" y="1672.6" font-size="25" text-anchor="middle" fill="#111" font-weight="normal" style="letter-spacing:-1px" >-110</text>
<line x1="1260" y1="1633.8" x2="1260" y2="1643.8" stroke="#000" stroke-width="2"/>
<line x1="1315.2" y1="1633.8" x2="1315.2" y2="1648.8" stroke="#000" stroke-width="2"/>
<text x="1313.7" y="1672.6" font-size="25" text-anchor="middle" fill="#111" font-weight="normal" style="letter-spacing:-1px" >-130</text>
<line x1="1370.4" y1="1633.8" x2="1370.4" y2="1643.8" stroke="#000" stroke-width="2"/>
<line x1="1425.7" y1="1633.8" x2="1425.7" y2="1648.8" stroke="#000" stroke-width="2"/>
<text x="1424.2" y="1672.6" font-size="25" text-anchor="middle" fill="#111" font-weight="normal" style="letter-spacing:-1px" >-150</text>
<text x="902.4" y="63.3" font-size="31" text-anchor="start" fill="#111" font-weight="normal" >T</text><text x="922.5" y="53.4" font-size="19" text-anchor="start" fill="#111" font-weight="normal" >2</text>
<text x="949.5" y="63.3" font-size="31" text-anchor="start" fill="#111" font-weight="normal" >T</text><text x="969.6" y="53.4" font-size="19" text-anchor="start" fill="#111" font-weight="normal" >3</text>
<text x="1035.9" y="63.3" font-size="31" text-anchor="start" fill="#111" font-weight="normal" >Q</text><text x="1062.2" y="53.4" font-size="19" text-anchor="start" fill="#111" font-weight="normal" >1</text>
<text x="1085.4" y="63.3" font-size="31" text-anchor="start" fill="#111" font-weight="normal" >Q</text><text x="1111.1" y="53.4" font-size="19" text-anchor="start" fill="#111" font-weight="normal" >2</text>
<text x="1138.2" y="63.3" font-size="31" text-anchor="start" fill="#111" font-weight="normal" >Q</text><text x="1165.2" y="53.4" font-size="19" text-anchor="start" fill="#111" font-weight="normal" >3</text>
<text x="1187.8" y="63.3" font-size="31" text-anchor="start" fill="#111" font-weight="normal" >Q</text><text x="1213.4" y="53.4" font-size="19" text-anchor="start" fill="#111" font-weight="normal" >4</text>
<text x="1006.5" y="1723" font-size="38" font-style="italic" fill="#111" font-family="Liberation Serif">&#948;</text>
<text x="1025.9" y="1736.6" font-size="23" text-anchor="start" fill="#111" font-weight="normal" textLength="30.4" lengthAdjust="spacingAndGlyphs" >iso</text>
<text x="1059.7" y="1723" font-size="31" text-anchor="start" fill="#111" font-weight="normal" >(</text>
<text x="1069.8" y="1708.5" font-size="20.5" text-anchor="start" fill="#111" font-weight="normal" textLength="25.4" lengthAdjust="spacingAndGlyphs" >29</text>
<text x="1095.2" y="1723" font-size="31" text-anchor="start" fill="#111" font-weight="normal" textLength="126.7" lengthAdjust="spacingAndGlyphs" >Si)/ppm</text>
</svg></body></html>
